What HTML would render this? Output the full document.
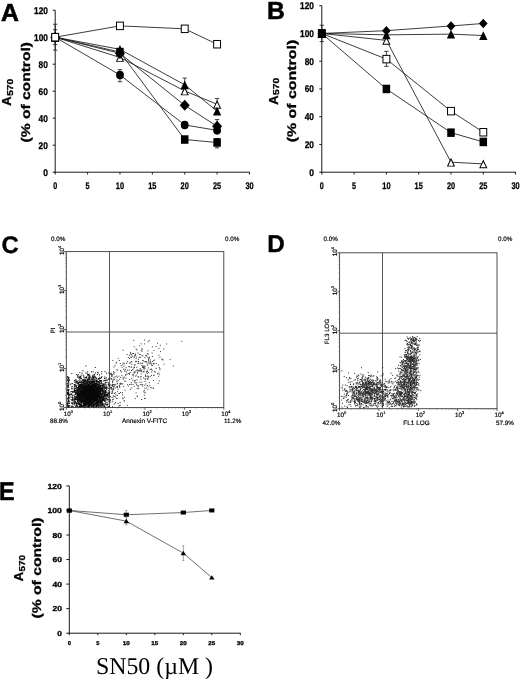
<!DOCTYPE html>
<html><head><meta charset="utf-8"><title>Figure</title>
<style>html,body{margin:0;padding:0;background:#fff}svg{display:block;will-change:transform;transform:translateZ(0)}text{text-rendering:geometricPrecision}</style></head>
<body>
<svg width="520" height="680" viewBox="0 0 520 680">
<rect width="520" height="680" fill="#fff"/>
<defs><filter id="soft" x="0" y="0" width="100%" height="100%" filterUnits="userSpaceOnUse" color-interpolation-filters="sRGB"><feGaussianBlur stdDeviation="0.38"/></filter></defs>
<g filter="url(#soft)">
<text x="1.00" y="21.30" font-family="Liberation Sans, sans-serif" font-weight="bold" font-size="24.8" stroke="#000" stroke-width="0.6" fill="#000">A</text>
<line x1="55.20" y1="10.20" x2="55.20" y2="172.70" stroke="#1a1a1a" stroke-width="1"/>
<line x1="54.70" y1="172.20" x2="249.78" y2="172.20" stroke="#1a1a1a" stroke-width="1"/>
<line x1="52.70" y1="172.20" x2="55.20" y2="172.20" stroke="#1a1a1a" stroke-width="1"/>
<text x="47.90" y="175.60" font-family="Liberation Sans, sans-serif" font-weight="bold" font-size="9.8" text-anchor="end" stroke="#000" stroke-width="0.3" textLength="4.70" lengthAdjust="spacingAndGlyphs" fill="#000">0</text>
<line x1="52.70" y1="145.20" x2="55.20" y2="145.20" stroke="#1a1a1a" stroke-width="1"/>
<text x="47.90" y="148.60" font-family="Liberation Sans, sans-serif" font-weight="bold" font-size="9.8" text-anchor="end" stroke="#000" stroke-width="0.3" textLength="9.30" lengthAdjust="spacingAndGlyphs" fill="#000">20</text>
<line x1="52.70" y1="118.20" x2="55.20" y2="118.20" stroke="#1a1a1a" stroke-width="1"/>
<text x="47.90" y="121.60" font-family="Liberation Sans, sans-serif" font-weight="bold" font-size="9.8" text-anchor="end" stroke="#000" stroke-width="0.3" textLength="9.30" lengthAdjust="spacingAndGlyphs" fill="#000">40</text>
<line x1="52.70" y1="91.20" x2="55.20" y2="91.20" stroke="#1a1a1a" stroke-width="1"/>
<text x="47.90" y="94.60" font-family="Liberation Sans, sans-serif" font-weight="bold" font-size="9.8" text-anchor="end" stroke="#000" stroke-width="0.3" textLength="9.30" lengthAdjust="spacingAndGlyphs" fill="#000">60</text>
<line x1="52.70" y1="64.20" x2="55.20" y2="64.20" stroke="#1a1a1a" stroke-width="1"/>
<text x="47.90" y="67.60" font-family="Liberation Sans, sans-serif" font-weight="bold" font-size="9.8" text-anchor="end" stroke="#000" stroke-width="0.3" textLength="9.30" lengthAdjust="spacingAndGlyphs" fill="#000">80</text>
<line x1="52.70" y1="37.20" x2="55.20" y2="37.20" stroke="#1a1a1a" stroke-width="1"/>
<text x="47.90" y="40.60" font-family="Liberation Sans, sans-serif" font-weight="bold" font-size="9.8" text-anchor="end" stroke="#000" stroke-width="0.3" textLength="13.90" lengthAdjust="spacingAndGlyphs" fill="#000">100</text>
<line x1="52.70" y1="10.20" x2="55.20" y2="10.20" stroke="#1a1a1a" stroke-width="1"/>
<text x="47.90" y="13.60" font-family="Liberation Sans, sans-serif" font-weight="bold" font-size="9.8" text-anchor="end" stroke="#000" stroke-width="0.3" textLength="13.90" lengthAdjust="spacingAndGlyphs" fill="#000">120</text>
<line x1="55.20" y1="172.20" x2="55.20" y2="174.50" stroke="#1a1a1a" stroke-width="1"/>
<text x="55.20" y="189.00" font-family="Liberation Sans, sans-serif" font-weight="bold" font-size="9.6" text-anchor="middle" stroke="#000" stroke-width="0.3" textLength="4.00" lengthAdjust="spacingAndGlyphs" fill="#000">0</text>
<line x1="87.58" y1="172.20" x2="87.58" y2="174.50" stroke="#1a1a1a" stroke-width="1"/>
<text x="87.58" y="189.00" font-family="Liberation Sans, sans-serif" font-weight="bold" font-size="9.6" text-anchor="middle" stroke="#000" stroke-width="0.3" textLength="4.00" lengthAdjust="spacingAndGlyphs" fill="#000">5</text>
<line x1="119.96" y1="172.20" x2="119.96" y2="174.50" stroke="#1a1a1a" stroke-width="1"/>
<text x="119.96" y="189.00" font-family="Liberation Sans, sans-serif" font-weight="bold" font-size="9.6" text-anchor="middle" stroke="#000" stroke-width="0.3" textLength="8.20" lengthAdjust="spacingAndGlyphs" fill="#000">10</text>
<line x1="152.34" y1="172.20" x2="152.34" y2="174.50" stroke="#1a1a1a" stroke-width="1"/>
<text x="152.34" y="189.00" font-family="Liberation Sans, sans-serif" font-weight="bold" font-size="9.6" text-anchor="middle" stroke="#000" stroke-width="0.3" textLength="8.20" lengthAdjust="spacingAndGlyphs" fill="#000">15</text>
<line x1="184.72" y1="172.20" x2="184.72" y2="174.50" stroke="#1a1a1a" stroke-width="1"/>
<text x="184.72" y="189.00" font-family="Liberation Sans, sans-serif" font-weight="bold" font-size="9.6" text-anchor="middle" stroke="#000" stroke-width="0.3" textLength="8.20" lengthAdjust="spacingAndGlyphs" fill="#000">20</text>
<line x1="217.10" y1="172.20" x2="217.10" y2="174.50" stroke="#1a1a1a" stroke-width="1"/>
<text x="217.10" y="189.00" font-family="Liberation Sans, sans-serif" font-weight="bold" font-size="9.6" text-anchor="middle" stroke="#000" stroke-width="0.3" textLength="8.20" lengthAdjust="spacingAndGlyphs" fill="#000">25</text>
<line x1="249.48" y1="172.20" x2="249.48" y2="174.50" stroke="#1a1a1a" stroke-width="1"/>
<text x="249.48" y="189.00" font-family="Liberation Sans, sans-serif" font-weight="bold" font-size="9.6" text-anchor="middle" stroke="#000" stroke-width="0.3" textLength="8.20" lengthAdjust="spacingAndGlyphs" fill="#000">30</text>
<polyline points="55.20,37.20 119.96,57.45 184.72,90.93 217.10,104.29" fill="none" stroke="#1a1a1a" stroke-width="0.85"/>
<polyline points="55.20,37.20 119.96,49.35 184.72,84.85 217.10,111.18" fill="none" stroke="#1a1a1a" stroke-width="0.85"/>
<polyline points="55.20,37.20 119.96,53.40 184.72,105.37 217.10,126.30" fill="none" stroke="#1a1a1a" stroke-width="0.85"/>
<polyline points="55.20,37.20 119.96,75.00 184.72,124.95 217.10,130.35" fill="none" stroke="#1a1a1a" stroke-width="0.85"/>
<polyline points="55.20,37.20 119.96,52.05 184.72,139.53 217.10,142.50" fill="none" stroke="#1a1a1a" stroke-width="0.85"/>
<polyline points="55.20,37.20 119.96,25.86 184.72,28.83 217.10,44.22" fill="none" stroke="#1a1a1a" stroke-width="0.85"/>
<line x1="55.20" y1="29.77" x2="55.20" y2="44.62" stroke="#1a1a1a" stroke-width="0.8"/>
<line x1="53.00" y1="29.77" x2="57.40" y2="29.77" stroke="#1a1a1a" stroke-width="0.8"/>
<line x1="53.00" y1="44.62" x2="57.40" y2="44.62" stroke="#1a1a1a" stroke-width="0.8"/>
<line x1="217.10" y1="98.49" x2="217.10" y2="104.29" stroke="#1a1a1a" stroke-width="0.8"/>
<line x1="214.90" y1="98.49" x2="219.30" y2="98.49" stroke="#1a1a1a" stroke-width="0.8"/>
<line x1="184.72" y1="78.10" x2="184.72" y2="84.85" stroke="#1a1a1a" stroke-width="0.8"/>
<line x1="182.52" y1="78.10" x2="186.92" y2="78.10" stroke="#1a1a1a" stroke-width="0.8"/>
<line x1="217.10" y1="119.55" x2="217.10" y2="126.30" stroke="#1a1a1a" stroke-width="0.8"/>
<line x1="214.90" y1="119.55" x2="219.30" y2="119.55" stroke="#1a1a1a" stroke-width="0.8"/>
<line x1="119.96" y1="69.60" x2="119.96" y2="81.75" stroke="#1a1a1a" stroke-width="0.8"/>
<line x1="117.76" y1="69.60" x2="122.16" y2="69.60" stroke="#1a1a1a" stroke-width="0.8"/>
<line x1="117.76" y1="81.75" x2="122.16" y2="81.75" stroke="#1a1a1a" stroke-width="0.8"/>
<line x1="217.10" y1="138.45" x2="217.10" y2="147.90" stroke="#1a1a1a" stroke-width="0.8"/>
<line x1="214.90" y1="138.45" x2="219.30" y2="138.45" stroke="#1a1a1a" stroke-width="0.8"/>
<line x1="214.90" y1="147.90" x2="219.30" y2="147.90" stroke="#1a1a1a" stroke-width="0.8"/>
<line x1="55.20" y1="24.24" x2="55.20" y2="50.16" stroke="#1a1a1a" stroke-width="0.8"/>
<line x1="53.00" y1="24.24" x2="57.40" y2="24.24" stroke="#1a1a1a" stroke-width="0.8"/>
<line x1="53.00" y1="50.16" x2="57.40" y2="50.16" stroke="#1a1a1a" stroke-width="0.8"/>
<polygon points="55.20,32.85 59.35,41.55 51.05,41.55" fill="#000"/>
<polygon points="55.20,35.25 57.85,40.65 52.55,40.65" fill="#fff"/>
<polygon points="119.96,53.10 124.11,61.80 115.81,61.80" fill="#000"/>
<polygon points="119.96,55.50 122.61,60.90 117.31,60.90" fill="#fff"/>
<polygon points="184.72,86.58 188.87,95.28 180.57,95.28" fill="#000"/>
<polygon points="184.72,88.98 187.37,94.38 182.07,94.38" fill="#fff"/>
<polygon points="217.10,99.94 221.25,108.64 212.95,108.64" fill="#000"/>
<polygon points="217.10,102.34 219.75,107.74 214.45,107.74" fill="#fff"/>
<polygon points="55.20,32.85 59.35,41.55 51.05,41.55" fill="#000"/>
<polygon points="119.96,45.00 124.11,53.70 115.81,53.70" fill="#000"/>
<polygon points="184.72,80.50 188.87,89.20 180.57,89.20" fill="#000"/>
<polygon points="217.10,106.83 221.25,115.53 212.95,115.53" fill="#000"/>
<polygon points="55.20,31.70 60.20,37.20 55.20,42.70 50.20,37.20" fill="#000"/>
<polygon points="119.96,47.90 124.96,53.40 119.96,58.90 114.96,53.40" fill="#000"/>
<polygon points="184.72,99.87 189.72,105.37 184.72,110.87 179.72,105.37" fill="#000"/>
<polygon points="217.10,120.80 222.10,126.30 217.10,131.80 212.10,126.30" fill="#000"/>
<ellipse cx="55.20" cy="37.20" rx="3.90" ry="4.30" fill="#000"/>
<ellipse cx="119.96" cy="75.00" rx="3.90" ry="4.30" fill="#000"/>
<ellipse cx="184.72" cy="124.95" rx="3.90" ry="4.30" fill="#000"/>
<ellipse cx="217.10" cy="130.35" rx="3.90" ry="4.30" fill="#000"/>
<rect x="51.45" y="32.95" width="7.50" height="8.50" fill="#000"/>
<rect x="116.21" y="47.80" width="7.50" height="8.50" fill="#000"/>
<rect x="180.97" y="135.28" width="7.50" height="8.50" fill="#000"/>
<rect x="213.35" y="138.25" width="7.50" height="8.50" fill="#000"/>
<rect x="51.75" y="33.45" width="6.90" height="7.50" fill="#fff" stroke="#000" stroke-width="1"/>
<rect x="116.51" y="22.11" width="6.90" height="7.50" fill="#fff" stroke="#000" stroke-width="1"/>
<rect x="181.27" y="25.08" width="6.90" height="7.50" fill="#fff" stroke="#000" stroke-width="1"/>
<rect x="213.65" y="40.47" width="6.90" height="7.50" fill="#fff" stroke="#000" stroke-width="1"/>
<text transform="translate(11.40,105.70) rotate(-90)" font-family="Liberation Sans, sans-serif" font-weight="bold" font-size="13" stroke="#000" stroke-width="0.3" fill="#000">A</text>
<text transform="translate(12.80,95.80) rotate(-90)" font-family="Liberation Sans, sans-serif" font-weight="bold" font-size="8.6" stroke="#000" stroke-width="0.3" textLength="17.00" lengthAdjust="spacingAndGlyphs" fill="#000">570</text>
<text transform="translate(30.00,142.50) rotate(-90)" font-family="Liberation Sans, sans-serif" font-weight="bold" font-size="12.5" stroke="#000" stroke-width="0.3" textLength="100.50" lengthAdjust="spacingAndGlyphs" fill="#000">(% of control)</text>
<text x="267.00" y="18.90" font-family="Liberation Sans, sans-serif" font-weight="bold" font-size="24.7" stroke="#000" stroke-width="0.5" fill="#000">B</text>
<line x1="321.80" y1="5.70" x2="321.80" y2="172.70" stroke="#1a1a1a" stroke-width="1"/>
<line x1="321.30" y1="172.20" x2="515.90" y2="172.20" stroke="#1a1a1a" stroke-width="1"/>
<line x1="319.30" y1="172.20" x2="321.80" y2="172.20" stroke="#1a1a1a" stroke-width="1"/>
<text x="314.00" y="175.60" font-family="Liberation Sans, sans-serif" font-weight="bold" font-size="9.8" text-anchor="end" stroke="#000" stroke-width="0.3" textLength="4.70" lengthAdjust="spacingAndGlyphs" fill="#000">0</text>
<line x1="319.30" y1="144.45" x2="321.80" y2="144.45" stroke="#1a1a1a" stroke-width="1"/>
<text x="314.00" y="147.85" font-family="Liberation Sans, sans-serif" font-weight="bold" font-size="9.8" text-anchor="end" stroke="#000" stroke-width="0.3" textLength="9.30" lengthAdjust="spacingAndGlyphs" fill="#000">20</text>
<line x1="319.30" y1="116.70" x2="321.80" y2="116.70" stroke="#1a1a1a" stroke-width="1"/>
<text x="314.00" y="120.10" font-family="Liberation Sans, sans-serif" font-weight="bold" font-size="9.8" text-anchor="end" stroke="#000" stroke-width="0.3" textLength="9.30" lengthAdjust="spacingAndGlyphs" fill="#000">40</text>
<line x1="319.30" y1="88.95" x2="321.80" y2="88.95" stroke="#1a1a1a" stroke-width="1"/>
<text x="314.00" y="92.35" font-family="Liberation Sans, sans-serif" font-weight="bold" font-size="9.8" text-anchor="end" stroke="#000" stroke-width="0.3" textLength="9.30" lengthAdjust="spacingAndGlyphs" fill="#000">60</text>
<line x1="319.30" y1="61.20" x2="321.80" y2="61.20" stroke="#1a1a1a" stroke-width="1"/>
<text x="314.00" y="64.60" font-family="Liberation Sans, sans-serif" font-weight="bold" font-size="9.8" text-anchor="end" stroke="#000" stroke-width="0.3" textLength="9.30" lengthAdjust="spacingAndGlyphs" fill="#000">80</text>
<line x1="319.30" y1="33.45" x2="321.80" y2="33.45" stroke="#1a1a1a" stroke-width="1"/>
<text x="314.00" y="36.85" font-family="Liberation Sans, sans-serif" font-weight="bold" font-size="9.8" text-anchor="end" stroke="#000" stroke-width="0.3" textLength="13.90" lengthAdjust="spacingAndGlyphs" fill="#000">100</text>
<line x1="319.30" y1="5.70" x2="321.80" y2="5.70" stroke="#1a1a1a" stroke-width="1"/>
<text x="314.00" y="9.10" font-family="Liberation Sans, sans-serif" font-weight="bold" font-size="9.8" text-anchor="end" stroke="#000" stroke-width="0.3" textLength="13.90" lengthAdjust="spacingAndGlyphs" fill="#000">120</text>
<line x1="321.80" y1="172.20" x2="321.80" y2="174.50" stroke="#1a1a1a" stroke-width="1"/>
<text x="321.80" y="189.00" font-family="Liberation Sans, sans-serif" font-weight="bold" font-size="9.6" text-anchor="middle" stroke="#000" stroke-width="0.3" textLength="4.00" lengthAdjust="spacingAndGlyphs" fill="#000">0</text>
<line x1="354.10" y1="172.20" x2="354.10" y2="174.50" stroke="#1a1a1a" stroke-width="1"/>
<text x="354.10" y="189.00" font-family="Liberation Sans, sans-serif" font-weight="bold" font-size="9.6" text-anchor="middle" stroke="#000" stroke-width="0.3" textLength="4.00" lengthAdjust="spacingAndGlyphs" fill="#000">5</text>
<line x1="386.40" y1="172.20" x2="386.40" y2="174.50" stroke="#1a1a1a" stroke-width="1"/>
<text x="386.40" y="189.00" font-family="Liberation Sans, sans-serif" font-weight="bold" font-size="9.6" text-anchor="middle" stroke="#000" stroke-width="0.3" textLength="8.20" lengthAdjust="spacingAndGlyphs" fill="#000">10</text>
<line x1="418.70" y1="172.20" x2="418.70" y2="174.50" stroke="#1a1a1a" stroke-width="1"/>
<text x="418.70" y="189.00" font-family="Liberation Sans, sans-serif" font-weight="bold" font-size="9.6" text-anchor="middle" stroke="#000" stroke-width="0.3" textLength="8.20" lengthAdjust="spacingAndGlyphs" fill="#000">15</text>
<line x1="451.00" y1="172.20" x2="451.00" y2="174.50" stroke="#1a1a1a" stroke-width="1"/>
<text x="451.00" y="189.00" font-family="Liberation Sans, sans-serif" font-weight="bold" font-size="9.6" text-anchor="middle" stroke="#000" stroke-width="0.3" textLength="8.20" lengthAdjust="spacingAndGlyphs" fill="#000">20</text>
<line x1="483.30" y1="172.20" x2="483.30" y2="174.50" stroke="#1a1a1a" stroke-width="1"/>
<text x="483.30" y="189.00" font-family="Liberation Sans, sans-serif" font-weight="bold" font-size="9.6" text-anchor="middle" stroke="#000" stroke-width="0.3" textLength="8.20" lengthAdjust="spacingAndGlyphs" fill="#000">25</text>
<line x1="515.60" y1="172.20" x2="515.60" y2="174.50" stroke="#1a1a1a" stroke-width="1"/>
<text x="515.60" y="189.00" font-family="Liberation Sans, sans-serif" font-weight="bold" font-size="9.6" text-anchor="middle" stroke="#000" stroke-width="0.3" textLength="8.20" lengthAdjust="spacingAndGlyphs" fill="#000">30</text>
<polyline points="321.80,33.45 386.40,40.39 451.00,162.21 483.30,163.88" fill="none" stroke="#1a1a1a" stroke-width="0.85"/>
<polyline points="321.80,33.45 386.40,59.12 451.00,111.15 483.30,132.24" fill="none" stroke="#1a1a1a" stroke-width="0.85"/>
<polyline points="321.80,33.45 386.40,88.95 451.00,132.66 483.30,141.95" fill="none" stroke="#1a1a1a" stroke-width="0.85"/>
<polyline points="321.80,33.45 386.40,34.84 451.00,34.14 483.30,35.53" fill="none" stroke="#1a1a1a" stroke-width="0.85"/>
<polyline points="321.80,33.45 386.40,30.67 451.00,25.96 483.30,23.46" fill="none" stroke="#1a1a1a" stroke-width="0.85"/>
<line x1="386.40" y1="51.35" x2="386.40" y2="66.33" stroke="#1a1a1a" stroke-width="0.8"/>
<line x1="384.20" y1="51.35" x2="388.60" y2="51.35" stroke="#1a1a1a" stroke-width="0.8"/>
<line x1="384.20" y1="66.33" x2="388.60" y2="66.33" stroke="#1a1a1a" stroke-width="0.8"/>
<line x1="321.80" y1="25.26" x2="321.80" y2="41.64" stroke="#1a1a1a" stroke-width="0.8"/>
<line x1="319.60" y1="25.26" x2="324.00" y2="25.26" stroke="#1a1a1a" stroke-width="0.8"/>
<line x1="319.60" y1="41.64" x2="324.00" y2="41.64" stroke="#1a1a1a" stroke-width="0.8"/>
<polygon points="321.80,29.10 325.95,37.80 317.65,37.80" fill="#000"/>
<polygon points="321.80,31.50 324.45,36.90 319.15,36.90" fill="#fff"/>
<polygon points="386.40,36.04 390.55,44.74 382.25,44.74" fill="#000"/>
<polygon points="386.40,38.44 389.05,43.84 383.75,43.84" fill="#fff"/>
<polygon points="451.00,157.86 455.15,166.56 446.85,166.56" fill="#000"/>
<polygon points="451.00,160.26 453.65,165.66 448.35,165.66" fill="#fff"/>
<polygon points="483.30,159.53 487.45,168.22 479.15,168.22" fill="#000"/>
<polygon points="483.30,161.93 485.95,167.32 480.65,167.32" fill="#fff"/>
<rect x="318.35" y="29.70" width="6.90" height="7.50" fill="#fff" stroke="#000" stroke-width="1"/>
<rect x="382.95" y="55.37" width="6.90" height="7.50" fill="#fff" stroke="#000" stroke-width="1"/>
<rect x="447.55" y="107.40" width="6.90" height="7.50" fill="#fff" stroke="#000" stroke-width="1"/>
<rect x="479.85" y="128.49" width="6.90" height="7.50" fill="#fff" stroke="#000" stroke-width="1"/>
<rect x="318.05" y="29.20" width="7.50" height="8.50" fill="#000"/>
<rect x="382.65" y="84.70" width="7.50" height="8.50" fill="#000"/>
<rect x="447.25" y="128.41" width="7.50" height="8.50" fill="#000"/>
<rect x="479.55" y="137.70" width="7.50" height="8.50" fill="#000"/>
<polygon points="321.80,29.10 325.95,37.80 317.65,37.80" fill="#000"/>
<polygon points="386.40,30.49 390.55,39.19 382.25,39.19" fill="#000"/>
<polygon points="451.00,29.79 455.15,38.49 446.85,38.49" fill="#000"/>
<polygon points="483.30,31.18 487.45,39.88 479.15,39.88" fill="#000"/>
<polygon points="321.80,28.66 326.15,33.45 321.80,38.23 317.45,33.45" fill="#000"/>
<polygon points="386.40,25.89 390.75,30.67 386.40,35.46 382.05,30.67" fill="#000"/>
<polygon points="451.00,21.17 455.35,25.96 451.00,30.74 446.65,25.96" fill="#000"/>
<polygon points="483.30,18.67 487.65,23.46 483.30,28.24 478.95,23.46" fill="#000"/>
<text transform="translate(277.50,104.80) rotate(-90)" font-family="Liberation Sans, sans-serif" font-weight="bold" font-size="13" stroke="#000" stroke-width="0.3" fill="#000">A</text>
<text transform="translate(279.30,94.90) rotate(-90)" font-family="Liberation Sans, sans-serif" font-weight="bold" font-size="8.6" stroke="#000" stroke-width="0.3" textLength="17.00" lengthAdjust="spacingAndGlyphs" fill="#000">570</text>
<text transform="translate(295.50,142.30) rotate(-90)" font-family="Liberation Sans, sans-serif" font-weight="bold" font-size="12.5" stroke="#000" stroke-width="0.3" textLength="102.50" lengthAdjust="spacingAndGlyphs" fill="#000">(% of control)</text>
<rect x="66.30" y="251.60" width="157.50" height="155.90" fill="none" stroke="#3a3a3a" stroke-width="0.9"/>
<line x1="109.50" y1="251.60" x2="109.50" y2="407.50" stroke="#3a3a3a" stroke-width="0.85"/>
<line x1="66.30" y1="332.00" x2="223.80" y2="332.00" stroke="#3a3a3a" stroke-width="0.85"/>
<text x="1.40" y="253.10" font-family="Liberation Sans, sans-serif" font-weight="bold" font-size="23.9" stroke="#000" stroke-width="0.35" fill="#000">C</text>
<line x1="78.15" y1="407.50" x2="78.15" y2="408.70" stroke="#777" stroke-width="0.6"/>
<line x1="65.10" y1="395.77" x2="66.30" y2="395.77" stroke="#777" stroke-width="0.6"/>
<line x1="85.09" y1="407.50" x2="85.09" y2="408.70" stroke="#777" stroke-width="0.6"/>
<line x1="65.10" y1="388.90" x2="66.30" y2="388.90" stroke="#777" stroke-width="0.6"/>
<line x1="90.01" y1="407.50" x2="90.01" y2="408.70" stroke="#777" stroke-width="0.6"/>
<line x1="65.10" y1="384.03" x2="66.30" y2="384.03" stroke="#777" stroke-width="0.6"/>
<line x1="93.82" y1="407.50" x2="93.82" y2="408.70" stroke="#777" stroke-width="0.6"/>
<line x1="65.10" y1="380.26" x2="66.30" y2="380.26" stroke="#777" stroke-width="0.6"/>
<line x1="96.94" y1="407.50" x2="96.94" y2="408.70" stroke="#777" stroke-width="0.6"/>
<line x1="65.10" y1="377.17" x2="66.30" y2="377.17" stroke="#777" stroke-width="0.6"/>
<line x1="99.58" y1="407.50" x2="99.58" y2="408.70" stroke="#777" stroke-width="0.6"/>
<line x1="65.10" y1="374.56" x2="66.30" y2="374.56" stroke="#777" stroke-width="0.6"/>
<line x1="101.86" y1="407.50" x2="101.86" y2="408.70" stroke="#777" stroke-width="0.6"/>
<line x1="65.10" y1="372.30" x2="66.30" y2="372.30" stroke="#777" stroke-width="0.6"/>
<line x1="103.87" y1="407.50" x2="103.87" y2="408.70" stroke="#777" stroke-width="0.6"/>
<line x1="65.10" y1="370.31" x2="66.30" y2="370.31" stroke="#777" stroke-width="0.6"/>
<line x1="117.53" y1="407.50" x2="117.53" y2="408.70" stroke="#777" stroke-width="0.6"/>
<line x1="65.10" y1="356.79" x2="66.30" y2="356.79" stroke="#777" stroke-width="0.6"/>
<line x1="124.46" y1="407.50" x2="124.46" y2="408.70" stroke="#777" stroke-width="0.6"/>
<line x1="65.10" y1="349.93" x2="66.30" y2="349.93" stroke="#777" stroke-width="0.6"/>
<line x1="129.38" y1="407.50" x2="129.38" y2="408.70" stroke="#777" stroke-width="0.6"/>
<line x1="65.10" y1="345.06" x2="66.30" y2="345.06" stroke="#777" stroke-width="0.6"/>
<line x1="133.20" y1="407.50" x2="133.20" y2="408.70" stroke="#777" stroke-width="0.6"/>
<line x1="65.10" y1="341.28" x2="66.30" y2="341.28" stroke="#777" stroke-width="0.6"/>
<line x1="136.31" y1="407.50" x2="136.31" y2="408.70" stroke="#777" stroke-width="0.6"/>
<line x1="65.10" y1="338.20" x2="66.30" y2="338.20" stroke="#777" stroke-width="0.6"/>
<line x1="138.95" y1="407.50" x2="138.95" y2="408.70" stroke="#777" stroke-width="0.6"/>
<line x1="65.10" y1="335.59" x2="66.30" y2="335.59" stroke="#777" stroke-width="0.6"/>
<line x1="141.23" y1="407.50" x2="141.23" y2="408.70" stroke="#777" stroke-width="0.6"/>
<line x1="65.10" y1="333.33" x2="66.30" y2="333.33" stroke="#777" stroke-width="0.6"/>
<line x1="143.25" y1="407.50" x2="143.25" y2="408.70" stroke="#777" stroke-width="0.6"/>
<line x1="65.10" y1="331.33" x2="66.30" y2="331.33" stroke="#777" stroke-width="0.6"/>
<line x1="156.90" y1="407.50" x2="156.90" y2="408.70" stroke="#777" stroke-width="0.6"/>
<line x1="65.10" y1="317.82" x2="66.30" y2="317.82" stroke="#777" stroke-width="0.6"/>
<line x1="163.84" y1="407.50" x2="163.84" y2="408.70" stroke="#777" stroke-width="0.6"/>
<line x1="65.10" y1="310.95" x2="66.30" y2="310.95" stroke="#777" stroke-width="0.6"/>
<line x1="168.76" y1="407.50" x2="168.76" y2="408.70" stroke="#777" stroke-width="0.6"/>
<line x1="65.10" y1="306.08" x2="66.30" y2="306.08" stroke="#777" stroke-width="0.6"/>
<line x1="172.57" y1="407.50" x2="172.57" y2="408.70" stroke="#777" stroke-width="0.6"/>
<line x1="65.10" y1="302.31" x2="66.30" y2="302.31" stroke="#777" stroke-width="0.6"/>
<line x1="175.69" y1="407.50" x2="175.69" y2="408.70" stroke="#777" stroke-width="0.6"/>
<line x1="65.10" y1="299.22" x2="66.30" y2="299.22" stroke="#777" stroke-width="0.6"/>
<line x1="178.33" y1="407.50" x2="178.33" y2="408.70" stroke="#777" stroke-width="0.6"/>
<line x1="65.10" y1="296.61" x2="66.30" y2="296.61" stroke="#777" stroke-width="0.6"/>
<line x1="180.61" y1="407.50" x2="180.61" y2="408.70" stroke="#777" stroke-width="0.6"/>
<line x1="65.10" y1="294.35" x2="66.30" y2="294.35" stroke="#777" stroke-width="0.6"/>
<line x1="182.62" y1="407.50" x2="182.62" y2="408.70" stroke="#777" stroke-width="0.6"/>
<line x1="65.10" y1="292.36" x2="66.30" y2="292.36" stroke="#777" stroke-width="0.6"/>
<line x1="196.28" y1="407.50" x2="196.28" y2="408.70" stroke="#777" stroke-width="0.6"/>
<line x1="65.10" y1="278.84" x2="66.30" y2="278.84" stroke="#777" stroke-width="0.6"/>
<line x1="203.21" y1="407.50" x2="203.21" y2="408.70" stroke="#777" stroke-width="0.6"/>
<line x1="65.10" y1="271.98" x2="66.30" y2="271.98" stroke="#777" stroke-width="0.6"/>
<line x1="208.13" y1="407.50" x2="208.13" y2="408.70" stroke="#777" stroke-width="0.6"/>
<line x1="65.10" y1="267.11" x2="66.30" y2="267.11" stroke="#777" stroke-width="0.6"/>
<line x1="211.95" y1="407.50" x2="211.95" y2="408.70" stroke="#777" stroke-width="0.6"/>
<line x1="65.10" y1="263.33" x2="66.30" y2="263.33" stroke="#777" stroke-width="0.6"/>
<line x1="215.06" y1="407.50" x2="215.06" y2="408.70" stroke="#777" stroke-width="0.6"/>
<line x1="65.10" y1="260.25" x2="66.30" y2="260.25" stroke="#777" stroke-width="0.6"/>
<line x1="217.70" y1="407.50" x2="217.70" y2="408.70" stroke="#777" stroke-width="0.6"/>
<line x1="65.10" y1="257.64" x2="66.30" y2="257.64" stroke="#777" stroke-width="0.6"/>
<line x1="219.98" y1="407.50" x2="219.98" y2="408.70" stroke="#777" stroke-width="0.6"/>
<line x1="65.10" y1="255.38" x2="66.30" y2="255.38" stroke="#777" stroke-width="0.6"/>
<line x1="222.00" y1="407.50" x2="222.00" y2="408.70" stroke="#777" stroke-width="0.6"/>
<line x1="65.10" y1="253.38" x2="66.30" y2="253.38" stroke="#777" stroke-width="0.6"/>
<line x1="66.30" y1="407.50" x2="66.30" y2="409.70" stroke="#333" stroke-width="0.8"/>
<text x="63.70" y="415.80" font-family="Liberation Sans, sans-serif" font-weight="normal" font-size="6.3" stroke="#000" stroke-width="0.18" fill="#000">10<tspan font-size="4" dy="-2.8">0</tspan></text>
<line x1="64.10" y1="407.50" x2="66.30" y2="407.50" stroke="#333" stroke-width="0.8"/>
<text transform="translate(63.90,410.90) rotate(-90)" font-family="Liberation Sans, sans-serif" font-weight="normal" font-size="6.3" stroke="#000" stroke-width="0.18" fill="#000">10<tspan font-size="4" dy="-2.8">0</tspan></text>
<line x1="105.67" y1="407.50" x2="105.67" y2="409.70" stroke="#333" stroke-width="0.8"/>
<text x="103.08" y="415.80" font-family="Liberation Sans, sans-serif" font-weight="normal" font-size="6.3" stroke="#000" stroke-width="0.18" fill="#000">10<tspan font-size="4" dy="-2.8">1</tspan></text>
<line x1="64.10" y1="368.52" x2="66.30" y2="368.52" stroke="#333" stroke-width="0.8"/>
<text transform="translate(63.90,371.92) rotate(-90)" font-family="Liberation Sans, sans-serif" font-weight="normal" font-size="6.3" stroke="#000" stroke-width="0.18" fill="#000">10<tspan font-size="4" dy="-2.8">1</tspan></text>
<line x1="145.05" y1="407.50" x2="145.05" y2="409.70" stroke="#333" stroke-width="0.8"/>
<text x="142.45" y="415.80" font-family="Liberation Sans, sans-serif" font-weight="normal" font-size="6.3" stroke="#000" stroke-width="0.18" fill="#000">10<tspan font-size="4" dy="-2.8">2</tspan></text>
<line x1="64.10" y1="329.55" x2="66.30" y2="329.55" stroke="#333" stroke-width="0.8"/>
<text transform="translate(63.90,332.95) rotate(-90)" font-family="Liberation Sans, sans-serif" font-weight="normal" font-size="6.3" stroke="#000" stroke-width="0.18" fill="#000">10<tspan font-size="4" dy="-2.8">2</tspan></text>
<line x1="184.43" y1="407.50" x2="184.43" y2="409.70" stroke="#333" stroke-width="0.8"/>
<text x="181.83" y="415.80" font-family="Liberation Sans, sans-serif" font-weight="normal" font-size="6.3" stroke="#000" stroke-width="0.18" fill="#000">10<tspan font-size="4" dy="-2.8">3</tspan></text>
<line x1="64.10" y1="290.57" x2="66.30" y2="290.57" stroke="#333" stroke-width="0.8"/>
<text transform="translate(63.90,293.97) rotate(-90)" font-family="Liberation Sans, sans-serif" font-weight="normal" font-size="6.3" stroke="#000" stroke-width="0.18" fill="#000">10<tspan font-size="4" dy="-2.8">3</tspan></text>
<line x1="223.80" y1="407.50" x2="223.80" y2="409.70" stroke="#333" stroke-width="0.8"/>
<text x="221.20" y="415.80" font-family="Liberation Sans, sans-serif" font-weight="normal" font-size="6.3" stroke="#000" stroke-width="0.18" fill="#000">10<tspan font-size="4" dy="-2.8">4</tspan></text>
<line x1="64.10" y1="251.60" x2="66.30" y2="251.60" stroke="#333" stroke-width="0.8"/>
<text transform="translate(63.90,255.00) rotate(-90)" font-family="Liberation Sans, sans-serif" font-weight="normal" font-size="6.3" stroke="#000" stroke-width="0.18" fill="#000">10<tspan font-size="4" dy="-2.8">4</tspan></text>
<text transform="translate(54.60,330.50) rotate(-90)" font-family="Liberation Sans, sans-serif" font-weight="normal" font-size="6.2" text-anchor="middle" stroke="#000" stroke-width="0.18" fill="#000">PI</text>
<text x="144.50" y="423.40" font-family="Liberation Sans, sans-serif" font-weight="normal" font-size="6.4" text-anchor="middle" stroke="#000" stroke-width="0.18" fill="#000">Annexin V-FITC</text>
<text x="51.00" y="240.70" font-family="Liberation Sans, sans-serif" font-weight="normal" font-size="6.3" stroke="#000" stroke-width="0.18" fill="#000">0.0%</text>
<text x="225.00" y="240.70" font-family="Liberation Sans, sans-serif" font-weight="normal" font-size="6.3" stroke="#000" stroke-width="0.18" fill="#000">0.0%</text>
<text x="50.00" y="423.40" font-family="Liberation Sans, sans-serif" font-weight="normal" font-size="6.3" stroke="#000" stroke-width="0.18" fill="#000">88.8%</text>
<text x="224.00" y="423.40" font-family="Liberation Sans, sans-serif" font-weight="normal" font-size="6.3" stroke="#000" stroke-width="0.18" fill="#000">11.2%</text>
<path d="M86.6 398.7h1M86.9 391.9h1M80.4 392.7h1M99.3 398.0h1M98.6 396.6h1M92.7 396.0h1M91.2 406.0h1M100.5 391.0h1M93.8 389.2h1M91.9 397.8h1M94.2 404.4h1M83.2 388.4h1M85.8 393.6h1M94.9 396.6h1M84.8 386.6h1M84.2 404.6h1M81.5 396.5h1M93.0 382.1h1M89.5 405.3h1M70.3 391.8h1M96.1 400.3h1M89.2 389.7h1M86.4 394.7h1M81.2 382.2h1M84.8 384.0h1M80.0 390.1h1M101.0 377.6h1M75.4 396.5h1M102.4 399.3h1M71.3 373.6h1M87.0 402.5h1M88.0 393.0h1M83.5 395.7h1M91.4 396.4h1M89.6 390.2h1M89.1 402.8h1M91.6 392.0h1M77.8 397.8h1M101.8 384.2h1M93.9 389.4h1M81.4 398.5h1M106.5 380.6h1M92.4 398.7h1M89.8 400.5h1M76.7 395.5h1M88.9 395.2h1M81.2 398.4h1M68.0 386.2h1M76.2 393.4h1M87.6 392.0h1M102.1 386.0h1M100.7 384.0h1M81.7 399.7h1M99.5 401.6h1M92.2 395.7h1M90.4 399.3h1M87.4 396.8h1M94.3 394.5h1M96.1 399.2h1M107.7 397.2h1M85.0 391.4h1M88.9 402.2h1M85.9 397.7h1M106.1 373.2h1M78.5 396.5h1M92.7 396.5h1M85.0 399.9h1M91.6 390.2h1M111.6 397.4h1M83.8 393.7h1M86.9 394.0h1M86.6 388.4h1M85.2 398.2h1M90.6 384.4h1M90.5 387.2h1M107.1 393.0h1M94.9 380.1h1M88.6 388.6h1M80.3 393.6h1M91.2 394.9h1M87.7 400.8h1M80.8 375.1h1M68.3 400.9h1M97.5 392.3h1M90.2 400.4h1M91.1 399.8h1M74.8 382.0h1M94.7 386.5h1M79.5 382.3h1M100.8 400.7h1M102.7 386.7h1M89.0 385.0h1M98.2 393.0h1M70.7 406.2h1M91.3 398.3h1M90.8 390.1h1M101.1 373.9h1M84.2 388.1h1M84.3 393.2h1M113.6 396.5h1M82.3 386.3h1M98.1 390.9h1M101.0 383.3h1M90.7 400.6h1M87.2 400.4h1M82.8 391.2h1M84.7 396.6h1M96.3 390.3h1M77.1 397.4h1M97.0 389.6h1M98.5 389.7h1M77.9 392.5h1M98.9 395.5h1M89.3 395.2h1M90.7 389.6h1M74.3 396.7h1M81.3 391.9h1M77.2 393.3h1M89.9 390.7h1M82.5 392.2h1M77.1 394.0h1M90.3 376.2h1M77.0 398.5h1M77.9 394.2h1M85.4 386.0h1M78.6 392.5h1M102.5 389.9h1M104.9 380.6h1M88.3 405.1h1M105.7 389.0h1M92.1 397.7h1M85.6 395.6h1M89.2 397.7h1M81.1 381.8h1M93.3 391.6h1M86.1 382.6h1M95.4 393.3h1M98.0 392.0h1M94.2 402.0h1M80.6 393.8h1M91.7 401.4h1M88.7 392.9h1M79.6 391.5h1M97.3 395.3h1M81.1 387.5h1M113.8 404.0h1M94.9 373.0h1M94.8 398.5h1M104.7 398.1h1M88.4 398.8h1M70.9 403.1h1M88.7 399.2h1M99.6 389.3h1M87.8 391.1h1M102.3 399.0h1M85.8 396.0h1M101.2 390.1h1M90.2 391.2h1M91.1 392.1h1M95.7 387.6h1M82.7 403.4h1M95.6 391.6h1M96.8 401.9h1M89.3 398.5h1M90.6 396.8h1M91.4 401.4h1M86.3 404.0h1M92.8 401.4h1M96.0 395.2h1M104.0 395.8h1M83.3 392.8h1M93.2 386.5h1M74.8 394.0h1M97.5 393.7h1M96.2 383.2h1M82.8 388.1h1M87.2 396.8h1M91.4 396.8h1M88.6 388.1h1M91.0 397.5h1M99.2 380.4h1M85.4 388.6h1M89.4 401.4h1M83.7 395.7h1M82.1 396.7h1M113.2 389.2h1M82.3 392.7h1M96.8 393.0h1M88.7 394.8h1M81.2 400.9h1M82.8 394.4h1M88.1 394.5h1M88.6 398.1h1M86.8 395.9h1M96.8 395.5h1M90.3 405.5h1M73.8 392.0h1M84.9 377.8h1M82.6 399.2h1M94.3 394.0h1M86.8 382.7h1M106.0 398.8h1M99.2 387.2h1M87.3 379.4h1M96.3 402.3h1M71.4 394.1h1M94.7 384.7h1M100.0 386.7h1M86.7 388.9h1M93.9 395.4h1M86.2 397.5h1M95.1 385.4h1M79.9 386.1h1M84.5 385.8h1M105.6 394.8h1M88.9 384.7h1M75.7 391.8h1M102.9 400.0h1M88.9 397.8h1M99.7 393.0h1M81.1 400.9h1M82.6 381.5h1M79.1 386.5h1M93.6 396.7h1M85.0 404.6h1M92.3 394.7h1M87.4 406.8h1M84.0 382.9h1M86.2 404.2h1M78.8 396.5h1M103.5 406.4h1M90.6 393.9h1M72.3 398.4h1M82.0 396.6h1M92.0 405.1h1M96.1 402.4h1M93.7 393.2h1M93.7 385.6h1M100.0 386.1h1M86.9 394.7h1M99.8 394.7h1M81.5 396.6h1M94.4 400.4h1M104.5 394.7h1M91.5 390.9h1M102.2 388.6h1M95.3 390.5h1M82.5 400.5h1M101.4 394.4h1M82.7 401.2h1M88.5 397.1h1M103.2 403.9h1M89.0 401.0h1M83.0 394.1h1M94.0 383.7h1M107.9 384.3h1M74.9 390.5h1M103.4 398.6h1M74.2 398.7h1M84.3 389.1h1M109.3 400.2h1M96.3 401.2h1M84.7 400.3h1M87.2 371.8h1M88.1 406.6h1M85.3 404.6h1M84.6 397.6h1M92.3 399.3h1M98.1 389.1h1M99.2 394.3h1M92.9 398.7h1M96.2 398.6h1M94.8 397.8h1M88.4 405.3h1M100.8 385.5h1M80.8 399.0h1M80.1 393.3h1M87.2 397.0h1M96.7 401.5h1M76.3 382.5h1M90.6 400.9h1M89.1 402.9h1M90.4 393.3h1M103.3 397.1h1M97.3 388.8h1M88.8 394.4h1M72.5 406.5h1M104.3 377.0h1M89.0 398.5h1M95.4 402.8h1M79.8 376.5h1M86.6 382.7h1M90.0 385.4h1M86.5 393.8h1M90.4 388.6h1M100.7 388.7h1M87.4 398.6h1M88.9 406.3h1M87.6 390.7h1M99.2 398.8h1M81.0 390.4h1M91.1 405.6h1M96.9 395.0h1M96.9 388.2h1M89.7 400.7h1M103.1 391.3h1M88.3 396.1h1M75.1 394.6h1M82.7 397.6h1M78.5 378.1h1M89.4 396.7h1M83.9 401.9h1M86.5 389.5h1M93.4 381.5h1M82.7 394.3h1M96.9 393.1h1M91.9 389.1h1M83.0 394.6h1M90.6 403.0h1M77.5 377.1h1M94.6 401.1h1M90.9 396.6h1M97.6 397.6h1M104.5 384.2h1M85.5 365.9h1M96.6 391.4h1M88.9 392.4h1M84.4 387.5h1M83.1 399.8h1M89.3 395.1h1M87.4 402.1h1M93.6 393.3h1M95.2 393.2h1M78.3 406.6h1M93.3 386.6h1M99.0 397.4h1M92.1 401.9h1M90.8 393.3h1M74.6 402.6h1M89.3 392.1h1M92.3 395.1h1M95.3 391.4h1M88.7 376.7h1M85.1 400.1h1M101.4 391.5h1M86.0 400.6h1M104.6 394.8h1M100.4 388.6h1M90.9 393.9h1M90.1 403.9h1M111.2 389.0h1M83.7 398.6h1M79.2 398.6h1M94.3 392.2h1M93.9 381.6h1M96.1 381.7h1M82.5 389.9h1M85.3 401.6h1M89.8 391.2h1M89.1 397.5h1M100.5 396.7h1M109.5 378.0h1M88.6 398.0h1M98.0 400.1h1M86.5 385.8h1M90.0 403.1h1M78.9 386.0h1M88.8 378.4h1M86.6 390.9h1M93.2 388.7h1M80.8 391.2h1M88.5 389.0h1M89.1 400.7h1M81.7 391.0h1M72.0 396.9h1M91.3 393.3h1M87.7 398.5h1M95.8 387.7h1M93.1 393.2h1M78.4 387.9h1M90.8 402.3h1M93.0 398.9h1M88.6 405.7h1M85.4 389.9h1M97.3 395.0h1M86.4 389.7h1M86.6 399.7h1M92.3 384.5h1M93.0 396.0h1M79.7 400.9h1M86.4 391.7h1M96.4 405.5h1M82.6 398.1h1M84.4 404.4h1M83.0 401.2h1M109.6 373.4h1M85.0 398.7h1M88.1 389.0h1M109.0 395.2h1M96.7 388.3h1M89.8 395.7h1M76.4 390.7h1M92.4 392.6h1M82.6 389.0h1M83.8 394.4h1M86.7 404.4h1M93.0 392.7h1M72.2 395.4h1M90.6 398.6h1M112.7 386.6h1M85.9 394.8h1M97.2 390.8h1M99.7 388.0h1M91.5 390.1h1M90.5 388.8h1M74.1 403.6h1M91.8 389.9h1M90.9 402.7h1M79.9 393.6h1M94.0 398.9h1M85.9 377.0h1M100.6 397.2h1M89.1 392.2h1M91.4 391.0h1M79.5 388.4h1M83.4 389.4h1M78.2 399.8h1M76.8 400.0h1M79.6 397.4h1M101.8 396.2h1M82.2 394.9h1M90.4 380.1h1M83.3 395.9h1M84.6 395.2h1M95.8 400.9h1M97.4 399.4h1M86.3 394.3h1M86.5 391.9h1M87.3 380.2h1M85.9 394.3h1M79.9 394.3h1M93.8 393.1h1M108.3 372.9h1M87.1 379.3h1M92.1 393.2h1M79.7 405.7h1M95.8 402.2h1M94.6 391.8h1M88.1 404.3h1M87.9 396.6h1M91.3 399.0h1M101.9 389.6h1M93.5 391.4h1M90.0 390.5h1M76.0 392.2h1M77.5 390.8h1M92.2 391.9h1M102.1 394.0h1M75.9 403.6h1M81.2 390.8h1M89.9 385.6h1M95.8 406.8h1M105.4 399.1h1M88.7 406.3h1M101.3 393.4h1M84.8 388.3h1M91.4 394.5h1M96.6 403.8h1M78.8 398.6h1M92.9 391.8h1M90.9 406.5h1M89.7 394.6h1M86.3 397.6h1M84.9 399.1h1M78.3 388.9h1M92.7 405.6h1M84.1 395.2h1M95.4 392.1h1M91.5 397.5h1M76.8 381.7h1M90.9 386.3h1M88.9 395.8h1M81.7 386.1h1M81.1 404.2h1M68.5 401.3h1M100.0 397.3h1M83.3 397.9h1M104.1 399.7h1M100.7 395.3h1M93.8 392.8h1M93.0 405.3h1M75.7 394.0h1M91.2 389.8h1M86.1 401.0h1M107.6 399.7h1M92.0 381.6h1M106.9 395.1h1M88.7 385.2h1M88.5 385.4h1M89.7 398.4h1M89.3 396.8h1M81.1 406.4h1M82.9 379.4h1M87.3 388.2h1M79.6 391.6h1M91.7 384.7h1M87.7 406.3h1M95.3 393.2h1M90.2 393.5h1M88.6 400.6h1M88.1 374.5h1M88.8 387.1h1M95.1 389.4h1M79.3 385.2h1M75.9 374.6h1M71.5 397.5h1M95.2 387.6h1M87.1 383.8h1M86.7 399.9h1M86.3 392.2h1M93.4 392.0h1M93.4 395.2h1M96.7 391.2h1M90.4 396.1h1M102.8 397.8h1M79.4 384.9h1M88.7 391.4h1M81.6 390.3h1M96.1 380.5h1M91.7 392.6h1M102.9 380.9h1M93.2 393.1h1M90.2 398.4h1M106.6 398.0h1M94.0 383.6h1M95.0 384.1h1M88.0 398.2h1M101.8 402.6h1M91.3 401.5h1M87.3 395.3h1M88.7 401.3h1M87.1 386.7h1M70.8 394.1h1M98.4 396.2h1M74.2 400.1h1M80.7 405.1h1M82.7 393.1h1M91.6 391.7h1M91.4 389.9h1M95.2 394.5h1M91.0 371.7h1M99.8 394.8h1M80.4 394.8h1M92.6 388.9h1M96.1 392.2h1M84.5 394.5h1M86.5 391.9h1M92.4 382.0h1M92.0 383.1h1M83.2 401.1h1M90.6 393.3h1M91.0 400.7h1M97.9 388.8h1M75.0 406.3h1M90.1 403.7h1M73.7 391.8h1M83.8 388.4h1M86.5 398.8h1M96.6 384.3h1M88.7 389.4h1M74.1 399.9h1M84.8 392.4h1M91.8 401.1h1M83.8 379.2h1M92.1 398.5h1M89.1 401.9h1M83.5 393.8h1M86.2 399.2h1M103.8 392.4h1M96.4 399.4h1M105.5 393.0h1M88.0 385.7h1M93.4 405.7h1M94.0 398.0h1M87.1 395.9h1M75.7 403.2h1M85.2 385.3h1M82.0 387.7h1M97.0 403.3h1M76.4 402.2h1M97.3 389.7h1M75.2 388.3h1M83.1 397.3h1M85.7 377.7h1M91.2 381.8h1M97.4 384.5h1M82.6 387.4h1M84.0 405.3h1M96.9 399.5h1M92.0 381.7h1M84.2 389.9h1M79.9 398.7h1M82.1 388.6h1M79.3 377.4h1M94.5 405.5h1M90.6 386.4h1M83.7 393.2h1M93.4 375.2h1M84.7 394.0h1M78.6 389.8h1M86.7 384.8h1M77.8 382.5h1M79.5 393.3h1M95.0 392.7h1M85.3 386.9h1M89.4 390.3h1M97.7 393.7h1M96.0 396.8h1M87.8 395.3h1M80.5 398.7h1M86.2 387.2h1M88.4 400.4h1M87.8 374.8h1M82.6 393.5h1M91.9 386.7h1M90.2 398.7h1M91.8 379.6h1M82.0 387.5h1M82.8 392.2h1M97.5 392.8h1M77.9 382.8h1M93.2 386.0h1M85.8 404.6h1M101.4 405.6h1M88.0 402.5h1M88.8 403.2h1M89.3 395.1h1M87.7 387.9h1M89.2 401.5h1M79.2 395.6h1M80.1 385.2h1M90.9 392.2h1M98.5 378.6h1M90.1 390.0h1M95.4 384.2h1M90.4 394.6h1M102.0 390.9h1M89.0 398.3h1M93.2 399.2h1M90.4 386.9h1M90.5 389.6h1M98.9 387.3h1M91.7 382.4h1M101.9 385.5h1M92.3 389.8h1M85.0 384.9h1M88.5 385.6h1M97.8 387.4h1M88.4 400.5h1M95.9 401.9h1M98.7 397.8h1M95.7 402.1h1M77.4 394.6h1M89.7 393.8h1M94.6 386.7h1M76.3 389.8h1M93.9 387.7h1M80.4 385.5h1M101.6 396.5h1M80.1 377.0h1M78.3 393.9h1M91.0 393.2h1M86.4 383.1h1M82.0 401.5h1M80.1 397.9h1M93.4 387.0h1M81.6 394.3h1M91.2 387.3h1M85.8 400.9h1M77.7 388.4h1M89.6 392.2h1M85.7 377.5h1M86.2 393.8h1M88.7 395.4h1M78.4 386.8h1M94.0 376.8h1M79.2 387.1h1M79.0 385.3h1M77.4 387.4h1M92.2 406.5h1M90.1 396.6h1M92.2 376.3h1M84.0 387.9h1M96.2 381.4h1M82.4 392.1h1M85.9 402.7h1M84.9 402.5h1M75.4 379.5h1M100.3 398.1h1M93.5 395.5h1M93.5 384.4h1M97.8 390.1h1M98.2 395.2h1M70.6 383.8h1M79.5 395.8h1M99.7 401.6h1M90.3 399.1h1M89.9 394.6h1M87.1 390.6h1M92.9 393.8h1M92.3 391.3h1M103.7 396.0h1M90.1 397.0h1M91.2 381.5h1M98.3 383.9h1M100.3 400.4h1M86.4 385.6h1M95.5 391.9h1M103.4 391.6h1M90.6 394.6h1M79.0 382.1h1M96.0 397.9h1M88.3 389.5h1M95.9 387.2h1M97.3 397.4h1M80.1 390.5h1M86.7 390.3h1M91.6 387.0h1M81.0 385.3h1M81.0 398.5h1M94.1 375.0h1M91.6 384.0h1M88.1 397.3h1M103.3 392.4h1M92.9 387.9h1M68.8 380.4h1M82.6 390.3h1M84.0 384.2h1M102.4 385.3h1M88.9 395.0h1M88.2 403.2h1M74.4 386.6h1M91.1 392.9h1M97.5 381.4h1M97.1 386.5h1M94.0 382.7h1M96.4 390.5h1M99.2 399.9h1M90.8 389.2h1M89.0 375.3h1M90.3 405.8h1M84.4 386.2h1M90.9 400.6h1M89.1 379.8h1M85.1 395.4h1M94.6 381.1h1M90.3 405.4h1M104.4 384.1h1M78.5 393.2h1M83.9 391.6h1M91.1 399.4h1M86.3 387.0h1M80.3 391.2h1M83.7 394.0h1M119.6 402.4h1M85.9 397.3h1M78.0 383.7h1M96.0 403.8h1M82.7 402.8h1M91.4 394.8h1M107.6 393.5h1M77.0 395.4h1M68.9 403.5h1M99.0 375.1h1M88.9 396.8h1M90.8 399.5h1M91.6 395.8h1M71.4 388.6h1M108.3 388.6h1M100.5 398.9h1M85.2 397.0h1M95.9 392.9h1M76.8 389.8h1M102.3 391.2h1M81.1 400.1h1M95.6 394.2h1M95.9 396.0h1M103.6 385.6h1M104.6 398.7h1M85.6 382.9h1M92.1 394.2h1M98.6 405.5h1M102.0 389.9h1M85.2 405.1h1M89.2 390.6h1M85.8 400.2h1M96.6 401.2h1M92.4 399.8h1M97.7 404.3h1M103.7 395.5h1M89.9 396.6h1M94.9 391.9h1M106.1 387.8h1M92.9 391.6h1M85.0 395.7h1M105.1 387.6h1M81.9 387.9h1M76.0 396.1h1M93.1 399.1h1M102.8 399.1h1M84.1 393.0h1M94.0 389.8h1M84.4 397.0h1M86.1 398.8h1M80.9 394.9h1M92.8 392.2h1M92.2 394.1h1M99.9 386.9h1M91.6 403.7h1M87.4 400.7h1M91.6 402.0h1M121.9 392.8h1M92.8 392.8h1M103.0 399.2h1M105.8 396.0h1M86.2 398.3h1M106.6 394.7h1M83.1 393.6h1M84.4 392.5h1M87.5 389.2h1M92.5 396.2h1M80.6 388.4h1M88.1 400.1h1M77.9 386.0h1M93.6 384.3h1M90.0 397.4h1M88.0 386.0h1M88.4 391.7h1M92.1 387.5h1M99.2 380.6h1M87.4 394.6h1M97.9 389.5h1M94.1 389.8h1M85.3 398.2h1M80.4 402.6h1M100.3 394.8h1M78.4 397.8h1M99.7 403.5h1M96.6 379.3h1M82.7 406.3h1M77.6 403.9h1M106.5 400.8h1M99.4 391.7h1M77.6 393.6h1M87.2 394.1h1M95.5 393.3h1M90.8 398.0h1M93.1 395.2h1M87.1 389.3h1M101.5 395.7h1M79.0 389.8h1M87.7 390.8h1M99.1 384.9h1M93.6 395.7h1M78.0 394.9h1M88.1 398.7h1M84.8 397.0h1M75.2 388.4h1M97.5 391.4h1M73.4 402.1h1M71.4 406.6h1M85.4 399.7h1M83.9 402.1h1M105.7 392.7h1M103.6 386.6h1M90.8 392.2h1M89.0 403.2h1M83.0 388.6h1M85.5 393.9h1M78.9 398.5h1M94.1 395.1h1M104.8 391.8h1M101.2 390.0h1M96.0 378.4h1M90.8 393.0h1M84.4 389.4h1M85.8 388.5h1M68.6 389.6h1M89.0 404.6h1M84.4 405.8h1M98.1 402.2h1M99.7 391.8h1M87.8 403.7h1M83.8 393.5h1M92.5 397.6h1M86.4 402.7h1M87.3 400.5h1M99.0 400.0h1M95.8 384.9h1M76.8 389.4h1M93.4 407.0h1M77.6 397.0h1M81.1 388.4h1M86.4 400.2h1M91.0 404.3h1M79.8 401.9h1M97.6 395.1h1M93.4 389.8h1M78.9 391.1h1M90.9 397.1h1M95.9 388.0h1M97.5 397.6h1M74.9 399.5h1M94.1 398.3h1M103.7 391.1h1M93.8 400.7h1M80.6 404.5h1M75.5 383.7h1M93.9 385.5h1M87.9 380.8h1M89.6 385.1h1M92.2 381.8h1M93.2 392.3h1M89.6 393.9h1M90.2 383.5h1M74.8 401.7h1M97.9 386.4h1M81.6 400.8h1M74.6 398.0h1M86.5 402.5h1M80.4 391.7h1M95.4 386.6h1M83.4 396.3h1M87.3 398.9h1M78.1 389.5h1M106.8 404.3h1M101.4 376.7h1M91.8 402.9h1M90.2 393.9h1M100.5 397.6h1M68.1 394.8h1M74.9 393.1h1M82.3 399.5h1M81.8 390.2h1M102.2 390.5h1M84.8 393.9h1M82.4 400.5h1M77.7 390.4h1M106.5 379.8h1M79.0 395.2h1M94.1 385.7h1M104.2 405.8h1M82.6 380.2h1M108.4 393.4h1M84.2 396.8h1M86.2 404.1h1M83.0 394.3h1M94.4 405.2h1M82.1 389.8h1M102.2 394.0h1M98.2 396.7h1M90.9 387.6h1M88.7 393.8h1M77.2 388.1h1M92.6 403.7h1M82.1 392.4h1M82.1 386.4h1M101.2 394.3h1M85.0 396.7h1M97.7 406.2h1M92.3 396.9h1M94.4 403.4h1M94.7 384.2h1M90.2 391.7h1M104.9 395.6h1M82.5 406.3h1M85.6 398.5h1M88.6 398.3h1M99.1 388.3h1M83.1 401.9h1M86.7 396.3h1M98.5 387.5h1M98.7 392.3h1M83.9 390.2h1M109.7 399.7h1M93.9 388.8h1M102.8 385.4h1M84.8 405.1h1M99.5 392.1h1M95.6 392.6h1M77.6 402.9h1M90.4 401.5h1M96.6 387.8h1M90.8 388.5h1M93.1 401.4h1M86.0 404.8h1M97.6 401.3h1M81.9 400.1h1M93.4 396.2h1M93.0 387.6h1M89.2 399.9h1M87.6 400.5h1M102.4 397.2h1M86.1 398.6h1M87.9 391.0h1M96.0 401.0h1M97.7 381.6h1M93.7 401.0h1M87.4 386.5h1M95.1 393.0h1M99.5 391.5h1M90.5 403.5h1M98.9 404.0h1M81.4 390.3h1M89.3 405.9h1M97.0 401.4h1M81.9 392.8h1M90.2 386.4h1M82.4 385.5h1M85.6 402.2h1M94.0 397.2h1M93.9 388.6h1M86.7 391.1h1M80.9 391.5h1M81.2 394.5h1M96.4 397.4h1M89.7 398.8h1M87.4 387.9h1M72.3 404.9h1M102.7 383.4h1M94.0 399.4h1M102.8 396.8h1M84.5 387.9h1M77.4 400.9h1M86.8 388.5h1M93.9 388.2h1M84.9 390.7h1M104.4 406.6h1M87.5 381.5h1M91.6 395.1h1M92.2 399.2h1M86.0 402.2h1M96.8 396.2h1M85.2 390.5h1M95.4 385.4h1M87.5 388.3h1M76.0 399.5h1M88.8 394.8h1M97.1 382.1h1M88.4 396.9h1M96.7 385.5h1M95.7 396.3h1M101.6 404.0h1M89.0 391.0h1M85.8 386.7h1M88.7 378.9h1M88.2 398.0h1M98.2 391.6h1M101.9 389.1h1M87.7 378.9h1M81.9 387.9h1M102.6 398.8h1M79.0 398.8h1M93.4 392.6h1M89.2 392.0h1M84.1 380.1h1M88.2 404.9h1M102.0 392.2h1M82.2 392.8h1M97.2 397.3h1M83.7 397.4h1M87.1 398.7h1M85.3 382.6h1M89.5 400.7h1M79.0 393.6h1M97.0 391.5h1M96.5 402.8h1M82.7 384.8h1M73.6 397.9h1M94.8 399.0h1M85.0 398.8h1M96.0 397.0h1M93.7 406.7h1M84.7 395.8h1M84.3 402.8h1M85.3 398.3h1M90.2 395.0h1M104.5 393.8h1M101.8 401.1h1M100.9 393.2h1M97.4 400.6h1M83.5 396.7h1M87.8 394.2h1M100.7 388.7h1M73.9 380.5h1M88.9 400.7h1M90.4 396.0h1M91.7 378.8h1M87.3 399.6h1M77.4 382.3h1M94.1 392.3h1M92.8 379.2h1M88.6 387.1h1M85.2 401.7h1M80.5 392.0h1M92.4 389.1h1M100.6 397.3h1M77.1 383.4h1M83.4 377.2h1M99.2 391.2h1M83.6 394.5h1M85.2 404.9h1M101.4 400.6h1M94.2 402.2h1M93.0 393.8h1M98.7 396.7h1M94.4 406.9h1M106.8 394.8h1M99.0 383.0h1M82.2 397.6h1M83.1 386.0h1M81.6 398.1h1M76.2 399.1h1M98.3 378.5h1M93.0 400.5h1M77.8 398.2h1M85.5 399.0h1M96.1 398.2h1M105.7 377.7h1M101.6 391.8h1M90.2 391.8h1M83.3 384.3h1M85.5 404.8h1M99.2 391.7h1M84.3 388.9h1M94.9 395.4h1M84.6 386.4h1M100.8 400.7h1M80.5 402.4h1M79.1 399.6h1M80.4 391.2h1M93.4 397.9h1M98.0 387.8h1M103.1 405.2h1M88.9 398.2h1M82.1 393.3h1M77.2 395.2h1M90.8 405.2h1M97.5 401.0h1M85.8 392.7h1M86.0 396.3h1M71.8 400.6h1M85.6 380.9h1M88.2 390.7h1M93.5 387.3h1M74.2 389.0h1M99.5 405.4h1M95.4 396.7h1M87.9 395.5h1M83.7 391.3h1M84.5 406.9h1M71.6 402.3h1M97.3 386.8h1M105.3 386.2h1M96.6 406.4h1M80.4 406.3h1M81.7 380.4h1M95.4 400.1h1M87.2 374.4h1M88.5 392.1h1M85.6 392.2h1M101.4 388.9h1M88.8 399.9h1M72.2 399.7h1M90.4 395.6h1M101.8 404.0h1M93.7 404.2h1M85.5 406.8h1M85.2 397.7h1M97.2 387.2h1M82.7 380.5h1M90.5 394.1h1M86.1 398.5h1M70.1 394.3h1M94.8 395.7h1M94.8 383.1h1M80.7 400.4h1M74.2 405.0h1M86.2 392.4h1M85.9 399.6h1M98.8 387.7h1M94.5 395.9h1M82.3 401.6h1M80.8 390.7h1M88.4 395.2h1M81.6 390.9h1M99.2 395.7h1M91.8 394.3h1M97.4 404.3h1M87.9 401.1h1M81.7 394.5h1M78.7 390.2h1M116.9 387.6h1M100.7 396.8h1M91.5 377.8h1M91.0 382.9h1M83.1 388.6h1M104.3 380.4h1M85.7 388.1h1M90.3 380.9h1M75.8 393.8h1M82.1 403.0h1M86.3 396.1h1M84.7 400.8h1M99.6 393.8h1M84.3 399.1h1M89.8 402.2h1M89.7 395.3h1M96.0 387.9h1M77.6 398.1h1M87.2 399.3h1M96.2 397.3h1M83.6 407.0h1M99.8 389.3h1M94.1 397.0h1M90.5 385.8h1M91.4 392.2h1M88.9 396.3h1M92.8 400.1h1M87.2 388.9h1M84.0 397.8h1M74.2 384.5h1M85.3 390.1h1M86.6 373.3h1M86.0 392.5h1M95.9 378.7h1M86.3 398.3h1M93.4 404.0h1M98.4 386.1h1M94.7 391.8h1M81.8 406.7h1M83.4 387.7h1M85.4 387.7h1M98.0 397.5h1M101.5 397.8h1M83.5 402.9h1M83.1 390.8h1M87.5 394.8h1M99.7 389.7h1M92.1 394.3h1M77.7 385.8h1M87.0 397.7h1M91.9 398.3h1M89.4 390.9h1M92.8 386.5h1M77.0 391.8h1M76.2 390.4h1M82.3 390.1h1M88.6 388.1h1M85.2 380.8h1M90.3 387.5h1M92.6 371.9h1M81.8 396.4h1M99.6 395.0h1M80.0 382.6h1M89.2 390.9h1M93.9 395.3h1M99.2 398.1h1M83.5 392.7h1M97.2 391.6h1M92.4 398.7h1M87.4 375.8h1M90.2 396.2h1M90.2 388.4h1M99.9 393.4h1M83.4 388.7h1M92.2 385.7h1M100.8 403.0h1M101.3 399.3h1M80.2 391.2h1M108.6 384.8h1M84.4 390.3h1M88.9 401.0h1M82.8 396.9h1M84.1 389.0h1M95.5 394.3h1M84.1 392.4h1M101.2 381.8h1M92.3 388.4h1M83.7 402.8h1M93.3 391.4h1M83.9 384.3h1M77.3 397.7h1M93.7 390.7h1M95.5 389.3h1M92.5 378.2h1M96.8 394.3h1M93.5 395.1h1M90.3 394.3h1M93.5 392.0h1M88.6 390.8h1M95.9 405.5h1M96.1 398.6h1M101.9 388.0h1M108.1 378.9h1M95.7 395.7h1M92.7 382.2h1M99.7 396.8h1M90.1 403.2h1M90.5 395.5h1M97.1 394.1h1M92.4 391.6h1M84.0 394.9h1M83.7 396.8h1M86.9 390.2h1M88.2 384.7h1M95.6 399.5h1M100.2 385.5h1M88.2 399.6h1M88.7 397.6h1M99.7 397.2h1M79.1 400.3h1M88.1 395.4h1M83.9 383.3h1M77.7 391.6h1M79.3 372.6h1M99.4 385.1h1M82.4 398.8h1M81.8 400.1h1M101.7 394.9h1M95.4 391.7h1M82.1 389.3h1M89.4 400.0h1M102.3 405.2h1M93.3 376.8h1M102.6 398.4h1M83.0 405.2h1M81.3 392.3h1M89.4 394.4h1M88.6 378.2h1M76.6 393.8h1M95.8 394.3h1M78.5 384.6h1M78.4 403.5h1M80.1 400.8h1M78.4 386.4h1M83.3 405.0h1M82.6 392.9h1M83.5 390.3h1M97.8 389.4h1M87.0 384.6h1M82.5 395.4h1M77.9 392.7h1M76.1 397.4h1M98.2 379.0h1M90.9 392.7h1M76.1 405.1h1M91.0 390.6h1M93.0 399.7h1M96.0 399.2h1M92.7 385.0h1M85.2 395.5h1M78.9 397.5h1M93.7 381.1h1M97.3 404.6h1M81.4 402.0h1M89.7 402.5h1M84.1 401.4h1M95.2 395.1h1M86.1 393.3h1M95.4 406.4h1M87.7 401.8h1M100.1 400.9h1M92.9 390.2h1M74.4 401.3h1M82.4 389.1h1M98.7 396.9h1M79.1 404.2h1M86.3 402.7h1M78.9 382.3h1M83.5 401.1h1M103.4 392.2h1M79.4 403.3h1M87.3 397.3h1M89.3 386.4h1M78.2 392.9h1M101.7 386.4h1M101.3 396.3h1M78.9 396.7h1M94.1 387.2h1M77.9 395.0h1M95.3 383.5h1M88.4 386.1h1M102.6 397.7h1M74.0 389.8h1M93.8 398.5h1M104.2 401.6h1M92.2 396.6h1M89.2 383.8h1M102.2 398.8h1M86.4 385.3h1M102.4 398.8h1M78.3 399.9h1M106.1 394.3h1M92.6 391.1h1M83.3 403.2h1M116.8 395.4h1M87.9 400.9h1M86.2 400.4h1M96.5 386.3h1M79.3 393.9h1M96.5 396.7h1M100.2 383.4h1M93.5 389.5h1M89.9 397.1h1M80.2 392.7h1M78.5 396.6h1M81.3 390.5h1M91.0 389.2h1M99.4 389.4h1M96.7 396.8h1M79.7 392.7h1M81.5 391.6h1M93.0 384.0h1M91.3 392.5h1M76.9 399.3h1M106.7 399.5h1M100.3 399.4h1M73.5 388.9h1M82.6 383.5h1M87.2 400.0h1M91.8 390.5h1M94.5 391.7h1M92.4 396.7h1M93.9 374.6h1M77.3 400.7h1M86.9 390.1h1M102.4 399.0h1M106.1 398.6h1M87.2 400.3h1M81.9 390.9h1M84.0 392.7h1M96.0 390.6h1M91.9 390.5h1M96.9 372.4h1M87.1 395.9h1M79.3 402.6h1M90.9 404.8h1M97.6 399.6h1M87.7 385.8h1M87.0 390.8h1M91.2 390.8h1M116.5 381.7h1M99.6 390.7h1M86.8 401.9h1M89.0 384.8h1M92.7 392.9h1M70.5 396.1h1M85.1 393.6h1M93.7 399.6h1M103.1 384.5h1M101.3 396.8h1M97.4 392.9h1M101.8 390.3h1M97.0 396.8h1M82.3 396.4h1M88.7 389.3h1M90.8 387.7h1M99.8 399.0h1M98.7 400.4h1M92.0 383.6h1M86.6 395.0h1M84.8 394.2h1M86.0 391.0h1M81.3 390.9h1M79.3 403.2h1M91.9 398.8h1M96.8 391.8h1M99.4 380.4h1M83.8 395.1h1M104.9 404.0h1M97.1 401.0h1M84.5 393.6h1M83.5 395.5h1M78.2 392.3h1M84.9 398.6h1M83.8 397.7h1M93.8 398.9h1M96.6 387.4h1M90.3 393.6h1M99.1 391.1h1M92.1 384.1h1M86.5 388.9h1M89.0 389.7h1M88.8 396.6h1M80.2 400.7h1M99.5 400.0h1M90.3 405.6h1M92.1 381.7h1M95.5 396.9h1M78.5 385.9h1M92.4 387.5h1M92.8 385.9h1M90.2 393.9h1M97.9 391.4h1M85.7 396.5h1M86.7 390.2h1M86.1 398.3h1M91.1 400.0h1M105.5 394.3h1M78.2 395.7h1M92.7 376.7h1M89.1 382.7h1M93.1 405.5h1M98.2 382.5h1M101.4 401.7h1M85.8 398.5h1M102.6 391.9h1M88.9 390.0h1M99.3 377.3h1M101.7 386.8h1M97.3 381.5h1M80.6 389.7h1M96.4 381.6h1M94.4 389.4h1M100.1 392.0h1M93.4 393.1h1M105.0 391.6h1M89.7 400.0h1M82.4 396.1h1M68.7 395.3h1M86.7 386.5h1M92.5 380.1h1M79.9 376.4h1M93.4 387.0h1M100.5 400.8h1M93.4 388.0h1M74.4 385.6h1M89.2 393.7h1M87.3 394.6h1M102.1 404.2h1M77.9 400.0h1M80.9 396.5h1M91.0 402.1h1M96.2 384.9h1M88.0 397.9h1M76.2 398.8h1M90.7 390.6h1M87.9 392.3h1M91.6 389.8h1M84.7 399.0h1M98.8 387.2h1M96.3 389.4h1M95.0 394.1h1M91.7 390.2h1M88.8 394.5h1M86.4 397.6h1M71.5 389.1h1M87.1 391.6h1M81.8 388.2h1M97.5 392.4h1M82.0 384.5h1M81.0 401.6h1M80.0 378.3h1M80.2 394.6h1M92.2 394.1h1M96.2 383.7h1M79.5 391.3h1M89.1 377.0h1M86.9 380.8h1M97.0 396.1h1M93.0 391.6h1M78.6 388.8h1M97.9 396.9h1M88.8 382.6h1M86.0 404.6h1M93.7 382.8h1M86.3 388.3h1M95.4 403.7h1M96.6 381.4h1M86.1 398.2h1M88.6 389.4h1M87.8 397.0h1M86.3 402.3h1M112.3 390.1h1M92.1 401.1h1M94.8 392.6h1M84.7 402.5h1M94.6 398.6h1M81.8 399.6h1M96.1 393.0h1M72.1 399.4h1M90.4 387.4h1M98.0 405.9h1M77.3 396.5h1M81.6 382.3h1M87.6 402.3h1M98.9 389.5h1M85.9 405.9h1M105.8 398.5h1M81.1 391.4h1M95.8 392.1h1M89.1 397.7h1M74.1 390.3h1M84.8 386.8h1M90.6 390.7h1M84.3 405.7h1M101.9 392.1h1M83.3 381.1h1M71.6 406.6h1M83.9 401.4h1M92.0 387.3h1M77.9 392.5h1M79.3 378.9h1M94.7 400.1h1M97.8 398.0h1M70.8 394.3h1M80.7 390.5h1M82.3 391.5h1M98.2 382.4h1M91.8 390.5h1M81.6 382.3h1M69.1 394.4h1M88.2 379.1h1M77.7 380.8h1M98.9 404.0h1M85.3 383.6h1M88.5 397.6h1M75.2 385.1h1M88.1 400.2h1M89.7 398.1h1M77.7 374.4h1M91.8 387.1h1M87.9 391.4h1M93.4 388.3h1M102.1 394.8h1M93.8 399.6h1M98.4 397.8h1M91.1 390.9h1M91.1 406.0h1M84.5 400.8h1M83.1 392.1h1M90.7 389.0h1M98.0 381.7h1M86.7 394.0h1M89.4 392.5h1M79.2 394.2h1M101.1 399.0h1M87.0 383.6h1M80.0 400.3h1M83.3 391.4h1M109.7 374.3h1M96.9 374.5h1M98.6 398.6h1M95.8 401.3h1M83.0 382.6h1M80.8 396.6h1M92.5 402.3h1M87.8 399.8h1M88.0 384.5h1M83.3 396.6h1M87.2 389.2h1M87.8 405.1h1M81.5 373.2h1M88.7 374.3h1M102.0 388.1h1M88.4 391.6h1M89.4 395.8h1M98.7 384.5h1M84.0 389.8h1M85.6 398.4h1M94.6 395.9h1M92.4 385.9h1M92.5 396.9h1M98.2 406.3h1M91.9 385.4h1M91.1 390.6h1M98.3 401.3h1M82.6 394.2h1M89.0 396.2h1M101.3 387.4h1M113.6 386.7h1M75.1 399.7h1M76.3 404.6h1M91.7 390.8h1M95.4 395.0h1M81.2 390.4h1M106.5 395.4h1M91.3 385.5h1M107.8 399.2h1M85.5 393.8h1M83.2 404.9h1M97.0 388.2h1M85.0 390.2h1M85.8 397.1h1M84.9 392.2h1M92.2 403.2h1M77.6 388.5h1M86.3 385.9h1M102.6 400.0h1M98.9 397.6h1M77.7 401.8h1M87.4 388.5h1M80.6 384.2h1M83.9 395.3h1M99.6 388.4h1M95.3 396.9h1M95.7 394.0h1M76.2 403.7h1M94.9 384.0h1M88.9 392.2h1M89.8 392.3h1M95.6 396.4h1M94.9 392.0h1M78.9 377.6h1M75.6 380.3h1M88.6 399.3h1M104.5 396.1h1M87.5 389.3h1M90.9 389.9h1M84.6 394.2h1M93.5 377.5h1M89.5 394.2h1M96.0 386.0h1M93.8 385.7h1M79.9 386.9h1M90.1 391.3h1M100.0 398.0h1M86.6 402.6h1M104.4 395.2h1M106.3 396.9h1M92.9 386.0h1M98.7 402.9h1M91.6 403.0h1M80.7 392.3h1M101.5 402.0h1M99.6 381.4h1M96.2 399.2h1M96.6 403.6h1M104.8 392.6h1M92.7 394.6h1M99.8 402.8h1M79.8 388.7h1M79.9 396.8h1M78.7 386.8h1M102.1 387.7h1M94.9 376.9h1M96.7 383.2h1M102.8 396.9h1M94.8 387.4h1M93.2 390.9h1M98.4 391.3h1M87.1 388.4h1M86.3 401.8h1M87.1 397.8h1M103.4 388.7h1M104.5 371.7h1M89.1 387.9h1M89.0 403.1h1M95.7 395.3h1M104.8 382.2h1M92.1 377.3h1M92.2 384.7h1M102.7 404.0h1M83.9 405.2h1M81.2 402.1h1M94.4 393.4h1M75.8 392.2h1M101.2 388.0h1M92.9 393.8h1M90.8 401.1h1M90.3 393.7h1M94.8 394.2h1M75.9 399.3h1M83.4 381.7h1M89.1 388.2h1M88.9 396.5h1M86.7 389.2h1M81.3 385.8h1M82.0 385.2h1M86.3 387.9h1M92.2 395.7h1M97.8 395.2h1M91.9 397.7h1M90.9 397.9h1M85.9 402.5h1M85.3 386.1h1M88.4 390.8h1M96.8 391.4h1M90.1 392.7h1M92.2 389.3h1M99.3 382.7h1M85.4 388.6h1M95.0 394.8h1M93.5 391.8h1M82.3 385.2h1M85.9 390.1h1M91.6 397.4h1M98.1 393.6h1M82.0 385.7h1M89.6 397.5h1M107.1 396.0h1M79.2 404.5h1M99.6 405.7h1M88.9 402.4h1M84.5 393.9h1M87.0 402.4h1M89.6 388.6h1M91.3 400.0h1M82.4 399.8h1M82.4 387.2h1M91.0 392.5h1M79.9 381.0h1M89.2 396.5h1M84.7 396.1h1M74.8 397.8h1M92.9 396.8h1M83.3 395.2h1M90.2 403.4h1M91.6 396.6h1M82.3 401.7h1M99.9 390.4h1M94.9 397.1h1M88.6 383.8h1M105.3 379.0h1M91.8 391.4h1M99.6 391.0h1M89.4 399.6h1M93.2 390.2h1M95.3 397.7h1M98.2 390.3h1M88.6 391.3h1M81.2 396.6h1M92.8 406.3h1M86.0 397.7h1M99.6 393.6h1M89.6 395.6h1M82.6 386.3h1M99.4 395.9h1M88.3 384.2h1M90.1 404.2h1M78.3 387.1h1M99.3 406.3h1M103.4 389.9h1M94.6 388.3h1M93.8 391.5h1M90.8 405.6h1M92.1 392.5h1M89.5 396.7h1M84.3 396.2h1M88.4 393.3h1M95.4 392.6h1M78.0 395.9h1M99.3 391.4h1M101.9 393.9h1M82.6 396.1h1M97.0 392.7h1M81.9 398.7h1M88.0 392.9h1M85.1 398.0h1M89.1 394.4h1M83.4 390.5h1M77.5 397.5h1M87.8 390.1h1M89.3 398.7h1M94.1 393.3h1M96.4 402.2h1M89.6 399.5h1M80.2 389.8h1M72.6 403.9h1M103.9 378.5h1M86.5 396.0h1M92.8 392.5h1M96.6 395.3h1M95.7 388.2h1M71.2 391.5h1M82.6 386.3h1M94.2 398.6h1M82.3 385.3h1M95.3 377.6h1M94.9 393.2h1M106.6 402.6h1M83.7 392.3h1M86.5 388.5h1M89.7 402.4h1M75.2 392.6h1M102.7 400.6h1M81.5 387.9h1M81.2 381.4h1M99.5 395.1h1M82.6 382.8h1M85.5 390.3h1M104.8 390.7h1M90.1 403.3h1M95.1 393.0h1M69.0 406.0h1M80.3 404.0h1M89.5 390.2h1M90.1 400.2h1M88.7 396.7h1M95.2 400.9h1M85.7 396.1h1M69.7 384.7h1M80.1 404.7h1M83.7 396.5h1M87.3 394.7h1M86.5 390.1h1M95.8 384.3h1M79.4 384.8h1M95.0 393.3h1M89.8 387.5h1M74.4 384.9h1M97.8 386.7h1M89.5 395.9h1M74.4 391.6h1M88.5 397.6h1M94.7 394.7h1M88.7 393.8h1M89.9 401.0h1M82.4 370.7h1M93.5 395.0h1M111.6 385.7h1M94.0 400.5h1M80.9 393.5h1M79.8 399.2h1M88.8 397.3h1M93.8 397.0h1M99.9 400.8h1M86.6 388.4h1M92.9 381.6h1M83.1 402.6h1M86.2 393.5h1M97.1 405.0h1M77.9 403.2h1M90.3 391.0h1M83.8 391.7h1M84.6 380.0h1M90.7 388.7h1M100.4 401.3h1M84.3 392.7h1M93.3 404.8h1M99.3 401.9h1M89.4 400.9h1M78.8 399.2h1M88.6 392.4h1M87.9 388.7h1M85.6 406.0h1M84.4 383.8h1M94.1 391.3h1M83.9 405.8h1M88.6 399.3h1M95.9 382.8h1M105.0 390.7h1M86.0 401.2h1M88.4 391.7h1M85.9 392.2h1M99.6 397.5h1M96.4 388.1h1M90.5 398.5h1M77.7 394.1h1M79.4 404.5h1M97.3 398.0h1M81.9 395.2h1M85.8 389.4h1M84.6 403.1h1M85.3 380.7h1M82.0 401.0h1M108.5 386.0h1M85.8 391.8h1M76.3 397.7h1M88.5 396.8h1M109.2 392.4h1M96.2 401.2h1M83.3 389.7h1M103.1 400.3h1M90.3 385.7h1M97.0 398.8h1M108.9 406.4h1M96.3 396.7h1M89.6 390.1h1M91.8 396.5h1M94.9 403.3h1M91.8 390.1h1M81.5 397.9h1M94.0 398.8h1M93.6 393.8h1M104.7 383.2h1M86.5 403.5h1M85.8 381.3h1M93.2 398.5h1M93.3 393.5h1M92.3 387.5h1M89.1 400.9h1M94.0 388.7h1M96.2 406.6h1M85.7 399.0h1M73.9 402.1h1M87.8 394.0h1M90.1 383.2h1M107.5 382.4h1M92.1 388.6h1M83.0 400.5h1M83.5 401.0h1M94.1 398.3h1M97.1 389.9h1M76.2 381.4h1M89.2 388.3h1M103.7 387.2h1M104.0 393.7h1M89.5 379.3h1M88.7 406.6h1M76.0 405.3h1M96.7 402.2h1M100.0 380.6h1M88.5 382.0h1M87.3 392.4h1M97.0 386.9h1M80.9 396.6h1M92.3 380.3h1M93.4 390.3h1M85.2 399.8h1M95.7 398.9h1M105.4 396.9h1M89.5 397.6h1M102.9 400.1h1M92.3 403.3h1M75.3 403.1h1M96.7 392.5h1M75.7 381.5h1M69.4 397.8h1M85.1 392.8h1M74.1 386.3h1M78.4 393.4h1M72.4 403.1h1M91.3 402.1h1M101.1 396.9h1M75.5 399.9h1M85.3 396.1h1M72.0 392.2h1M84.9 399.1h1M88.5 379.6h1M98.9 394.1h1M78.3 403.4h1M94.6 392.1h1M86.3 401.5h1M88.3 389.2h1M78.5 391.7h1M86.5 390.5h1M129.3 384.5h1M98.9 388.9h1M90.1 377.8h1M89.5 396.2h1M69.1 394.2h1M99.7 391.7h1M99.9 390.1h1M97.1 403.7h1M92.2 386.3h1M83.2 390.7h1M87.4 403.1h1M78.6 393.7h1M89.8 395.0h1M81.1 405.6h1M88.9 388.4h1M88.6 404.5h1M94.7 404.6h1M94.1 391.3h1M76.2 387.7h1M88.9 381.4h1M87.2 388.1h1M100.2 378.4h1M110.1 401.0h1M85.3 395.7h1M104.0 400.8h1M86.7 390.4h1M76.1 397.4h1M97.4 394.4h1M89.7 388.3h1M90.7 399.2h1M78.1 400.7h1M87.2 399.2h1M89.8 397.9h1M91.8 401.3h1M83.1 394.3h1M79.1 395.6h1M99.6 392.9h1M98.9 391.3h1M93.0 405.0h1M92.5 398.5h1M102.0 400.2h1M98.2 392.8h1M83.0 401.4h1M80.5 404.7h1M84.8 397.5h1M97.0 386.4h1M107.1 395.2h1M87.8 386.8h1M74.7 380.9h1M80.9 399.6h1M85.5 404.6h1M81.1 383.0h1M93.9 393.0h1M76.9 406.6h1M92.2 383.8h1M85.3 387.7h1M100.0 390.9h1M84.2 397.5h1M103.9 406.3h1M89.7 392.7h1M84.3 403.0h1M80.2 394.7h1M95.8 389.8h1M68.0 390.7h1M80.7 395.6h1M79.3 401.9h1M90.6 388.2h1M82.7 400.5h1M81.8 392.9h1M96.6 405.2h1M95.0 395.2h1M104.7 400.0h1M93.0 399.3h1M95.8 396.8h1M87.5 381.3h1M108.1 383.8h1M97.8 390.5h1M94.8 388.1h1M104.7 403.8h1M89.3 383.3h1M91.6 394.2h1M93.5 396.0h1M103.5 396.3h1M85.9 391.5h1M92.1 399.0h1M78.3 386.6h1M97.6 393.0h1M98.8 393.3h1M83.5 398.5h1M103.5 394.1h1M91.7 399.2h1M94.0 400.8h1M88.7 391.6h1M75.2 392.1h1M98.8 396.4h1M92.1 384.0h1M70.7 399.6h1M84.1 401.6h1M106.3 388.8h1M99.3 389.1h1M92.6 398.5h1M78.4 403.0h1M105.7 394.9h1M91.5 384.8h1M105.6 395.0h1M77.1 400.8h1M75.4 388.8h1M69.2 405.9h1M100.6 389.5h1M85.3 401.9h1M93.3 380.4h1M101.3 371.6h1M85.9 387.8h1M89.3 388.0h1M84.8 391.4h1M95.7 387.0h1M107.6 404.0h1M89.2 389.8h1M89.8 383.7h1M99.3 388.4h1M89.7 390.7h1M88.2 398.5h1M95.9 388.0h1M87.9 388.2h1M87.3 382.6h1M97.9 400.1h1M87.9 388.8h1M84.8 389.0h1M119.6 384.3h1M78.1 399.3h1M94.6 381.4h1M99.0 391.6h1M100.4 403.9h1M97.6 404.4h1M115.2 402.7h1M74.2 391.0h1M98.0 403.2h1M84.0 398.9h1M90.0 392.5h1M85.1 395.0h1M100.7 380.4h1M99.2 396.5h1M74.5 397.1h1M87.9 387.0h1M94.4 392.3h1M100.2 406.0h1M93.3 398.1h1M80.6 394.5h1M94.6 391.4h1M99.7 388.2h1M104.7 391.9h1M81.2 387.0h1M95.2 387.4h1M105.8 405.1h1M93.8 382.7h1M88.8 388.5h1M72.2 398.0h1M93.9 392.2h1M84.2 384.8h1M84.3 397.3h1M95.8 401.6h1M81.7 394.8h1M81.0 402.3h1M89.9 383.5h1M96.8 403.0h1M98.0 392.8h1M81.3 392.4h1M95.2 395.5h1M94.4 399.3h1M80.8 386.7h1M102.4 390.5h1M81.2 386.7h1M98.0 385.1h1M80.9 403.2h1M90.2 395.0h1M83.0 392.7h1M84.3 394.3h1M96.2 383.9h1M80.5 377.1h1M103.0 393.9h1M88.9 394.0h1M98.3 397.2h1M96.9 393.1h1M87.9 394.0h1M71.7 403.5h1M89.7 393.3h1M90.7 399.5h1M91.1 391.2h1M95.7 391.8h1M97.2 387.7h1M77.1 401.7h1M105.0 400.9h1M93.5 394.0h1M88.8 387.9h1M94.3 400.8h1M76.9 377.0h1M118.5 393.5h1M79.3 386.0h1M96.9 405.8h1M80.7 392.0h1M94.8 390.8h1M92.4 398.3h1M96.3 403.4h1M90.7 389.8h1M76.8 394.3h1M80.1 391.3h1M87.4 394.1h1M98.1 397.6h1M89.2 398.2h1M79.9 395.7h1M80.9 406.6h1M91.4 406.7h1M94.2 386.6h1M67.9 394.1h1M90.5 397.4h1M96.3 398.2h1M100.4 400.9h1M81.9 397.8h1M93.5 400.4h1M86.3 386.0h1M90.4 396.7h1M102.0 405.7h1M85.8 390.6h1M86.7 392.5h1M80.6 394.2h1M101.3 402.7h1M86.7 384.8h1M95.8 405.3h1M76.5 399.5h1M105.8 404.2h1M95.6 394.6h1M84.0 397.8h1M101.1 401.1h1M97.4 394.2h1M87.6 406.8h1M90.6 402.8h1M85.3 386.3h1M91.0 397.1h1M97.9 400.3h1M82.9 394.9h1M83.7 386.0h1M91.8 388.1h1M104.6 388.4h1M83.9 395.3h1M84.2 394.9h1M83.3 382.7h1M85.4 379.9h1M95.2 399.3h1M100.6 398.1h1M87.5 386.9h1M86.0 387.0h1M87.2 388.0h1M98.9 393.3h1M93.1 394.6h1M86.2 378.1h1M85.5 390.8h1M99.3 385.0h1M95.8 399.9h1M88.6 393.9h1M97.4 396.5h1M111.0 374.8h1M93.2 378.3h1M68.1 383.0h1M100.4 391.0h1M92.7 404.0h1M80.6 395.3h1M81.2 401.6h1M83.4 391.4h1M87.1 404.2h1M79.3 394.3h1M85.9 389.9h1M81.7 393.2h1M90.8 381.7h1M91.2 384.7h1M80.0 394.0h1M86.6 402.6h1M84.6 379.7h1M74.0 396.0h1M91.4 403.4h1M84.0 400.0h1M79.1 405.3h1M88.3 388.9h1M81.1 384.2h1M79.6 384.9h1M88.5 397.4h1M87.5 396.1h1M100.0 392.1h1M77.3 375.5h1M91.3 388.9h1M86.7 397.9h1M93.3 381.5h1M80.1 395.1h1M87.7 404.0h1M84.3 377.4h1M99.9 380.9h1M80.0 397.7h1M91.2 398.9h1M94.0 388.5h1M100.7 380.5h1M83.5 396.9h1M90.3 386.5h1M103.7 406.7h1M80.3 397.6h1M83.1 390.9h1M98.2 395.5h1M88.0 395.4h1M78.1 404.6h1M82.0 405.4h1M84.7 390.7h1M102.8 396.1h1M83.1 390.1h1M94.7 391.2h1M78.6 388.9h1M87.9 396.5h1M82.9 405.1h1M80.1 388.6h1M93.6 398.5h1M85.4 402.5h1M89.5 405.5h1M87.1 396.1h1M93.9 380.0h1M84.1 398.6h1M77.6 384.3h1M95.4 385.7h1M76.3 404.2h1M94.7 398.4h1M89.2 385.6h1M93.1 394.3h1M82.8 395.9h1M93.1 394.5h1M96.5 398.8h1M78.9 398.6h1M78.2 393.9h1M76.2 406.4h1M83.7 400.3h1M80.0 387.4h1M88.2 397.9h1M97.6 392.3h1M99.2 402.5h1M80.9 393.0h1M83.9 401.8h1M97.5 392.4h1M84.5 397.3h1M81.8 384.0h1M80.0 397.3h1M88.8 392.5h1M83.2 383.2h1M78.5 394.7h1M90.9 399.3h1M80.2 384.4h1M88.3 406.4h1M97.4 403.1h1M94.2 403.2h1M84.4 404.2h1M96.1 401.6h1M85.3 391.5h1M84.0 406.2h1M76.7 391.2h1M91.3 383.9h1M90.7 403.3h1M94.8 385.1h1M89.2 386.6h1M86.5 391.3h1M87.2 393.1h1M111.8 385.5h1M88.0 388.0h1M92.3 390.2h1M94.3 385.6h1M108.5 396.2h1M72.7 400.3h1M95.8 390.0h1M97.3 395.7h1M92.3 395.8h1M85.6 391.5h1M93.2 400.3h1M104.6 385.1h1M99.0 393.9h1M91.1 388.0h1M104.2 387.8h1M88.3 388.6h1M106.8 404.8h1M76.9 390.8h1M92.3 391.0h1M85.7 385.7h1M91.3 385.6h1M92.4 389.0h1M85.8 386.7h1M90.1 400.2h1M97.5 392.2h1M78.1 393.9h1M104.3 396.8h1M88.4 377.6h1M85.0 399.0h1M80.3 405.5h1M83.8 387.4h1M83.7 393.8h1M98.2 389.9h1M87.5 386.9h1M90.6 391.1h1M86.9 406.1h1M80.0 395.4h1M83.3 391.7h1M88.5 394.7h1M91.1 388.4h1M94.7 385.3h1M78.5 387.6h1M100.4 404.7h1M92.2 382.3h1M93.0 386.3h1M78.4 376.3h1M90.6 398.0h1M79.6 399.7h1M92.9 399.2h1M95.2 388.4h1M92.5 398.7h1M83.7 392.0h1M77.6 396.1h1M78.8 398.1h1M89.9 393.2h1M94.6 392.1h1M104.4 397.9h1M78.5 390.1h1M90.7 405.2h1M83.6 388.1h1M85.6 394.9h1M80.1 384.5h1M95.7 403.1h1M88.5 390.7h1M99.0 380.3h1M95.7 396.5h1M95.1 397.7h1M98.2 399.5h1M89.0 401.5h1M80.3 396.4h1M92.6 381.6h1M94.0 398.4h1M97.3 394.9h1M100.2 402.6h1M94.8 367.5h1M89.6 396.7h1M89.4 386.0h1M97.4 391.0h1M87.6 397.5h1M99.6 391.3h1M79.7 397.7h1M91.0 379.0h1M83.2 395.3h1M82.7 385.5h1M77.2 397.1h1M89.4 405.1h1M91.5 392.0h1M90.5 394.3h1M79.8 386.1h1M94.8 386.7h1M94.3 399.6h1M85.5 381.5h1M92.8 405.9h1M81.5 384.4h1M98.9 395.7h1M83.3 404.5h1M86.5 398.2h1M85.3 388.5h1M91.0 387.6h1M88.6 391.4h1M90.9 393.8h1M87.6 386.6h1M93.0 402.0h1M79.4 394.4h1M97.1 401.5h1M81.6 400.4h1M83.2 405.3h1M93.6 387.3h1M89.3 387.8h1M91.1 396.0h1M74.3 399.6h1M88.1 399.2h1M79.3 393.4h1M107.4 387.8h1M89.9 405.1h1M86.9 395.6h1M76.5 387.8h1M108.5 401.8h1M95.1 399.0h1M88.6 392.9h1M85.6 397.5h1M87.4 394.7h1M92.8 399.3h1M92.5 396.3h1M92.8 403.9h1M100.3 406.2h1M82.9 397.7h1M103.7 398.5h1M107.3 406.0h1M78.5 400.6h1M91.8 391.6h1M102.2 399.5h1M76.3 387.6h1M87.1 404.1h1M92.9 402.7h1M86.6 405.3h1M86.7 400.8h1M86.5 391.8h1M92.4 385.3h1M89.6 398.6h1M78.0 394.0h1M87.3 386.6h1M108.5 392.4h1M111.2 393.3h1M84.2 390.9h1M102.4 394.3h1M93.4 384.6h1M105.3 402.4h1M92.3 400.2h1M84.4 390.9h1M74.7 397.6h1M100.3 401.4h1M97.4 400.3h1M80.6 384.3h1M94.8 395.9h1M98.0 392.5h1M81.0 398.2h1M83.9 381.6h1M83.5 387.7h1M78.9 390.3h1M104.7 391.3h1M99.4 394.1h1M92.7 389.3h1M88.3 381.4h1M105.3 388.6h1M94.3 390.0h1M91.5 385.3h1M85.6 401.9h1M94.4 379.3h1M96.8 384.3h1M91.6 398.7h1M83.2 392.1h1M86.8 397.8h1M97.3 405.4h1M86.6 400.7h1M87.9 395.3h1M80.6 397.7h1M107.4 395.8h1M88.8 394.7h1M95.5 393.0h1M89.0 396.3h1M100.9 402.1h1M79.4 389.7h1M89.2 401.3h1M97.8 393.0h1M108.4 393.4h1M101.8 405.9h1M103.5 396.2h1M94.2 382.6h1M81.9 392.9h1M84.1 397.7h1M85.9 384.0h1M91.4 383.0h1M71.9 383.6h1M81.5 391.5h1M97.1 391.0h1M95.7 399.0h1M83.2 376.0h1M80.6 384.8h1M103.9 389.0h1M79.3 397.6h1M89.5 387.3h1M99.0 401.8h1M91.5 388.7h1M81.0 378.5h1M92.5 397.7h1M80.6 394.8h1M118.9 385.7h1M73.4 399.4h1M90.7 397.4h1M87.3 395.0h1M79.5 395.5h1M98.2 392.1h1M98.5 382.8h1M83.1 391.3h1M85.3 403.6h1M78.4 401.8h1M80.8 394.3h1M88.3 395.6h1M91.6 396.1h1M73.3 401.9h1M106.3 391.2h1M78.5 388.9h1M98.1 395.1h1M88.1 406.0h1M99.7 398.6h1M81.3 401.3h1M85.4 396.7h1M87.1 379.7h1M85.2 392.1h1M73.7 384.7h1M89.2 392.0h1M98.9 386.0h1M98.1 378.8h1M89.2 405.4h1M83.4 399.3h1M89.9 383.0h1M83.3 403.5h1M99.8 389.8h1M99.3 389.0h1M91.3 394.4h1M77.6 397.1h1M85.4 372.9h1M81.4 387.9h1M81.4 386.8h1M82.7 375.2h1M97.1 395.1h1M91.3 392.5h1M89.6 392.5h1M79.0 382.5h1M89.7 402.6h1M76.5 392.5h1M83.4 404.3h1M104.5 390.4h1M95.7 392.6h1M79.9 393.7h1M79.5 406.8h1M94.4 404.0h1M92.3 375.3h1M96.3 395.3h1M94.1 387.5h1M86.4 398.7h1M94.3 399.8h1M85.3 384.1h1M101.1 404.8h1M83.8 394.3h1M96.4 380.6h1M91.5 388.9h1M107.7 394.6h1M90.9 391.2h1M90.7 380.3h1M77.3 382.8h1M97.3 393.8h1M99.5 378.3h1M83.5 406.1h1M81.8 379.7h1M82.2 391.8h1M88.9 404.9h1M101.2 406.9h1M94.3 390.5h1M84.5 382.8h1M100.6 404.5h1M89.8 387.4h1M95.2 398.4h1M90.4 385.3h1M91.2 390.0h1M95.8 399.3h1M93.0 391.1h1M102.9 400.7h1M100.6 401.2h1M95.1 397.6h1M79.2 380.0h1M80.4 399.4h1M97.3 396.0h1M85.4 380.3h1M74.9 392.0h1M95.4 400.4h1M87.0 401.0h1M88.6 388.8h1M85.5 400.5h1M97.7 385.6h1M80.0 395.5h1M108.4 385.2h1M77.6 397.8h1M93.6 389.6h1M88.8 398.4h1M75.9 405.2h1M96.0 389.4h1M98.4 402.8h1M87.7 375.7h1M84.7 388.5h1M81.4 393.9h1M79.1 397.6h1M106.2 385.0h1M98.5 390.3h1M94.0 393.5h1M100.7 388.9h1M95.7 388.3h1M91.1 394.4h1M98.9 382.0h1M76.7 405.6h1M79.6 396.2h1M88.5 390.9h1M95.5 393.7h1M82.2 400.6h1M71.7 386.4h1M83.1 388.6h1M91.7 396.5h1M76.8 393.2h1M83.3 401.5h1M79.2 388.9h1M82.7 397.3h1M84.7 403.4h1M89.8 397.2h1M93.6 400.9h1M93.0 377.4h1M78.2 398.2h1M86.3 394.0h1M101.6 399.5h1M85.6 387.0h1M104.0 387.0h1M87.9 397.4h1M76.2 390.5h1M89.4 397.0h1M86.6 394.7h1M87.9 382.9h1M87.2 403.4h1M89.6 399.8h1M74.9 398.3h1M79.3 406.8h1M77.8 387.6h1M79.7 401.2h1M83.6 385.5h1M86.3 391.6h1M85.6 399.7h1M89.8 393.4h1M71.4 400.2h1M87.5 387.6h1M79.8 405.9h1M73.7 387.7h1M90.6 393.1h1M80.2 392.2h1M90.0 387.3h1M74.2 390.2h1M86.5 394.7h1M89.9 388.7h1M88.7 394.5h1M88.2 406.8h1M90.2 382.7h1M74.8 399.2h1M85.9 389.6h1M76.8 392.0h1M88.2 389.0h1M85.8 401.6h1M96.1 398.9h1M87.4 383.7h1M96.0 406.4h1M100.5 403.8h1M91.5 397.5h1M88.9 404.5h1M96.0 391.9h1M89.0 381.7h1M82.4 392.1h1M111.1 388.0h1M97.3 395.1h1M86.3 399.5h1M93.1 388.4h1M108.9 396.0h1M88.1 400.2h1M95.6 399.8h1M93.3 398.1h1M89.0 405.4h1M81.5 396.8h1M73.2 392.2h1M92.1 384.2h1M80.8 395.6h1M85.7 392.1h1M106.3 386.7h1M103.1 397.2h1M89.9 404.8h1M93.4 387.8h1M75.2 394.6h1M93.6 405.4h1M88.3 392.2h1M88.3 398.6h1M95.8 402.7h1M99.7 401.1h1M92.1 391.2h1M108.1 390.8h1M92.6 404.4h1M93.3 393.0h1M98.3 382.9h1M88.9 383.3h1M108.0 406.8h1M102.0 403.2h1M87.6 387.3h1M85.2 386.7h1M89.0 392.0h1M97.4 391.2h1M92.4 385.6h1M92.0 388.0h1M87.0 394.0h1M85.2 394.7h1M97.9 384.8h1M92.7 393.6h1M84.7 381.7h1M87.7 393.6h1M97.9 390.4h1M74.9 385.9h1M88.6 396.5h1M95.5 391.4h1M93.9 395.6h1M104.3 394.1h1M90.3 399.0h1M100.0 387.1h1M84.7 392.3h1M86.2 395.9h1M93.4 394.4h1M106.1 389.9h1M88.7 392.1h1M85.4 385.4h1M83.8 394.8h1M95.9 388.4h1M88.3 400.6h1M76.0 397.5h1M71.3 387.1h1M97.3 395.3h1M87.2 398.4h1M86.8 395.6h1M98.4 389.9h1M99.4 385.6h1M87.0 380.6h1M92.2 404.7h1M75.7 386.4h1M93.2 401.1h1M96.6 381.1h1M93.6 393.9h1M90.1 398.3h1M86.5 381.0h1M79.3 382.9h1M77.1 393.4h1M100.8 388.8h1M82.1 385.3h1M73.4 395.0h1M95.8 400.8h1M80.3 398.7h1M80.8 391.6h1M81.4 400.0h1M103.8 395.9h1M81.0 400.0h1M81.5 390.2h1M89.1 396.0h1M104.4 380.5h1M86.7 403.6h1M87.6 397.1h1M102.8 384.6h1M89.4 400.9h1M83.7 380.5h1M80.0 396.1h1M101.0 382.1h1M98.4 401.8h1M103.7 393.3h1M84.0 395.7h1M103.0 399.5h1M104.4 400.8h1M83.7 386.4h1M105.8 382.4h1M85.8 392.0h1M80.7 389.9h1M88.4 390.3h1M90.1 402.0h1M81.6 391.2h1M87.4 387.2h1M110.5 387.5h1M83.1 404.5h1M96.3 400.0h1M79.5 386.2h1M87.7 396.3h1M97.5 402.0h1M92.8 400.7h1M74.3 382.4h1M81.9 393.9h1M82.6 391.1h1M90.1 389.8h1M88.2 403.4h1M93.7 391.8h1M90.8 398.6h1M90.9 401.8h1M76.6 403.1h1M80.3 399.9h1M76.2 403.2h1M97.0 389.5h1M95.2 391.5h1M100.2 393.1h1M85.2 387.1h1M88.3 398.9h1M95.6 389.3h1M85.7 385.8h1M82.8 393.6h1M92.7 401.2h1M84.1 385.1h1M103.6 394.7h1M85.8 395.8h1M88.6 400.2h1M94.2 385.1h1M85.7 400.1h1M87.1 401.0h1M79.6 406.6h1M92.5 382.0h1M99.2 386.5h1M91.1 396.1h1M92.7 400.0h1M72.0 391.8h1M82.7 397.1h1M104.5 392.9h1M87.5 396.6h1M96.1 393.8h1M91.7 391.1h1M84.0 388.1h1M95.0 390.0h1M94.0 397.8h1M97.8 372.9h1M80.2 384.7h1M87.5 401.0h1M112.0 406.9h1M101.3 397.6h1M85.5 398.8h1M95.7 404.6h1M82.9 386.2h1M93.4 397.8h1M89.6 404.5h1M77.3 396.1h1M86.2 377.1h1M86.3 395.0h1M89.9 393.1h1M86.9 398.7h1M76.0 385.8h1M94.4 399.5h1M97.4 384.3h1M100.0 402.5h1M91.6 386.3h1M96.6 404.6h1M86.9 398.5h1M93.8 401.7h1M95.4 400.4h1M77.8 391.2h1M75.3 403.0h1M96.1 398.4h1M106.0 387.8h1M102.9 387.8h1M73.0 391.2h1M94.3 398.8h1M104.5 404.2h1M84.8 402.1h1M84.8 393.6h1M84.5 380.3h1M94.5 378.1h1M86.9 398.7h1M90.0 381.8h1M83.1 400.0h1M84.2 403.5h1M88.5 377.3h1M80.4 404.7h1M73.8 403.9h1M80.7 391.8h1M91.5 387.8h1M94.3 397.3h1M91.6 394.0h1M68.2 392.4h1M67.8 392.7h1M67.6 393.3h1M67.0 404.5h1M67.1 380.3h1M68.0 395.9h1M68.2 397.5h1M68.4 377.6h1M66.9 383.3h1M68.1 380.7h1M67.8 399.9h1M67.2 392.4h1M68.3 399.2h1M67.5 390.8h1M67.3 405.8h1M68.2 397.1h1M67.4 398.7h1M67.7 400.7h1M67.5 403.3h1M68.0 390.0h1M67.8 401.0h1M67.7 405.8h1M66.9 403.8h1M68.0 391.2h1M68.3 380.6h1M67.4 398.1h1M68.2 387.6h1M68.5 396.1h1M67.0 379.8h1M67.0 393.7h1M67.4 384.1h1M67.6 378.4h1M68.4 402.0h1M67.8 389.8h1M67.4 394.7h1M67.5 406.2h1M68.4 398.5h1M68.2 378.3h1M67.1 386.7h1M67.1 389.1h1M68.5 401.9h1M68.4 382.9h1M67.3 376.7h1M67.3 377.8h1M67.7 385.3h1M68.0 393.4h1M67.9 385.3h1M68.1 397.4h1M68.0 390.6h1M67.6 384.9h1M67.0 390.4h1M67.9 381.8h1M68.3 403.2h1M68.3 401.3h1M67.7 381.4h1M67.3 398.9h1M68.5 379.4h1M66.9 387.0h1M67.5 394.5h1M67.1 402.2h1M67.4 404.2h1M67.4 385.5h1M67.2 405.9h1M67.8 401.6h1M67.0 392.8h1M68.1 406.5h1M68.4 379.2h1M67.5 407.0h1M67.8 405.7h1M67.3 376.8h1" stroke="#0a0a0a" stroke-width="1" fill="none" opacity="1"/>
<path d="M145.8 361.7h1M126.1 371.9h1M158.5 348.4h1M144.5 392.8h1M150.8 364.2h1M145.6 361.8h1M131.3 387.9h1M145.8 387.9h1M133.5 367.4h1M141.3 365.4h1M130.8 361.7h1M142.3 372.0h1M159.4 357.1h1M119.2 387.5h1M163.2 349.1h1M127.9 373.5h1M129.9 353.6h1M141.4 355.8h1M113.4 374.2h1M153.0 388.2h1M153.5 363.7h1M131.0 370.5h1M147.4 357.3h1M146.7 378.5h1M125.0 369.3h1M143.3 367.0h1M134.5 364.6h1M144.5 392.2h1M147.7 341.7h1M138.9 370.8h1M133.0 353.5h1M137.1 372.6h1M131.2 378.4h1M140.7 373.9h1M134.2 365.8h1M144.4 381.4h1M148.3 362.9h1M136.7 385.7h1M147.8 376.7h1M131.4 361.8h1M137.8 361.4h1M154.9 372.1h1M114.9 392.8h1M157.8 373.0h1M129.1 363.1h1M153.4 375.2h1M134.2 356.0h1M121.1 383.6h1M125.6 367.7h1M147.3 379.3h1M111.1 376.3h1M153.1 360.6h1M136.5 379.9h1M119.8 363.5h1M144.4 388.2h1M149.9 363.0h1M148.3 358.2h1M117.6 358.4h1M144.7 378.7h1M142.2 367.0h1M137.6 385.6h1M131.8 353.4h1M151.6 353.0h1M142.6 367.4h1M151.4 365.7h1M153.3 364.0h1M130.6 367.2h1M142.4 355.8h1M148.0 360.8h1M123.6 366.1h1M143.2 391.8h1M147.2 364.9h1M134.8 398.6h1M134.7 371.9h1M138.2 388.6h1M138.3 363.4h1M136.3 357.0h1M125.0 375.3h1M157.1 343.3h1M130.1 352.4h1M140.9 371.3h1M141.5 349.2h1M128.4 366.5h1M144.1 398.6h1M135.5 370.9h1M135.1 382.9h1M172.8 366.0h1M151.9 346.8h1M150.6 363.1h1M156.9 373.8h1M139.2 345.8h1M137.6 363.2h1M143.4 367.4h1M144.1 343.9h1M129.0 374.2h1M140.2 363.0h1M137.9 370.9h1M149.9 361.5h1M133.7 346.9h1M133.2 340.4h1M142.5 366.0h1M135.2 361.4h1M136.3 382.7h1M142.1 367.2h1M133.1 375.9h1M152.0 361.6h1M129.0 358.6h1M135.6 358.5h1M124.5 390.2h1M122.6 350.3h1M136.8 396.7h1M131.5 355.1h1M127.8 386.1h1M143.6 369.7h1M137.6 377.1h1M158.1 365.1h1M130.6 354.6h1M149.4 385.4h1M140.7 350.7h1M145.3 384.0h1M132.4 380.2h1M158.7 381.0h1M112.3 360.4h1M145.2 375.7h1M133.7 372.2h1M137.9 387.0h1M112.9 388.3h1M120.2 370.8h1M116.3 369.8h1M137.8 370.5h1M158.3 355.1h1M143.5 371.8h1M146.8 385.5h1M140.2 370.8h1M136.7 370.8h1M141.3 382.1h1M138.5 370.7h1M140.4 379.3h1M136.1 384.3h1M134.0 382.1h1M161.6 359.5h1M132.3 356.7h1M146.8 365.1h1M146.2 356.0h1M151.3 387.8h1M141.5 363.4h1M122.6 378.9h1M148.2 372.5h1M120.7 365.6h1M122.4 364.7h1M135.8 375.0h1M161.5 359.0h1M148.7 340.4h1M159.4 368.8h1M146.5 376.7h1M152.9 388.4h1M140.7 343.8h1M123.7 401.1h1M142.2 386.2h1M131.4 364.6h1M135.2 376.1h1M137.8 361.4h1M146.8 373.6h1M122.7 363.2h1M113.6 379.9h1M135.4 361.7h1M130.3 372.6h1M140.6 376.6h1M149.6 369.4h1M147.4 350.8h1M146.7 370.2h1M123.0 369.2h1M143.6 367.8h1M120.9 372.1h1M159.4 369.4h1M144.3 385.4h1M126.6 374.2h1M148.0 359.4h1M127.1 384.7h1M134.9 354.1h1M128.9 355.3h1M166.1 343.9h1M135.7 361.3h1M124.5 371.5h1M147.4 389.3h1M147.6 386.6h1M125.6 378.2h1M126.6 354.5h1M181.2 341.3h1M137.9 359.4h1M127.1 361.7h1M148.6 358.1h1M137.0 373.1h1M124.4 381.2h1M137.7 376.5h1M133.6 373.1h1M148.0 377.9h1M133.7 386.3h1M125.6 374.6h1M140.1 370.8h1M139.5 382.2h1M135.6 392.8h1M116.9 383.4h1M144.5 366.5h1M144.8 379.3h1M130.8 382.6h1M149.7 359.9h1M123.7 363.4h1M139.9 357.5h1M169.7 359.6h1M121.4 375.6h1M158.8 367.5h1M130.0 389.3h1M141.1 399.5h1M133.8 380.9h1M142.9 360.8h1M140.8 384.8h1M143.7 365.8h1M150.2 387.7h1M150.9 369.2h1M135.7 349.2h1M137.7 363.3h1M144.3 357.7h1M139.2 354.4h1M145.7 355.2h1M139.9 377.0h1M134.2 372.3h1M157.6 383.6h1M113.0 371.8h1M149.7 376.5h1M132.8 374.4h1M144.7 398.3h1M130.9 357.3h1M114.5 365.6h1M151.9 356.4h1M163.6 364.1h1M145.1 375.0h1M151.0 375.4h1M124.2 370.1h1M131.9 375.0h1M130.2 357.1h1M136.8 396.0h1M159.8 345.2h1M142.4 366.9h1M130.8 384.3h1M143.8 390.3h1M142.2 363.2h1M145.2 355.7h1M151.2 372.0h1M116.3 379.9h1M144.8 376.7h1M139.8 368.8h1M132.7 369.0h1M133.8 357.4h1M144.3 361.7h1M142.2 360.4h1M143.4 368.7h1M150.4 369.3h1M148.4 361.6h1M136.3 367.3h1M122.6 377.2h1M153.9 371.6h1M129.1 379.4h1M141.5 348.7h1M143.4 371.5h1M147.9 367.9h1M160.0 351.6h1M158.1 376.2h1M134.5 355.9h1M154.1 360.1h1M146.0 372.1h1M153.3 375.4h1M115.6 363.2h1M139.7 369.1h1M146.7 363.0h1M143.9 395.2h1M158.9 374.2h1M147.2 353.5h1M136.7 369.8h1M121.6 367.3h1M135.1 354.5h1M146.3 371.8h1M133.9 367.6h1M147.0 371.5h1M137.5 353.0h1M126.8 405.4h1M128.8 370.2h1M113.2 373.2h1M132.5 384.5h1M131.2 367.1h1M127.1 370.2h1M120.4 384.1h1M152.8 363.5h1M136.6 388.6h1M139.7 354.5h1M128.8 366.8h1M142.2 384.6h1M129.1 373.1h1M134.7 355.2h1M134.8 380.5h1M144.1 340.1h1M145.2 361.7h1M155.7 368.4h1M162.6 360.0h1M130.0 362.9h1M123.2 386.4h1M147.3 376.1h1M136.3 349.9h1M132.2 369.9h1M142.9 377.9h1M155.9 363.6h1M124.7 381.1h1M139.8 384.7h1M149.0 357.2h1M149.3 363.6h1M148.7 382.7h1M124.1 377.2h1M153.3 350.4h1M141.1 370.1h1M127.9 357.5h1M126.0 363.2h1M151.8 365.5h1M141.7 351.1h1M144.5 368.2h1M147.6 354.3h1M153.0 380.5h1M155.7 346.6h1M118.9 360.5h1M151.7 370.3h1M138.7 357.4h1" stroke="#3a3a3a" stroke-width="1" fill="none" opacity="1"/>
<path d="M119.2 405.3h1M112.8 386.7h1M118.9 393.5h1M119.6 383.6h1M114.7 384.4h1M110.2 384.8h1M111.6 393.4h1M111.5 388.8h1M109.0 374.8h1M120.1 377.4h1M122.0 398.1h1M110.9 388.2h1M112.1 381.5h1M119.2 386.6h1M117.8 380.6h1M109.6 402.4h1M111.6 376.2h1M112.2 399.3h1M112.2 380.3h1M116.1 398.6h1M112.0 384.6h1M112.3 392.4h1M113.3 384.6h1M111.0 373.3h1M109.9 387.0h1M112.1 382.6h1M111.6 375.6h1M108.3 397.3h1M117.6 389.4h1M119.1 379.2h1M118.4 406.1h1M109.0 375.8h1M112.8 379.3h1M116.2 376.1h1M113.4 367.0h1M112.9 399.3h1M111.7 391.4h1M118.4 376.2h1M114.4 385.1h1M108.2 401.0h1M112.8 395.8h1M110.8 379.2h1M123.0 378.9h1M117.0 386.4h1M110.7 387.5h1M111.8 391.3h1M113.4 377.6h1M122.1 394.9h1M114.2 384.7h1M119.9 383.2h1M109.0 395.4h1M108.2 379.5h1M120.2 370.8h1M112.7 389.3h1M114.3 372.4h1M111.9 384.4h1M122.5 398.8h1M109.3 397.4h1M116.2 386.8h1M111.8 385.1h1M117.6 403.5h1M122.2 384.0h1M116.1 362.2h1M111.7 374.4h1M117.1 370.2h1M115.0 397.0h1M113.8 379.1h1M114.7 387.9h1M117.1 391.7h1M123.8 400.6h1M109.9 396.5h1M116.8 377.3h1M109.3 379.3h1M112.0 401.2h1M110.3 388.8h1M116.6 398.4h1M114.6 376.8h1M123.9 397.3h1M119.7 405.4h1M120.0 392.5h1M115.4 394.8h1M108.2 392.5h1M108.0 395.7h1M114.0 393.5h1M108.6 384.9h1M112.7 384.9h1M110.9 378.6h1M116.8 383.9h1M109.0 391.9h1M109.0 386.1h1" stroke="#3a3a3a" stroke-width="1" fill="none" opacity="1"/>
<rect x="339.60" y="252.80" width="157.40" height="155.90" fill="none" stroke="#3a3a3a" stroke-width="0.9"/>
<line x1="382.50" y1="252.80" x2="382.50" y2="408.70" stroke="#3a3a3a" stroke-width="0.85"/>
<line x1="339.60" y1="333.20" x2="497.00" y2="333.20" stroke="#3a3a3a" stroke-width="0.85"/>
<text x="267.20" y="251.70" font-family="Liberation Sans, sans-serif" font-weight="bold" font-size="24.3" stroke="#000" stroke-width="0.35" fill="#000">D</text>
<line x1="351.45" y1="408.70" x2="351.45" y2="409.90" stroke="#777" stroke-width="0.6"/>
<line x1="338.40" y1="396.97" x2="339.60" y2="396.97" stroke="#777" stroke-width="0.6"/>
<line x1="358.37" y1="408.70" x2="358.37" y2="409.90" stroke="#777" stroke-width="0.6"/>
<line x1="338.40" y1="390.10" x2="339.60" y2="390.10" stroke="#777" stroke-width="0.6"/>
<line x1="363.29" y1="408.70" x2="363.29" y2="409.90" stroke="#777" stroke-width="0.6"/>
<line x1="338.40" y1="385.23" x2="339.60" y2="385.23" stroke="#777" stroke-width="0.6"/>
<line x1="367.10" y1="408.70" x2="367.10" y2="409.90" stroke="#777" stroke-width="0.6"/>
<line x1="338.40" y1="381.46" x2="339.60" y2="381.46" stroke="#777" stroke-width="0.6"/>
<line x1="370.22" y1="408.70" x2="370.22" y2="409.90" stroke="#777" stroke-width="0.6"/>
<line x1="338.40" y1="378.37" x2="339.60" y2="378.37" stroke="#777" stroke-width="0.6"/>
<line x1="372.85" y1="408.70" x2="372.85" y2="409.90" stroke="#777" stroke-width="0.6"/>
<line x1="338.40" y1="375.76" x2="339.60" y2="375.76" stroke="#777" stroke-width="0.6"/>
<line x1="375.14" y1="408.70" x2="375.14" y2="409.90" stroke="#777" stroke-width="0.6"/>
<line x1="338.40" y1="373.50" x2="339.60" y2="373.50" stroke="#777" stroke-width="0.6"/>
<line x1="377.15" y1="408.70" x2="377.15" y2="409.90" stroke="#777" stroke-width="0.6"/>
<line x1="338.40" y1="371.51" x2="339.60" y2="371.51" stroke="#777" stroke-width="0.6"/>
<line x1="390.80" y1="408.70" x2="390.80" y2="409.90" stroke="#777" stroke-width="0.6"/>
<line x1="338.40" y1="357.99" x2="339.60" y2="357.99" stroke="#777" stroke-width="0.6"/>
<line x1="397.72" y1="408.70" x2="397.72" y2="409.90" stroke="#777" stroke-width="0.6"/>
<line x1="338.40" y1="351.13" x2="339.60" y2="351.13" stroke="#777" stroke-width="0.6"/>
<line x1="402.64" y1="408.70" x2="402.64" y2="409.90" stroke="#777" stroke-width="0.6"/>
<line x1="338.40" y1="346.26" x2="339.60" y2="346.26" stroke="#777" stroke-width="0.6"/>
<line x1="406.45" y1="408.70" x2="406.45" y2="409.90" stroke="#777" stroke-width="0.6"/>
<line x1="338.40" y1="342.48" x2="339.60" y2="342.48" stroke="#777" stroke-width="0.6"/>
<line x1="409.57" y1="408.70" x2="409.57" y2="409.90" stroke="#777" stroke-width="0.6"/>
<line x1="338.40" y1="339.40" x2="339.60" y2="339.40" stroke="#777" stroke-width="0.6"/>
<line x1="412.20" y1="408.70" x2="412.20" y2="409.90" stroke="#777" stroke-width="0.6"/>
<line x1="338.40" y1="336.79" x2="339.60" y2="336.79" stroke="#777" stroke-width="0.6"/>
<line x1="414.49" y1="408.70" x2="414.49" y2="409.90" stroke="#777" stroke-width="0.6"/>
<line x1="338.40" y1="334.53" x2="339.60" y2="334.53" stroke="#777" stroke-width="0.6"/>
<line x1="416.50" y1="408.70" x2="416.50" y2="409.90" stroke="#777" stroke-width="0.6"/>
<line x1="338.40" y1="332.53" x2="339.60" y2="332.53" stroke="#777" stroke-width="0.6"/>
<line x1="430.15" y1="408.70" x2="430.15" y2="409.90" stroke="#777" stroke-width="0.6"/>
<line x1="338.40" y1="319.02" x2="339.60" y2="319.02" stroke="#777" stroke-width="0.6"/>
<line x1="437.07" y1="408.70" x2="437.07" y2="409.90" stroke="#777" stroke-width="0.6"/>
<line x1="338.40" y1="312.15" x2="339.60" y2="312.15" stroke="#777" stroke-width="0.6"/>
<line x1="441.99" y1="408.70" x2="441.99" y2="409.90" stroke="#777" stroke-width="0.6"/>
<line x1="338.40" y1="307.28" x2="339.60" y2="307.28" stroke="#777" stroke-width="0.6"/>
<line x1="445.80" y1="408.70" x2="445.80" y2="409.90" stroke="#777" stroke-width="0.6"/>
<line x1="338.40" y1="303.51" x2="339.60" y2="303.51" stroke="#777" stroke-width="0.6"/>
<line x1="448.92" y1="408.70" x2="448.92" y2="409.90" stroke="#777" stroke-width="0.6"/>
<line x1="338.40" y1="300.42" x2="339.60" y2="300.42" stroke="#777" stroke-width="0.6"/>
<line x1="451.55" y1="408.70" x2="451.55" y2="409.90" stroke="#777" stroke-width="0.6"/>
<line x1="338.40" y1="297.81" x2="339.60" y2="297.81" stroke="#777" stroke-width="0.6"/>
<line x1="453.84" y1="408.70" x2="453.84" y2="409.90" stroke="#777" stroke-width="0.6"/>
<line x1="338.40" y1="295.55" x2="339.60" y2="295.55" stroke="#777" stroke-width="0.6"/>
<line x1="455.85" y1="408.70" x2="455.85" y2="409.90" stroke="#777" stroke-width="0.6"/>
<line x1="338.40" y1="293.56" x2="339.60" y2="293.56" stroke="#777" stroke-width="0.6"/>
<line x1="469.50" y1="408.70" x2="469.50" y2="409.90" stroke="#777" stroke-width="0.6"/>
<line x1="338.40" y1="280.04" x2="339.60" y2="280.04" stroke="#777" stroke-width="0.6"/>
<line x1="476.42" y1="408.70" x2="476.42" y2="409.90" stroke="#777" stroke-width="0.6"/>
<line x1="338.40" y1="273.18" x2="339.60" y2="273.18" stroke="#777" stroke-width="0.6"/>
<line x1="481.34" y1="408.70" x2="481.34" y2="409.90" stroke="#777" stroke-width="0.6"/>
<line x1="338.40" y1="268.31" x2="339.60" y2="268.31" stroke="#777" stroke-width="0.6"/>
<line x1="485.15" y1="408.70" x2="485.15" y2="409.90" stroke="#777" stroke-width="0.6"/>
<line x1="338.40" y1="264.53" x2="339.60" y2="264.53" stroke="#777" stroke-width="0.6"/>
<line x1="488.27" y1="408.70" x2="488.27" y2="409.90" stroke="#777" stroke-width="0.6"/>
<line x1="338.40" y1="261.45" x2="339.60" y2="261.45" stroke="#777" stroke-width="0.6"/>
<line x1="490.90" y1="408.70" x2="490.90" y2="409.90" stroke="#777" stroke-width="0.6"/>
<line x1="338.40" y1="258.84" x2="339.60" y2="258.84" stroke="#777" stroke-width="0.6"/>
<line x1="493.19" y1="408.70" x2="493.19" y2="409.90" stroke="#777" stroke-width="0.6"/>
<line x1="338.40" y1="256.58" x2="339.60" y2="256.58" stroke="#777" stroke-width="0.6"/>
<line x1="495.20" y1="408.70" x2="495.20" y2="409.90" stroke="#777" stroke-width="0.6"/>
<line x1="338.40" y1="254.58" x2="339.60" y2="254.58" stroke="#777" stroke-width="0.6"/>
<line x1="339.60" y1="408.70" x2="339.60" y2="410.90" stroke="#333" stroke-width="0.8"/>
<text x="337.00" y="417.00" font-family="Liberation Sans, sans-serif" font-weight="normal" font-size="6.3" stroke="#000" stroke-width="0.18" fill="#000">10<tspan font-size="4" dy="-2.8">0</tspan></text>
<line x1="337.40" y1="408.70" x2="339.60" y2="408.70" stroke="#333" stroke-width="0.8"/>
<text transform="translate(337.20,412.10) rotate(-90)" font-family="Liberation Sans, sans-serif" font-weight="normal" font-size="6.3" stroke="#000" stroke-width="0.18" fill="#000">10<tspan font-size="4" dy="-2.8">0</tspan></text>
<line x1="378.95" y1="408.70" x2="378.95" y2="410.90" stroke="#333" stroke-width="0.8"/>
<text x="376.35" y="417.00" font-family="Liberation Sans, sans-serif" font-weight="normal" font-size="6.3" stroke="#000" stroke-width="0.18" fill="#000">10<tspan font-size="4" dy="-2.8">1</tspan></text>
<line x1="337.40" y1="369.73" x2="339.60" y2="369.73" stroke="#333" stroke-width="0.8"/>
<text transform="translate(337.20,373.12) rotate(-90)" font-family="Liberation Sans, sans-serif" font-weight="normal" font-size="6.3" stroke="#000" stroke-width="0.18" fill="#000">10<tspan font-size="4" dy="-2.8">1</tspan></text>
<line x1="418.30" y1="408.70" x2="418.30" y2="410.90" stroke="#333" stroke-width="0.8"/>
<text x="415.70" y="417.00" font-family="Liberation Sans, sans-serif" font-weight="normal" font-size="6.3" stroke="#000" stroke-width="0.18" fill="#000">10<tspan font-size="4" dy="-2.8">2</tspan></text>
<line x1="337.40" y1="330.75" x2="339.60" y2="330.75" stroke="#333" stroke-width="0.8"/>
<text transform="translate(337.20,334.15) rotate(-90)" font-family="Liberation Sans, sans-serif" font-weight="normal" font-size="6.3" stroke="#000" stroke-width="0.18" fill="#000">10<tspan font-size="4" dy="-2.8">2</tspan></text>
<line x1="457.65" y1="408.70" x2="457.65" y2="410.90" stroke="#333" stroke-width="0.8"/>
<text x="455.05" y="417.00" font-family="Liberation Sans, sans-serif" font-weight="normal" font-size="6.3" stroke="#000" stroke-width="0.18" fill="#000">10<tspan font-size="4" dy="-2.8">3</tspan></text>
<line x1="337.40" y1="291.77" x2="339.60" y2="291.77" stroke="#333" stroke-width="0.8"/>
<text transform="translate(337.20,295.17) rotate(-90)" font-family="Liberation Sans, sans-serif" font-weight="normal" font-size="6.3" stroke="#000" stroke-width="0.18" fill="#000">10<tspan font-size="4" dy="-2.8">3</tspan></text>
<line x1="497.00" y1="408.70" x2="497.00" y2="410.90" stroke="#333" stroke-width="0.8"/>
<text x="494.40" y="417.00" font-family="Liberation Sans, sans-serif" font-weight="normal" font-size="6.3" stroke="#000" stroke-width="0.18" fill="#000">10<tspan font-size="4" dy="-2.8">4</tspan></text>
<line x1="337.40" y1="252.80" x2="339.60" y2="252.80" stroke="#333" stroke-width="0.8"/>
<text transform="translate(337.20,256.20) rotate(-90)" font-family="Liberation Sans, sans-serif" font-weight="normal" font-size="6.3" stroke="#000" stroke-width="0.18" fill="#000">10<tspan font-size="4" dy="-2.8">4</tspan></text>
<text transform="translate(328.60,331.50) rotate(-90)" font-family="Liberation Sans, sans-serif" font-weight="normal" font-size="6.2" text-anchor="middle" stroke="#000" stroke-width="0.18" fill="#000">FL3 LOG</text>
<text x="416.50" y="424.50" font-family="Liberation Sans, sans-serif" font-weight="normal" font-size="6.4" text-anchor="middle" stroke="#000" stroke-width="0.18" fill="#000">FL1 LOG</text>
<text x="323.50" y="241.40" font-family="Liberation Sans, sans-serif" font-weight="normal" font-size="6.3" stroke="#000" stroke-width="0.18" fill="#000">0.0%</text>
<text x="498.00" y="241.40" font-family="Liberation Sans, sans-serif" font-weight="normal" font-size="6.3" stroke="#000" stroke-width="0.18" fill="#000">0.0%</text>
<text x="322.50" y="424.80" font-family="Liberation Sans, sans-serif" font-weight="normal" font-size="6.3" stroke="#000" stroke-width="0.18" fill="#000">42.0%</text>
<text x="496.00" y="424.80" font-family="Liberation Sans, sans-serif" font-weight="normal" font-size="6.3" stroke="#000" stroke-width="0.18" fill="#000">57.9%</text>
<path d="M362.0 385.1h1M365.7 385.9h1M352.5 395.3h1M364.8 380.8h1M363.5 394.0h1M374.1 395.5h1M371.8 397.3h1M362.3 386.1h1M376.5 389.2h1M368.7 397.7h1M380.6 402.3h1M359.8 389.5h1M375.7 381.1h1M352.5 397.4h1M360.7 385.1h1M378.9 396.8h1M380.4 389.9h1M364.9 389.8h1M372.4 376.3h1M359.7 398.2h1M358.6 392.0h1M370.2 396.7h1M362.5 383.5h1M390.5 378.5h1M370.0 390.9h1M381.1 384.4h1M358.3 386.5h1M362.0 394.6h1M358.6 390.5h1M387.4 404.0h1M344.8 384.9h1M363.9 402.8h1M364.4 407.7h1M373.3 404.0h1M357.6 390.0h1M381.7 397.1h1M344.7 390.3h1M370.9 397.5h1M360.5 406.4h1M370.6 404.1h1M373.8 393.2h1M364.6 383.2h1M379.7 398.5h1M380.6 389.5h1M355.8 389.5h1M364.6 392.4h1M381.2 385.3h1M362.4 398.0h1M375.4 385.8h1M355.4 386.2h1M369.5 394.5h1M367.8 387.6h1M366.3 391.9h1M376.2 393.2h1M358.3 383.2h1M387.6 391.8h1M366.4 392.3h1M383.0 390.0h1M370.9 390.6h1M376.0 384.5h1M371.2 400.7h1M383.8 397.4h1M372.4 405.0h1M377.7 403.6h1M353.3 383.8h1M378.9 390.4h1M363.2 385.0h1M387.6 383.0h1M370.0 381.4h1M399.7 388.6h1M355.8 405.5h1M357.7 378.3h1M373.1 384.0h1M350.2 401.4h1M359.4 384.1h1M370.8 391.0h1M383.0 393.3h1M389.0 401.5h1M391.4 401.4h1M369.6 396.8h1M369.0 380.2h1M353.7 398.4h1M352.3 392.0h1M355.5 394.5h1M366.2 388.8h1M357.9 374.9h1M369.6 382.3h1M364.9 395.5h1M382.0 398.1h1M387.5 381.3h1M377.3 405.0h1M373.7 383.7h1M373.8 388.4h1M360.5 401.0h1M366.4 383.6h1M360.1 408.1h1M357.9 397.9h1M371.0 401.8h1M365.2 385.0h1M360.6 384.4h1M364.6 402.5h1M377.1 391.1h1M376.6 394.7h1M383.0 405.6h1M364.7 392.2h1M366.4 402.2h1M373.6 398.7h1M380.1 387.5h1M370.3 403.5h1M380.5 399.0h1M365.1 389.7h1M357.8 390.4h1M367.9 381.2h1M383.5 386.5h1M371.9 397.3h1M361.7 378.2h1M381.0 395.8h1M365.5 401.5h1M380.1 385.0h1M367.7 378.6h1M365.4 403.7h1M358.1 399.1h1M349.6 390.2h1M380.7 406.1h1M374.5 398.5h1M390.5 373.2h1M347.0 407.5h1M369.6 394.6h1M369.1 387.6h1M368.5 391.5h1M377.2 397.9h1M381.2 397.2h1M356.4 403.6h1M372.9 388.3h1M392.5 383.9h1M353.9 388.5h1M374.0 398.8h1M370.1 397.8h1M359.8 387.7h1M370.4 381.9h1M371.1 389.4h1M377.4 384.5h1M362.0 388.0h1M364.1 384.6h1M365.4 381.8h1M375.5 397.8h1M368.5 391.0h1M357.5 384.9h1M365.9 385.4h1M353.9 393.8h1M368.5 389.3h1M358.4 392.1h1M360.0 389.1h1M371.1 398.2h1M378.3 387.7h1M384.0 383.4h1M366.5 402.8h1M398.7 393.5h1M364.2 389.6h1M353.4 391.4h1M363.4 386.5h1M383.8 386.4h1M390.1 399.2h1M376.8 387.9h1M362.3 376.7h1M372.2 390.4h1M373.6 387.2h1M374.8 380.7h1M341.1 396.3h1M382.2 367.6h1M384.9 389.8h1M366.7 380.3h1M356.1 398.2h1M359.4 392.2h1M379.9 382.1h1M362.7 383.4h1M351.2 387.1h1M382.6 392.9h1M377.2 391.4h1M363.4 393.2h1M367.7 407.8h1M391.3 395.5h1M376.3 376.7h1M358.7 399.0h1M384.0 389.4h1M365.9 388.9h1M378.7 392.7h1M387.6 401.9h1M364.8 387.7h1M365.7 385.5h1M363.4 392.0h1M379.9 380.0h1M351.1 386.4h1M364.9 396.1h1M358.8 404.5h1M362.0 390.8h1M369.4 401.8h1M372.4 392.7h1M361.9 393.9h1M373.7 389.7h1M368.4 377.9h1M362.0 401.9h1M386.5 391.9h1M341.6 407.1h1M363.5 400.5h1M360.9 403.4h1M383.2 384.1h1M365.9 382.9h1M372.1 389.3h1M349.9 384.2h1M371.7 380.4h1M382.2 396.1h1M366.4 403.6h1M357.1 398.0h1M351.7 389.9h1M376.7 388.3h1M367.2 397.7h1M387.7 402.9h1M374.4 390.4h1M350.5 406.2h1M392.1 375.4h1M379.5 392.2h1M377.5 395.0h1M366.2 392.5h1M368.2 401.8h1M365.4 388.2h1M376.8 397.6h1M374.1 394.8h1M387.1 401.4h1M371.3 390.8h1M376.9 377.6h1M362.1 386.9h1M370.8 389.4h1M399.5 398.4h1M368.6 390.0h1M384.0 399.1h1M380.2 402.1h1M364.1 387.2h1M359.6 393.3h1M381.2 384.1h1M361.9 381.8h1M393.6 398.9h1M371.4 382.8h1M355.7 387.4h1M369.0 382.4h1M365.8 402.2h1M368.8 393.3h1M342.4 390.3h1M366.8 387.0h1M351.3 391.9h1M355.8 388.1h1M348.7 391.8h1M380.0 385.8h1M372.7 380.4h1M375.9 396.8h1M363.8 399.6h1M357.7 392.9h1M389.7 392.3h1M354.6 401.7h1M375.3 390.3h1M345.9 377.5h1M349.6 404.4h1M372.3 385.7h1M383.0 404.2h1M358.1 396.4h1M348.1 395.5h1M391.3 381.2h1M369.3 387.4h1M367.5 393.2h1M372.1 399.6h1M375.0 400.9h1M381.3 401.3h1M360.2 395.8h1M364.0 385.8h1M393.0 394.8h1M369.2 375.7h1M365.7 398.7h1M366.1 388.1h1M387.0 390.0h1M364.5 391.7h1M365.7 400.9h1M375.7 391.9h1M364.1 390.7h1M389.7 390.1h1M376.8 379.9h1M372.6 398.0h1M384.5 395.0h1M375.8 395.1h1M371.1 386.0h1M376.0 391.6h1M376.6 398.7h1M370.5 389.0h1M372.4 382.5h1M372.0 385.4h1M374.2 393.5h1M365.9 382.9h1M369.2 387.1h1M366.9 398.1h1M380.5 382.2h1M380.3 403.4h1M382.6 394.7h1M367.5 406.4h1M364.6 380.3h1M369.8 394.8h1M355.7 382.8h1M393.3 393.4h1M378.3 387.8h1M349.8 391.1h1M385.3 387.2h1M346.4 391.1h1M365.1 392.6h1M355.7 390.0h1M361.9 399.6h1M370.5 399.5h1M368.0 375.4h1M344.3 396.8h1M379.5 399.5h1M367.7 378.2h1M362.5 395.7h1M385.8 389.8h1M361.7 386.3h1M381.3 399.5h1M345.9 402.2h1M357.2 380.7h1M348.8 386.7h1M353.2 387.1h1M370.6 395.8h1M362.7 379.8h1M363.5 387.1h1M346.4 393.7h1M350.4 378.6h1M387.5 400.0h1M386.6 393.5h1M363.5 391.8h1M351.6 398.4h1M372.0 390.1h1M345.4 391.6h1M388.9 404.1h1M379.5 389.7h1M370.4 396.9h1M371.1 400.9h1M360.4 373.9h1M351.4 397.8h1M382.0 392.5h1M375.4 393.1h1M370.8 388.7h1M363.6 402.0h1M365.3 392.2h1M383.5 400.4h1M363.8 394.5h1M356.1 393.6h1M372.6 392.5h1M370.7 395.4h1M369.6 388.6h1M356.6 390.6h1M388.7 390.7h1M360.6 388.7h1M353.8 396.4h1M356.4 399.8h1M380.0 397.1h1M381.6 391.8h1M346.8 392.0h1M376.6 380.1h1M353.4 401.3h1M374.1 403.3h1M377.0 393.0h1M374.0 399.3h1M368.3 390.8h1M372.6 390.0h1M398.7 386.4h1M349.8 382.1h1M381.7 389.3h1M370.6 390.8h1M372.1 380.9h1M369.7 387.9h1M382.2 397.5h1M352.9 384.7h1M375.8 402.1h1M378.2 391.3h1M382.5 373.6h1M362.0 384.7h1M355.8 397.0h1M372.1 394.8h1M367.0 397.5h1M378.5 387.9h1M380.4 385.1h1M390.7 382.1h1M365.1 383.8h1M369.2 403.1h1M359.3 406.8h1M386.3 395.6h1M361.3 399.8h1M380.7 392.2h1M399.8 387.1h1M352.0 390.8h1M375.9 406.2h1M346.6 393.8h1M384.5 387.1h1M362.9 382.8h1M378.3 399.2h1M376.1 394.5h1M381.1 391.5h1M377.7 399.1h1M385.0 396.6h1M369.7 398.2h1M349.2 378.3h1M389.0 393.6h1M355.4 387.8h1M366.8 393.1h1M359.1 400.5h1M355.0 405.9h1M377.1 379.0h1M353.2 393.0h1M372.1 389.1h1M368.8 393.8h1M354.2 393.0h1M397.4 387.3h1M355.9 397.8h1M385.7 400.9h1M360.7 391.9h1M371.2 390.8h1M373.7 401.2h1M375.6 392.4h1M366.1 406.9h1M378.0 393.2h1M359.2 407.3h1M384.1 399.9h1M395.1 378.0h1M369.9 390.0h1M359.4 393.1h1M375.5 396.7h1M366.9 381.8h1M375.8 397.4h1M395.7 400.0h1M368.9 383.2h1M371.2 398.6h1M375.1 403.3h1M355.5 386.9h1M370.9 382.5h1M360.9 403.7h1M372.4 391.7h1M361.4 392.9h1M368.3 383.8h1M378.7 382.1h1M385.1 389.8h1M372.4 385.5h1M391.8 403.7h1M395.6 399.7h1M386.0 387.6h1M385.4 389.0h1M368.0 381.5h1M369.4 395.8h1M367.9 383.5h1M380.3 399.9h1M367.5 398.9h1M381.4 384.5h1M368.2 377.4h1M355.4 396.0h1M357.4 395.7h1M373.3 375.7h1M362.4 404.8h1M368.9 393.5h1M359.6 379.5h1M366.3 385.4h1M370.1 376.7h1M386.7 406.4h1M359.0 395.1h1M357.0 399.5h1M357.8 391.3h1M385.6 396.8h1M364.4 380.1h1M348.1 402.3h1M375.3 393.0h1M384.9 393.7h1M359.3 391.6h1M367.4 392.4h1M372.2 390.5h1M359.9 384.4h1M344.3 388.7h1M349.0 377.4h1M356.5 375.9h1M386.5 402.7h1M377.2 371.9h1M368.9 384.3h1M346.0 390.4h1M383.6 396.1h1M349.7 387.1h1M358.8 401.9h1M367.4 384.5h1M356.8 376.4h1M357.7 399.8h1M343.8 394.1h1M367.2 399.2h1M353.8 400.0h1M347.5 392.2h1M365.9 393.5h1M355.8 399.5h1M399.2 404.8h1M356.2 387.8h1M378.1 393.6h1M358.7 402.6h1M375.4 400.9h1M366.3 403.0h1M362.5 383.3h1M368.5 381.1h1M384.9 398.5h1M346.7 393.9h1M379.7 389.6h1M374.0 387.7h1M367.7 391.8h1M374.9 384.6h1M353.9 395.2h1M362.0 396.8h1M362.0 381.7h1M378.2 394.7h1M378.1 389.7h1M363.9 402.9h1M346.5 406.8h1M375.3 392.0h1M369.7 397.5h1M358.5 394.8h1M356.1 377.3h1M371.2 393.3h1M377.0 397.1h1M377.7 399.0h1M354.8 402.5h1M352.1 398.1h1M380.5 400.8h1M388.6 381.1h1M373.5 396.3h1M384.9 385.2h1M368.9 389.4h1M366.4 391.3h1M366.6 378.0h1M368.1 393.1h1M359.5 387.1h1M357.2 405.7h1M380.7 391.0h1M355.9 396.4h1M360.7 404.7h1M383.0 391.5h1M376.6 385.9h1M347.8 399.4h1M389.9 390.0h1M361.7 377.8h1M396.6 382.6h1M355.9 390.9h1M384.4 392.9h1M368.3 392.7h1M379.6 392.2h1M370.6 391.9h1M354.0 403.6h1M359.5 381.6h1M362.8 392.8h1M379.3 380.4h1M352.0 394.0h1M373.5 383.5h1M353.7 393.9h1M366.7 379.2h1M357.1 404.7h1M354.7 401.1h1M348.5 404.7h1M389.5 387.3h1M359.6 397.7h1M352.3 397.0h1M384.5 394.7h1M372.8 391.2h1M381.6 385.8h1M389.3 392.3h1M364.3 379.0h1M362.8 394.5h1M384.8 379.2h1M366.9 386.8h1M352.9 392.5h1M358.6 399.7h1M343.7 376.4h1M375.3 389.7h1M370.2 384.5h1M354.8 386.4h1M367.8 385.6h1M363.0 385.4h1M371.6 383.1h1M341.3 370.9h1M368.3 393.3h1M381.1 386.4h1M353.6 380.2h1M378.4 387.4h1M381.4 391.8h1M364.9 377.2h1M359.7 399.0h1M360.5 398.1h1M347.0 400.9h1M372.7 382.3h1M361.6 387.1h1M370.9 375.9h1M357.2 399.0h1M370.4 398.6h1M379.6 383.1h1M350.9 396.3h1M368.9 393.2h1M357.9 400.9h1M375.0 401.9h1M363.9 398.2h1M367.7 384.8h1M367.5 378.9h1M366.2 394.0h1M377.6 383.8h1M351.2 386.5h1M341.5 387.1h1M358.6 386.9h1M391.6 382.9h1M367.0 391.9h1M358.9 386.6h1M346.6 385.6h1M385.5 404.2h1M364.8 398.3h1M374.5 393.4h1M366.7 402.5h1M375.9 390.6h1M365.5 400.2h1M360.8 386.6h1M364.9 388.4h1M385.0 395.4h1M367.4 388.2h1M387.0 396.1h1M395.7 400.0h1M365.7 388.0h1M364.8 394.0h1M378.8 396.5h1M389.0 380.0h1M368.9 380.8h1M355.1 387.6h1M360.0 384.5h1M348.7 401.9h1M364.3 400.4h1M354.1 373.4h1M360.7 399.7h1M361.2 395.8h1M354.5 404.0h1M374.1 401.1h1M364.9 403.0h1M369.4 388.5h1M360.2 393.0h1M356.7 382.7h1M370.2 398.3h1M364.7 399.4h1M389.2 382.1h1M371.8 384.6h1M360.1 394.0h1M379.4 397.0h1M376.9 407.4h1M363.7 401.5h1M387.4 396.5h1M345.2 391.2h1M364.7 379.2h1M367.7 398.7h1M365.1 391.0h1M387.6 387.4h1M356.2 392.8h1M383.1 397.4h1M369.4 388.4h1M384.6 399.8h1M345.9 395.2h1M376.5 387.3h1M351.7 390.0h1M345.7 397.1h1M361.8 377.9h1M368.2 402.2h1M351.9 389.6h1M392.2 394.0h1M361.3 394.0h1M378.7 384.2h1M367.2 379.1h1M347.8 379.8h1M379.5 395.0h1M378.0 402.5h1M369.1 394.4h1M373.8 396.3h1M354.6 390.2h1M366.5 392.8h1M358.7 391.4h1M372.2 394.0h1M376.2 399.2h1M375.7 400.4h1M379.4 403.9h1M376.7 387.4h1M398.8 401.8h1M384.8 398.5h1M369.1 383.1h1M374.2 389.6h1M363.3 374.9h1M388.7 382.9h1M354.2 396.3h1M375.9 386.0h1M368.4 394.6h1M370.5 396.8h1M378.6 389.5h1M363.5 384.3h1M378.3 397.3h1M368.0 395.0h1M372.6 390.6h1M372.6 381.8h1M363.3 407.7h1M379.9 389.1h1M360.9 380.2h1M366.9 391.0h1M360.1 379.6h1M370.5 395.9h1M383.4 396.7h1M388.3 402.3h1M367.1 383.9h1M374.1 400.4h1M348.3 382.3h1M377.5 387.9h1M387.5 394.3h1M361.3 381.6h1M376.3 378.3h1M351.5 381.7h1M390.7 406.5h1M365.6 389.3h1M377.6 402.7h1M365.8 401.8h1M365.7 382.0h1M393.9 386.9h1M368.4 382.2h1M377.3 394.1h1M364.7 389.2h1M361.0 386.6h1M350.1 402.4h1M380.1 381.0h1M353.3 395.8h1M398.0 390.8h1M364.4 390.4h1M371.7 391.0h1M382.6 400.6h1M375.7 405.5h1M365.5 388.0h1M348.1 373.1h1M373.2 383.7h1M382.3 375.2h1M366.7 389.3h1M354.4 401.7h1M363.3 396.2h1M361.6 393.7h1M362.6 393.1h1M367.2 386.9h1M374.2 391.0h1M355.8 383.9h1M374.3 403.4h1M351.4 389.1h1M374.4 401.1h1M377.8 382.7h1M369.0 399.9h1M371.6 390.6h1M353.0 393.9h1M367.6 392.8h1M388.1 402.3h1M358.1 394.4h1M364.4 393.3h1M389.8 400.0h1M369.0 387.1h1M366.4 395.5h1M362.0 401.6h1M368.8 382.8h1M395.2 368.6h1M365.0 391.5h1M381.4 401.7h1M387.5 405.3h1M372.6 393.4h1M381.8 392.3h1M352.0 388.8h1M377.1 397.5h1M354.1 402.3h1M372.5 380.1h1M374.6 400.8h1M375.4 389.9h1M358.0 401.7h1M371.4 392.4h1M363.3 384.0h1M344.0 389.7h1M383.0 398.8h1M359.6 405.1h1M365.5 384.2h1M381.3 403.9h1M363.4 382.4h1M367.7 372.5h1M369.2 405.0h1M372.1 386.5h1M377.8 388.4h1M385.0 389.5h1M395.1 389.6h1M371.0 384.8h1M351.8 395.3h1M373.1 384.5h1M375.8 389.1h1M361.3 391.9h1M373.6 398.5h1M384.6 395.6h1M359.0 386.9h1M373.3 382.7h1M366.3 389.3h1M367.2 394.0h1M382.1 406.0h1M380.0 400.8h1M354.5 401.0h1M385.4 381.4h1M369.3 385.9h1M361.0 401.3h1M371.9 389.4h1M383.5 384.8h1M357.4 387.9h1M358.7 398.2h1M365.5 383.8h1M362.5 376.2h1M370.7 393.3h1M376.4 390.6h1M373.7 384.8h1M368.8 393.8h1M352.6 397.3h1M370.4 392.9h1M368.5 386.2h1M357.4 397.4h1M365.8 386.0h1M359.1 400.2h1M369.6 401.2h1M368.3 382.8h1M379.8 395.1h1M360.0 390.0h1M355.8 399.3h1M363.1 396.4h1M371.9 390.4h1M373.3 390.5h1M353.1 389.1h1M353.1 398.7h1M377.0 387.7h1M376.6 394.5h1M381.2 384.8h1M368.8 384.4h1M359.6 403.7h1M342.3 385.0h1M374.8 398.9h1M358.3 375.8h1M346.1 395.5h1M382.8 399.9h1M359.0 403.6h1M366.0 397.5h1M366.0 405.6h1M361.8 374.9h1M364.4 394.1h1M372.1 386.6h1M365.5 383.2h1M365.5 393.2h1M371.6 406.0h1M342.5 396.7h1M374.1 383.0h1M369.4 392.4h1M355.5 398.4h1M393.3 398.0h1M378.6 401.2h1M366.8 400.5h1M358.0 394.0h1M377.7 403.2h1M364.8 390.1h1M374.6 391.8h1M370.3 399.1h1M358.6 399.7h1M373.4 390.3h1M352.3 387.3h1M367.9 400.2h1M343.0 398.3h1M371.0 383.3h1M379.6 395.7h1M374.1 384.5h1M354.1 399.9h1M386.7 395.5h1M366.0 388.8h1M346.3 400.5h1M367.3 402.5h1M359.2 401.1h1M359.3 397.3h1M386.3 386.8h1M380.2 392.4h1M356.4 394.1h1M376.8 386.7h1M365.0 387.9h1M358.6 390.8h1M379.1 388.5h1M384.6 389.4h1M359.6 401.2h1M386.6 387.2h1M376.1 383.0h1M363.2 389.5h1M377.6 382.3h1M361.9 386.9h1M369.8 382.5h1M371.2 380.3h1M379.2 381.8h1M344.2 406.1h1M384.6 385.7h1M354.4 396.3h1M394.6 397.4h1M377.0 382.9h1M345.6 395.6h1M381.5 393.6h1M368.4 403.7h1M357.7 401.4h1M379.2 387.4h1M370.1 393.4h1M376.0 384.6h1M365.5 393.2h1M368.9 392.7h1M371.7 390.9h1M362.1 400.9h1M360.2 389.9h1M357.2 383.2h1M374.2 392.2h1M366.8 396.2h1M366.3 398.0h1M391.7 395.3h1M365.1 405.9h1M377.6 379.0h1M385.6 394.2h1M379.4 383.2h1M357.6 387.3h1M375.6 383.4h1M359.4 400.2h1M360.3 393.4h1M357.0 378.8h1M367.4 391.5h1M350.2 400.4h1M379.0 399.6h1M362.0 383.2h1M367.3 393.8h1M366.3 387.8h1M355.8 386.6h1M367.4 388.6h1M389.8 390.3h1M374.3 388.7h1M366.1 384.6h1M362.3 380.4h1M342.0 403.3h1M355.0 396.0h1M366.9 387.9h1M377.8 388.0h1M374.0 389.5h1M380.9 400.2h1M369.3 401.3h1M374.9 405.0h1M366.9 380.1h1M371.2 394.4h1M363.9 390.8h1M365.0 382.4h1M390.4 386.3h1M354.8 379.8h1M357.7 392.2h1M387.3 397.3h1M359.2 382.5h1M354.2 391.8h1M379.5 388.6h1M388.9 408.0h1M370.5 375.1h1M382.4 391.7h1M377.0 400.4h1M355.7 393.0h1M370.7 386.4h1M377.3 391.4h1M363.3 407.6h1M370.6 405.6h1M366.5 400.8h1M358.9 393.7h1M382.2 375.0h1M375.3 390.3h1M382.3 393.9h1M367.5 382.2h1M364.4 386.7h1M364.6 394.2h1M351.5 401.0h1M365.1 397.3h1M341.7 388.3h1M364.7 389.4h1M360.0 395.0h1M373.6 384.6h1M343.5 398.3h1M364.4 401.1h1M379.5 391.6h1M350.3 389.6h1M359.2 402.4h1M346.9 399.8h1M348.9 387.9h1M350.5 386.9h1M362.8 395.5h1M360.9 398.0h1M390.7 393.8h1M353.8 391.0h1M367.1 389.6h1M383.0 401.8h1M393.9 396.7h1M376.9 386.0h1M360.8 399.8h1M370.3 383.4h1M361.0 367.7h1M368.4 382.7h1M367.8 382.9h1M356.6 388.3h1M353.4 388.2h1M381.9 398.9h1M377.2 389.9h1M370.0 386.3h1M366.1 386.0h1M350.0 384.5h1M392.9 395.7h1M358.9 391.6h1M362.7 402.3h1M368.0 387.4h1M377.0 395.0h1M359.7 386.3h1M370.2 379.3h1M356.8 400.6h1M379.4 401.4h1M362.8 387.7h1M364.9 388.6h1M384.6 390.7h1M385.6 386.8h1M373.2 405.5h1M359.0 387.2h1M360.8 379.5h1M364.6 387.3h1M396.3 388.6h1M341.3 400.0h1M380.4 392.2h1M372.0 398.2h1M361.3 392.8h1M370.2 405.8h1M386.3 393.8h1M351.4 399.6h1M367.7 401.8h1M369.0 393.9h1M376.7 386.6h1M357.4 400.0h1M377.0 399.0h1M385.7 381.7h1M380.5 375.9h1M369.0 395.2h1M381.4 401.2h1M356.5 390.3h1M366.3 386.9h1M358.0 387.2h1M382.9 403.4h1M377.9 406.0h1M369.5 383.7h1" stroke="#2a2a2a" stroke-width="1" fill="none" opacity="1"/>
<path d="M403.4 375.4h1M406.8 394.0h1M409.7 404.4h1M418.6 345.0h1M410.8 388.6h1M413.6 376.7h1M407.1 390.5h1M407.3 367.7h1M412.8 353.0h1M417.1 382.5h1M414.2 367.2h1M408.9 391.4h1M412.3 360.0h1M407.2 358.1h1M396.4 400.2h1M409.2 344.2h1M412.1 394.5h1M411.6 340.1h1M411.8 387.9h1M405.5 404.3h1M412.0 392.2h1M416.9 394.0h1M411.9 368.4h1M414.5 359.2h1M400.8 385.9h1M411.4 370.3h1M399.3 378.2h1M407.5 359.4h1M408.9 342.2h1M405.1 390.5h1M411.3 401.0h1M403.7 387.6h1M406.3 366.9h1M411.2 385.5h1M404.8 389.2h1M405.7 403.5h1M405.6 357.6h1M418.5 385.7h1M413.4 399.8h1M411.7 404.2h1M408.9 402.7h1M406.4 378.9h1M415.4 388.0h1M412.4 360.0h1M416.4 387.5h1M397.1 389.6h1M412.5 380.5h1M406.6 357.3h1M408.5 360.1h1M413.6 371.2h1M407.3 357.5h1M408.5 386.9h1M407.8 385.5h1M412.4 363.4h1M398.9 391.7h1M406.4 391.4h1M409.3 357.1h1M397.0 394.4h1M398.8 392.8h1M410.6 373.8h1M411.6 357.7h1M399.9 381.1h1M417.7 375.4h1M399.2 394.1h1M400.7 389.7h1M411.0 345.9h1M407.2 338.5h1M417.7 390.2h1M414.3 386.1h1M398.3 381.7h1M417.7 384.5h1M398.4 392.8h1M401.8 367.5h1M413.5 357.0h1M409.8 374.2h1M418.4 360.0h1M410.2 388.0h1M411.4 389.9h1M419.5 375.3h1M406.2 387.7h1M407.7 356.0h1M401.7 400.1h1M409.2 338.2h1M409.8 395.9h1M401.1 361.7h1M409.1 394.6h1M410.4 399.0h1M410.4 365.9h1M415.7 342.6h1M402.7 399.0h1M405.5 381.8h1M399.6 396.9h1M409.9 359.4h1M407.5 400.5h1M405.7 360.5h1M403.8 397.4h1M418.8 377.2h1M413.3 357.1h1M408.8 384.2h1M400.1 394.6h1M404.8 392.2h1M406.5 358.7h1M413.3 385.4h1M409.9 384.3h1M407.8 369.8h1M407.6 353.4h1M401.5 399.5h1M408.0 391.8h1M398.7 374.7h1M393.1 389.1h1M407.3 376.6h1M403.5 364.1h1M412.5 348.5h1M417.4 348.1h1M409.6 370.9h1M413.1 392.5h1M400.4 385.1h1M408.0 380.9h1M405.2 372.2h1M410.1 378.0h1M408.3 386.4h1M406.2 363.2h1M406.7 386.6h1M407.4 403.2h1M413.2 387.2h1M397.9 379.5h1M404.5 370.3h1M409.7 379.5h1M406.9 375.6h1M414.1 382.6h1M403.7 395.3h1M414.4 401.4h1M410.3 396.1h1M412.0 343.9h1M410.2 375.0h1M409.2 357.6h1M404.5 393.7h1M418.3 389.9h1M415.3 385.5h1M405.7 383.2h1M413.1 402.2h1M411.1 388.2h1M395.4 390.3h1M419.6 340.5h1M414.9 344.6h1M411.9 382.8h1M404.2 357.4h1M411.4 364.5h1M406.3 356.4h1M396.9 387.8h1M403.5 382.5h1M405.4 362.2h1M394.7 405.4h1M413.1 340.0h1M403.7 389.7h1M404.8 354.5h1M410.7 371.8h1M404.1 395.8h1M401.9 403.6h1M406.6 395.4h1M415.9 364.9h1M406.8 394.7h1M406.5 389.8h1M411.1 346.0h1M415.5 339.6h1M403.4 375.6h1M416.0 380.1h1M393.6 397.8h1M401.0 372.8h1M401.5 404.3h1M405.6 403.3h1M398.3 392.2h1M408.1 388.9h1M400.4 393.2h1M403.5 383.2h1M414.1 341.6h1M408.9 367.7h1M409.8 397.0h1M417.2 388.9h1M404.3 386.2h1M411.4 359.8h1M406.2 367.4h1M401.9 376.4h1M412.7 381.4h1M402.1 403.3h1M403.9 376.5h1M410.5 358.6h1M397.2 394.8h1M400.1 381.5h1M410.3 388.0h1M406.6 365.0h1M419.9 359.4h1M417.8 352.0h1M413.1 371.0h1M392.0 398.5h1M407.9 357.2h1M405.8 350.5h1M417.6 367.9h1M406.2 400.2h1M408.3 383.0h1M391.7 406.3h1M408.9 373.1h1M407.8 364.3h1M407.7 381.7h1M405.2 376.9h1M415.3 369.1h1M409.4 361.2h1M404.8 365.6h1M408.1 387.5h1M399.3 378.1h1M412.1 368.4h1M399.6 404.8h1M400.4 395.9h1M412.4 394.1h1M416.3 351.2h1M412.9 364.7h1M398.5 402.0h1M405.5 356.7h1M411.1 390.8h1M414.4 355.5h1M413.3 397.3h1M406.7 397.7h1M414.6 361.0h1M408.9 378.6h1M416.3 399.7h1M405.7 393.9h1M414.0 340.8h1M399.5 356.9h1M401.3 392.6h1M399.4 394.5h1M415.8 364.0h1M405.6 400.1h1M409.2 373.1h1M402.3 403.1h1M404.8 363.2h1M407.9 401.6h1M410.6 368.8h1M413.1 360.3h1M401.2 378.5h1M401.9 396.4h1M401.6 363.7h1M410.0 365.2h1M415.9 398.3h1M405.8 400.2h1M409.8 369.2h1M417.2 363.1h1M414.7 402.0h1M414.1 349.7h1M397.6 376.3h1M406.7 401.9h1M400.0 395.6h1M413.1 366.1h1M413.7 386.9h1M408.0 367.1h1M410.1 357.0h1M397.2 384.2h1M409.2 360.3h1M410.9 360.5h1M414.8 374.9h1M419.1 351.1h1M411.5 343.1h1M407.6 395.1h1M411.1 397.6h1M408.0 379.7h1M407.9 379.3h1M415.9 360.8h1M410.3 368.5h1M407.4 383.3h1M393.8 400.6h1M414.5 393.5h1M394.4 401.7h1M405.7 354.6h1M401.8 362.0h1M403.2 361.1h1M415.6 384.4h1M400.7 386.9h1M406.7 360.1h1M399.7 400.5h1M401.2 383.1h1M400.1 386.5h1M400.8 392.1h1M416.4 388.8h1M402.8 362.5h1M398.9 384.4h1M410.5 362.4h1M408.5 401.1h1M401.2 393.0h1M404.6 384.6h1M412.6 356.3h1M400.7 377.3h1M407.0 352.3h1M396.6 386.0h1M399.3 397.2h1M404.3 401.0h1M406.6 363.1h1M403.4 391.8h1M417.8 356.6h1M416.3 404.5h1M410.9 342.0h1M410.4 384.5h1M412.9 360.4h1M405.0 396.5h1M412.9 382.7h1M408.8 383.9h1M399.8 392.5h1M407.4 396.6h1M398.6 388.6h1M414.0 366.4h1M401.7 376.5h1M412.2 398.7h1M399.5 384.8h1M407.1 378.2h1M417.5 379.6h1M409.9 350.5h1M414.3 364.5h1M413.4 374.1h1M397.3 393.4h1M403.4 386.9h1M400.0 393.8h1M396.8 380.9h1M405.9 377.9h1M407.5 392.5h1M407.6 401.8h1M413.7 344.5h1M405.7 369.0h1M416.0 379.8h1M408.4 377.9h1M401.5 388.9h1M415.7 377.4h1M408.8 359.3h1M416.7 375.1h1M416.6 387.6h1M416.5 358.7h1M405.9 354.6h1M400.7 406.0h1M402.6 375.9h1M405.9 376.2h1M405.5 376.0h1M410.0 345.7h1M405.8 363.3h1M406.8 392.4h1M404.1 355.8h1M412.5 378.3h1M415.3 385.8h1M416.6 375.4h1M402.2 405.8h1M401.2 386.0h1M409.9 390.8h1M412.4 337.1h1M401.8 385.1h1M409.2 380.4h1M420.4 390.6h1M410.8 403.2h1M398.8 382.7h1M404.1 404.0h1M413.6 365.7h1M413.8 357.3h1M402.1 382.2h1M407.0 397.4h1M402.3 384.6h1M405.7 373.0h1M397.1 387.1h1M411.5 405.6h1M416.6 357.4h1M402.1 396.4h1M410.4 363.5h1M414.5 397.4h1M409.0 392.4h1M408.2 401.8h1M413.6 400.3h1M399.4 385.1h1M412.5 347.8h1M412.4 395.0h1M403.2 404.0h1M411.4 366.3h1M407.5 374.5h1M410.5 386.0h1M399.6 372.9h1M414.0 372.0h1M397.6 399.5h1M407.1 382.4h1M410.4 353.8h1M405.8 356.1h1M406.1 374.9h1M407.3 344.3h1M405.7 386.8h1M408.1 400.1h1M411.4 404.0h1M403.1 383.6h1M414.4 369.5h1M413.6 369.4h1M403.4 369.8h1M416.2 350.5h1M413.2 379.3h1M404.6 379.7h1M407.6 398.4h1M402.5 398.6h1M411.5 402.2h1M411.0 356.8h1M409.2 380.6h1M411.2 398.1h1M411.7 399.3h1M409.9 401.9h1M404.0 383.1h1M414.2 386.2h1M410.2 357.6h1M413.8 405.7h1M404.4 396.1h1M405.8 400.5h1M401.8 404.6h1M404.0 374.3h1M411.0 338.6h1M408.0 401.3h1M401.0 393.0h1M414.6 362.6h1M411.7 364.2h1M411.5 385.8h1M414.4 369.9h1M403.0 375.9h1M413.6 362.1h1M416.4 384.8h1M415.5 384.9h1M409.9 366.9h1M414.3 349.6h1M408.5 393.8h1M416.7 348.2h1M413.1 383.5h1M406.3 396.4h1M412.0 336.5h1M403.7 393.9h1M401.3 401.1h1M409.9 364.2h1M412.1 389.0h1M415.8 344.9h1M406.9 376.0h1M416.0 376.6h1M414.7 350.1h1M407.6 391.9h1M400.4 380.7h1M407.8 363.3h1M416.0 377.4h1M416.4 389.3h1M406.5 383.0h1M397.9 385.0h1M403.3 387.8h1M416.3 343.8h1M399.3 376.6h1M397.1 393.8h1M399.3 394.7h1M400.8 386.8h1M410.3 363.4h1M411.4 371.6h1M406.7 402.2h1M408.1 376.2h1M399.1 402.2h1M408.8 404.6h1M414.7 339.8h1M408.5 373.1h1M403.7 388.7h1M409.9 348.0h1M404.8 369.3h1M407.3 366.9h1M393.1 396.0h1M410.0 356.8h1M411.8 377.8h1M410.5 401.3h1M412.9 341.7h1M404.6 363.6h1M409.7 400.0h1M407.0 369.9h1M409.5 406.6h1M405.3 368.2h1M418.9 351.5h1M406.7 341.4h1M404.6 373.7h1M397.1 391.1h1M406.7 356.6h1M410.5 368.6h1M404.9 356.7h1M404.6 402.3h1M409.0 397.7h1M408.0 339.0h1M414.2 371.8h1M412.3 377.9h1M409.6 344.8h1M413.2 390.9h1M396.3 403.9h1M409.2 354.1h1M409.4 361.5h1M416.1 395.5h1M411.0 368.5h1M415.6 383.0h1M400.7 399.8h1M408.7 371.8h1M416.4 352.8h1M406.2 384.4h1M408.9 391.7h1M400.8 369.5h1M408.6 346.7h1M404.0 386.1h1M398.6 384.5h1M400.9 396.7h1M414.0 381.8h1M414.9 343.8h1M405.0 360.6h1M414.3 387.5h1M394.5 400.6h1M397.9 399.3h1M412.3 396.3h1M406.4 371.2h1M412.0 379.3h1M399.4 399.2h1M404.9 379.4h1M411.1 403.0h1M410.9 401.5h1M404.0 399.7h1M410.2 383.2h1M399.6 362.5h1M410.3 388.6h1M407.2 397.5h1M393.7 397.1h1M397.8 383.4h1M410.0 387.5h1M410.8 362.5h1M410.7 359.5h1M412.7 368.1h1M415.0 340.2h1M403.5 405.5h1M416.3 367.3h1M409.7 356.9h1M407.8 385.0h1M414.4 343.3h1M388.7 402.3h1M403.7 354.7h1M410.3 369.7h1M413.9 399.2h1M392.6 394.5h1M412.6 338.2h1M412.8 381.5h1M399.1 405.7h1M403.5 387.6h1M407.1 391.3h1M404.7 352.4h1M407.6 353.4h1M407.4 382.8h1M409.0 389.4h1M408.4 393.2h1M399.7 373.7h1M411.3 374.9h1M409.2 398.8h1M404.7 402.4h1M400.8 408.0h1M410.1 386.9h1M413.2 338.9h1M405.7 378.9h1M401.9 393.2h1M410.3 391.9h1M416.3 383.1h1M414.5 372.5h1M403.6 406.3h1M392.4 403.7h1M402.8 384.3h1M405.6 398.1h1M405.9 385.0h1M410.2 385.6h1M413.9 383.0h1M405.8 384.9h1M415.8 397.0h1M413.2 362.9h1M412.6 340.3h1M411.1 385.7h1M398.4 382.3h1M400.3 383.4h1M414.4 383.2h1M403.0 359.5h1M406.5 344.7h1M408.6 349.0h1M415.9 373.6h1M404.7 404.1h1M407.6 387.5h1M399.9 382.6h1M401.4 370.5h1M407.5 350.2h1M397.8 401.3h1M409.7 378.8h1M410.0 382.6h1M406.2 376.5h1M415.7 363.0h1M410.1 366.3h1M410.2 371.5h1M416.2 339.3h1M412.8 383.2h1M408.0 403.5h1M412.1 346.3h1M407.4 371.6h1M414.7 344.4h1M413.7 340.5h1M411.1 374.2h1M406.3 396.4h1M410.5 345.6h1M405.6 370.1h1M405.7 356.0h1M394.2 378.4h1M408.7 365.0h1M412.6 339.4h1M401.3 404.9h1M402.3 379.4h1M402.3 387.8h1M414.1 358.5h1M403.7 388.9h1M410.7 396.3h1M403.1 404.1h1M417.3 349.8h1M407.9 368.1h1M406.2 367.0h1M395.1 389.2h1M414.0 397.3h1M419.5 351.6h1M398.7 403.3h1M402.8 408.0h1M414.6 353.8h1M393.2 390.7h1M415.0 343.3h1M402.1 376.9h1M410.9 376.2h1M394.2 404.3h1M413.4 386.5h1M411.0 357.6h1M413.9 380.2h1M416.5 352.1h1M408.6 395.4h1M411.0 399.4h1M408.9 358.3h1M396.1 393.1h1M402.3 370.7h1M405.8 371.5h1M415.7 368.6h1M418.5 345.2h1M393.7 386.9h1M411.8 367.0h1M403.0 399.8h1M414.6 349.0h1M411.0 406.7h1M416.0 375.8h1M411.1 381.8h1M405.3 386.4h1M405.0 390.7h1M403.3 366.4h1M403.1 370.6h1M414.6 358.4h1M402.8 375.5h1M400.8 393.6h1M406.1 396.0h1M403.1 366.1h1M414.0 348.0h1M415.5 405.5h1M411.8 374.1h1M411.9 387.2h1M413.6 402.9h1M398.5 391.6h1M415.8 372.8h1M411.4 345.5h1M408.4 357.7h1M390.9 396.9h1M396.4 387.8h1M413.6 360.8h1M415.3 369.0h1M412.7 382.6h1M410.4 361.4h1M411.1 395.9h1M412.2 391.1h1M416.8 365.3h1M413.5 388.9h1M410.0 364.1h1M413.4 343.6h1M413.3 360.4h1M417.2 357.6h1M414.0 406.3h1M411.4 403.0h1M416.8 372.2h1M408.8 380.1h1M398.2 382.8h1M410.9 380.4h1M413.0 367.0h1M418.5 363.8h1M402.3 390.0h1M415.2 398.5h1M409.8 398.7h1M397.5 389.0h1M406.5 370.3h1M409.6 362.8h1M396.3 392.4h1M395.7 405.9h1M410.2 357.7h1M414.7 387.2h1M414.0 380.6h1M415.1 364.6h1M409.2 386.0h1M400.8 381.9h1M415.1 357.8h1M412.2 397.7h1M404.7 365.9h1M407.8 382.7h1M413.8 393.4h1M396.1 396.0h1M411.4 358.2h1M410.6 387.3h1M414.2 349.0h1M405.3 406.3h1M404.1 375.0h1M412.2 352.6h1M404.2 380.9h1M418.1 340.6h1M404.5 340.5h1M407.6 352.0h1M416.2 360.0h1M414.0 387.6h1M416.3 340.0h1M405.8 406.0h1M396.0 382.9h1M404.0 381.4h1M402.6 387.4h1M414.6 365.0h1M409.2 367.7h1M410.5 340.7h1M411.7 358.1h1M402.0 387.1h1M417.4 344.8h1M415.8 391.1h1M394.1 393.6h1M408.6 361.6h1M407.6 393.0h1M406.6 359.0h1M405.6 373.7h1M406.6 405.8h1M404.0 395.0h1M396.9 401.8h1M407.8 344.4h1M410.6 343.5h1M410.2 339.8h1M415.9 364.2h1M410.1 344.6h1M403.7 396.3h1M415.3 361.5h1M395.4 399.1h1M410.2 400.3h1M408.4 402.4h1M411.5 399.5h1M413.2 340.2h1M413.9 366.0h1M406.1 382.5h1M414.5 366.9h1M409.1 389.7h1M393.3 382.2h1M394.7 401.3h1M415.6 394.4h1M409.3 402.2h1M411.8 380.9h1M407.2 370.3h1M415.8 383.9h1M406.7 372.9h1M408.9 389.1h1M411.0 358.6h1M415.0 364.0h1M395.5 398.0h1M408.0 402.1h1M407.6 360.8h1M414.3 389.9h1M410.2 360.4h1M410.5 401.9h1M411.3 347.0h1M405.2 340.2h1M407.6 399.8h1M394.7 385.3h1M409.7 403.0h1M397.4 382.1h1M413.1 359.2h1M399.6 391.7h1M406.3 387.9h1M408.1 349.0h1M410.7 382.5h1M415.5 359.7h1M404.0 396.4h1M417.6 361.0h1M409.2 400.9h1M413.7 361.4h1M401.7 372.7h1M409.8 337.3h1M404.7 361.3h1M407.1 400.4h1M404.4 368.4h1M411.3 367.9h1M392.6 401.6h1M403.3 388.2h1M404.1 367.1h1M400.7 366.7h1M419.2 338.7h1M396.9 391.2h1M407.2 347.8h1M410.4 382.1h1M413.3 363.0h1M390.0 403.9h1M403.6 403.2h1M406.9 372.6h1M394.1 386.9h1M404.3 398.3h1M398.8 368.4h1M407.0 352.0h1M415.8 341.1h1M416.9 347.3h1M403.7 379.7h1M406.8 388.1h1M407.1 364.8h1M409.0 393.6h1M408.2 363.3h1M412.4 383.6h1M409.3 380.9h1M417.1 349.9h1M403.9 393.5h1M396.5 397.5h1M411.6 339.0h1M411.9 384.5h1M403.5 384.3h1M407.1 368.9h1M412.5 360.6h1M411.0 385.7h1M405.6 374.2h1M407.3 366.0h1M395.9 387.4h1M407.5 377.3h1M406.4 343.9h1M401.7 392.9h1M410.2 389.9h1M399.9 365.5h1M407.5 386.1h1M414.0 379.3h1M419.3 341.6h1M403.8 382.1h1M409.2 366.4h1M404.3 355.8h1M414.5 367.3h1M409.6 389.7h1M408.0 394.9h1M411.2 392.6h1M408.1 365.5h1M411.1 376.8h1M404.4 377.6h1M413.5 359.0h1M407.5 345.8h1M404.1 384.4h1M398.6 395.6h1M409.5 396.8h1M396.4 393.1h1M396.2 404.2h1M416.7 369.0h1M409.9 395.6h1M404.9 385.9h1M415.6 369.2h1M411.9 401.8h1M404.0 401.2h1M416.0 404.1h1M395.2 397.4h1M407.4 406.8h1M402.5 361.4h1M414.2 392.4h1M388.7 402.8h1M416.3 381.7h1M400.6 383.0h1M415.1 378.6h1M401.7 370.4h1M410.2 403.3h1M415.7 383.0h1M415.8 377.0h1M410.1 371.1h1M416.1 395.0h1M414.0 369.0h1M407.7 398.9h1M403.0 394.3h1M412.6 358.6h1M395.2 400.8h1M414.0 362.1h1M409.6 368.7h1M405.3 392.7h1M411.8 402.0h1M410.4 396.4h1M394.5 390.0h1M391.0 404.7h1M401.3 369.3h1M405.1 393.0h1M409.9 345.0h1M408.4 399.3h1M415.8 363.0h1M395.4 403.3h1M410.2 385.3h1M412.9 338.1h1M408.4 358.1h1M417.4 360.3h1M395.5 401.6h1M408.3 347.3h1M415.5 370.3h1M406.4 356.7h1M398.3 400.9h1M405.0 376.7h1M413.6 403.7h1M407.4 406.8h1M403.1 384.8h1M407.8 382.7h1M402.1 402.8h1M409.1 404.1h1M404.8 391.7h1M406.9 397.3h1M395.3 400.6h1M413.4 356.0h1M409.8 368.5h1M405.5 352.1h1M413.4 358.6h1M400.5 371.3h1M415.0 369.9h1M416.5 358.5h1M396.7 375.0h1M409.5 375.8h1M411.7 404.1h1M405.8 373.7h1M406.7 337.0h1M410.1 365.6h1M396.0 403.0h1M418.0 347.2h1M402.1 362.7h1M410.1 378.7h1M411.8 377.7h1M415.8 360.2h1M410.3 398.5h1M403.1 397.8h1M408.1 397.8h1M412.8 375.3h1M412.4 356.8h1M409.1 360.8h1M402.2 364.1h1M412.2 377.4h1M395.2 381.2h1M403.4 383.0h1M403.9 372.2h1M408.1 350.7h1M410.0 354.6h1M403.9 366.5h1M413.6 348.5h1M404.5 382.8h1M397.8 402.2h1M400.6 401.7h1M407.0 374.9h1M409.5 382.3h1M391.4 389.9h1M401.9 364.6h1M405.6 365.5h1M411.0 342.3h1M404.4 365.4h1M401.3 401.4h1M403.1 378.5h1M404.4 400.2h1M410.8 358.6h1M410.1 351.6h1M404.8 393.5h1M401.5 364.8h1M412.5 366.7h1M410.9 385.5h1M404.0 384.4h1M399.3 403.4h1M400.7 395.3h1M412.3 340.3h1M404.6 361.1h1M394.4 395.8h1M405.1 396.6h1M416.3 384.8h1M410.4 362.1h1M403.6 380.5h1M411.2 343.0h1M398.6 379.9h1M404.9 370.7h1M400.7 393.6h1M409.3 379.8h1M407.4 396.3h1M415.8 338.5h1M396.1 396.3h1M403.7 366.1h1M416.8 345.8h1M400.1 393.5h1M408.4 354.7h1M413.3 379.9h1M409.1 347.2h1M404.6 404.4h1M393.6 399.1h1M399.0 401.2h1M411.0 348.2h1M400.2 376.4h1M395.2 402.0h1M407.8 394.8h1M400.5 391.5h1M408.5 397.3h1M415.4 381.9h1M388.2 394.8h1M418.4 372.3h1M400.9 384.4h1M412.1 359.6h1M403.0 374.1h1M410.7 377.1h1M411.1 388.3h1M409.9 365.8h1M403.5 384.4h1M409.8 344.5h1M408.9 368.1h1M396.4 375.9h1M416.6 336.6h1M396.4 401.2h1M416.2 368.7h1M414.1 360.9h1M416.6 363.6h1M401.4 365.1h1M403.0 406.4h1M413.5 365.6h1M409.9 383.7h1M409.3 403.2h1M415.0 392.9h1M417.4 367.9h1M414.4 375.4h1M398.9 384.1h1M416.4 349.0h1M407.1 402.6h1M415.8 354.3h1M411.2 352.3h1M405.5 388.9h1M416.6 378.5h1M404.3 382.7h1M415.6 382.9h1M413.5 387.3h1M412.9 340.5h1M411.4 361.4h1M413.5 356.2h1M408.2 399.4h1M409.2 358.4h1M412.9 373.8h1M399.8 372.2h1M403.6 371.8h1M406.8 359.3h1M414.9 338.4h1M405.2 366.6h1M401.8 379.7h1M410.7 355.3h1M402.2 374.9h1M408.1 398.9h1M404.1 367.5h1M404.2 380.8h1M404.9 396.1h1M396.1 394.1h1M406.9 377.8h1M406.5 398.2h1M412.8 339.9h1M409.0 388.7h1M406.5 398.3h1M401.6 360.9h1M406.0 340.9h1M412.1 392.0h1M399.4 377.9h1M402.9 379.2h1M398.3 396.7h1M408.0 338.8h1M409.6 399.9h1M413.1 371.9h1M402.8 368.7h1M413.7 379.9h1M409.9 356.6h1M417.8 371.1h1M401.2 360.8h1M408.9 379.3h1M409.7 359.7h1M400.2 399.8h1M412.4 389.2h1M402.2 387.3h1M405.5 379.9h1M409.0 378.9h1M418.8 379.4h1M402.4 385.4h1M410.1 384.9h1M408.5 348.0h1M410.6 374.6h1M394.3 396.4h1M407.7 382.4h1M411.3 366.3h1M410.7 362.4h1M408.4 378.6h1M403.8 367.3h1M411.1 375.4h1M404.0 395.8h1M398.1 371.0h1M400.2 403.2h1M409.8 342.0h1M410.9 393.9h1M408.1 364.0h1M406.1 393.2h1M414.4 380.9h1M414.8 349.1h1M415.4 397.2h1M397.7 404.2h1M405.7 371.8h1M401.1 357.3h1M396.6 393.1h1M405.5 361.2h1M417.9 349.4h1M402.5 386.5h1M413.8 383.6h1M406.0 362.8h1M414.7 337.9h1M412.3 383.4h1M403.4 403.9h1M403.9 360.6h1M407.1 389.3h1M408.5 358.7h1M402.4 386.0h1M411.0 395.6h1M407.8 355.9h1M408.8 373.2h1M410.2 373.2h1M407.3 359.3h1M414.0 337.4h1M410.8 362.6h1M410.5 358.6h1M404.9 371.6h1M392.9 403.0h1M402.0 370.4h1M406.7 372.6h1M405.9 377.1h1M412.6 358.3h1M390.1 403.0h1M412.8 380.4h1M406.7 361.8h1M405.2 350.6h1M413.9 384.4h1M407.5 357.1h1M408.5 399.6h1M408.5 357.5h1M408.4 360.9h1M413.1 362.0h1M404.2 395.9h1M405.4 368.4h1M395.1 389.3h1M413.2 402.9h1M409.8 383.4h1M409.3 380.1h1M391.8 398.6h1M410.7 358.7h1M404.0 390.1h1M408.9 375.3h1M408.6 407.3h1M411.7 349.4h1M411.8 364.6h1M403.0 399.1h1M411.6 384.4h1M413.5 369.0h1M411.3 393.2h1M409.2 405.6h1M409.2 381.9h1M411.4 348.0h1M412.8 401.2h1M397.5 401.8h1M412.7 387.4h1M404.0 366.8h1M412.7 360.1h1M398.3 395.7h1M410.7 381.5h1M406.9 349.7h1M408.1 361.0h1M397.1 368.0h1M400.9 400.4h1M418.1 360.0h1M392.4 396.9h1M401.9 382.2h1M408.4 394.6h1M409.9 367.3h1M412.9 355.0h1M390.4 395.6h1M403.8 396.8h1M410.3 389.5h1M415.1 380.1h1M409.9 402.8h1M415.5 352.4h1M414.7 363.9h1M403.8 368.5h1M411.8 380.4h1M400.6 382.1h1M406.2 384.6h1M414.1 379.1h1M406.9 390.5h1M419.4 354.7h1M413.2 350.2h1M411.3 339.5h1M410.8 370.7h1M398.0 391.0h1M397.0 387.2h1M402.7 366.4h1M401.8 388.1h1M398.6 379.3h1M416.4 376.5h1M409.3 381.5h1M394.6 389.7h1M410.6 385.9h1M401.3 395.2h1M398.4 405.4h1M401.0 388.2h1M410.6 367.5h1M399.7 392.3h1M410.8 358.1h1M404.8 356.7h1M411.0 347.4h1M416.9 396.1h1M395.1 395.0h1M412.5 373.0h1M413.7 358.7h1M403.4 385.6h1M406.5 379.9h1M406.9 343.4h1M403.2 362.8h1M408.2 395.8h1M407.4 391.9h1M412.7 368.9h1M398.8 394.4h1M409.6 403.0h1M415.8 355.9h1M412.4 351.2h1M407.5 394.7h1M404.9 379.9h1M405.9 369.9h1M412.4 342.3h1M415.4 371.5h1M410.6 396.7h1M414.2 388.9h1M414.2 354.8h1M400.8 394.4h1M408.1 357.3h1M412.0 358.0h1M411.4 402.3h1M402.3 370.2h1M415.9 361.3h1M402.0 387.5h1M398.0 404.6h1M409.1 365.6h1M412.7 372.6h1M400.3 374.9h1M407.2 353.9h1M407.7 400.4h1M409.0 361.7h1M406.4 385.0h1M412.7 387.6h1M417.5 380.3h1M412.9 364.4h1M415.0 392.3h1M409.0 359.5h1M407.2 403.4h1M411.1 382.2h1M411.5 375.3h1M414.3 402.7h1M402.5 400.6h1M401.7 392.4h1M409.4 392.3h1M413.7 368.7h1M397.1 402.9h1M414.2 341.7h1M414.8 352.9h1M402.8 397.7h1M406.6 363.7h1M410.7 353.5h1M415.1 377.3h1M395.8 400.1h1M415.5 356.9h1M409.5 376.5h1M407.5 402.5h1M397.1 393.8h1M406.2 386.6h1M399.2 402.1h1M410.2 377.8h1M412.7 378.7h1M409.0 404.7h1M410.6 374.2h1M404.5 348.6h1M416.1 353.6h1M416.3 404.1h1M412.6 395.4h1M399.7 403.3h1M413.9 382.7h1M410.3 384.3h1M412.8 369.8h1M408.6 406.2h1M411.5 391.6h1M407.3 366.4h1M404.3 368.0h1M414.5 377.4h1M406.3 354.9h1M392.2 406.3h1M398.0 365.3h1M405.2 381.4h1M409.9 396.2h1M406.2 358.7h1M402.9 366.6h1M398.8 388.4h1M408.1 377.3h1M418.2 383.2h1M414.9 378.4h1M411.4 341.7h1M408.4 342.4h1M393.2 402.8h1M410.3 353.0h1M410.3 350.9h1M410.5 370.5h1M411.4 378.5h1M405.2 369.2h1M410.4 373.2h1M398.0 395.5h1M404.0 388.4h1M411.8 352.2h1M399.8 368.5h1M406.6 400.6h1M411.2 383.3h1M414.3 395.4h1M415.2 376.8h1M414.5 374.7h1M406.9 364.6h1M414.2 352.1h1M409.9 368.6h1M404.8 399.2h1M408.5 394.2h1M405.8 358.0h1M407.8 400.0h1M404.0 379.1h1M411.3 376.5h1M412.2 361.5h1M400.2 362.9h1M398.1 368.7h1M404.6 382.9h1M403.0 362.2h1M410.1 339.0h1M400.8 400.2h1M409.7 360.2h1M412.1 358.4h1M411.2 347.3h1M405.0 369.3h1M407.3 389.5h1M409.6 372.6h1M404.4 371.8h1M413.4 340.1h1M404.3 379.3h1M414.0 380.5h1M415.2 365.9h1M412.1 405.7h1M412.2 360.9h1M397.6 400.8h1M416.2 345.4h1M408.7 390.7h1M405.6 394.8h1M408.3 349.7h1M396.3 390.1h1M411.8 392.2h1M406.7 386.3h1M402.7 381.1h1M394.1 406.3h1M413.8 351.2h1M407.9 381.1h1M414.9 352.3h1M415.4 339.6h1M411.5 357.2h1M410.9 356.4h1M406.0 366.3h1M407.7 403.8h1M403.3 381.5h1M401.1 376.7h1M414.0 392.8h1M404.9 389.3h1M404.3 406.7h1M414.5 358.7h1M408.2 386.7h1M409.6 395.5h1M400.2 403.1h1M409.8 360.7h1" stroke="#2a2a2a" stroke-width="1" fill="none" opacity="1"/>
<text x="-1.00" y="500.20" font-family="Liberation Sans, sans-serif" font-weight="bold" font-size="25.8" stroke="#000" stroke-width="0.5" textLength="15.60" lengthAdjust="spacingAndGlyphs" fill="#000">E</text>
<line x1="69.30" y1="485.90" x2="69.30" y2="633.70" stroke="#1a1a1a" stroke-width="1"/>
<line x1="68.80" y1="633.20" x2="240.60" y2="633.20" stroke="#1a1a1a" stroke-width="1"/>
<line x1="66.30" y1="633.20" x2="69.30" y2="633.20" stroke="#1a1a1a" stroke-width="1"/>
<text x="61.90" y="635.80" font-family="Liberation Sans, sans-serif" font-weight="bold" font-size="7.3" text-anchor="end" stroke="#000" stroke-width="0.3" textLength="4.60" lengthAdjust="spacingAndGlyphs" fill="#000">0</text>
<line x1="66.30" y1="608.65" x2="69.30" y2="608.65" stroke="#1a1a1a" stroke-width="1"/>
<text x="61.90" y="611.25" font-family="Liberation Sans, sans-serif" font-weight="bold" font-size="7.3" text-anchor="end" stroke="#000" stroke-width="0.3" textLength="9.50" lengthAdjust="spacingAndGlyphs" fill="#000">20</text>
<line x1="66.30" y1="584.10" x2="69.30" y2="584.10" stroke="#1a1a1a" stroke-width="1"/>
<text x="61.90" y="586.70" font-family="Liberation Sans, sans-serif" font-weight="bold" font-size="7.3" text-anchor="end" stroke="#000" stroke-width="0.3" textLength="9.50" lengthAdjust="spacingAndGlyphs" fill="#000">40</text>
<line x1="66.30" y1="559.55" x2="69.30" y2="559.55" stroke="#1a1a1a" stroke-width="1"/>
<text x="61.90" y="562.15" font-family="Liberation Sans, sans-serif" font-weight="bold" font-size="7.3" text-anchor="end" stroke="#000" stroke-width="0.3" textLength="9.50" lengthAdjust="spacingAndGlyphs" fill="#000">60</text>
<line x1="66.30" y1="535.00" x2="69.30" y2="535.00" stroke="#1a1a1a" stroke-width="1"/>
<text x="61.90" y="537.60" font-family="Liberation Sans, sans-serif" font-weight="bold" font-size="7.3" text-anchor="end" stroke="#000" stroke-width="0.3" textLength="9.50" lengthAdjust="spacingAndGlyphs" fill="#000">80</text>
<line x1="66.30" y1="510.45" x2="69.30" y2="510.45" stroke="#1a1a1a" stroke-width="1"/>
<text x="61.90" y="513.05" font-family="Liberation Sans, sans-serif" font-weight="bold" font-size="7.3" text-anchor="end" stroke="#000" stroke-width="0.3" textLength="14.30" lengthAdjust="spacingAndGlyphs" fill="#000">100</text>
<line x1="66.30" y1="485.90" x2="69.30" y2="485.90" stroke="#1a1a1a" stroke-width="1"/>
<text x="61.90" y="488.50" font-family="Liberation Sans, sans-serif" font-weight="bold" font-size="7.3" text-anchor="end" stroke="#000" stroke-width="0.3" textLength="14.30" lengthAdjust="spacingAndGlyphs" fill="#000">120</text>
<line x1="69.30" y1="633.20" x2="69.30" y2="635.20" stroke="#1a1a1a" stroke-width="1"/>
<text x="69.30" y="644.80" font-family="Liberation Sans, sans-serif" font-weight="bold" font-size="5.6" text-anchor="middle" stroke="#000" stroke-width="0.3" textLength="3.20" lengthAdjust="spacingAndGlyphs" fill="#000">0</text>
<line x1="97.80" y1="633.20" x2="97.80" y2="635.20" stroke="#1a1a1a" stroke-width="1"/>
<text x="97.80" y="644.80" font-family="Liberation Sans, sans-serif" font-weight="bold" font-size="5.6" text-anchor="middle" stroke="#000" stroke-width="0.3" textLength="3.20" lengthAdjust="spacingAndGlyphs" fill="#000">5</text>
<line x1="126.30" y1="633.20" x2="126.30" y2="635.20" stroke="#1a1a1a" stroke-width="1"/>
<text x="126.30" y="644.80" font-family="Liberation Sans, sans-serif" font-weight="bold" font-size="5.6" text-anchor="middle" stroke="#000" stroke-width="0.3" textLength="7.00" lengthAdjust="spacingAndGlyphs" fill="#000">10</text>
<line x1="154.80" y1="633.20" x2="154.80" y2="635.20" stroke="#1a1a1a" stroke-width="1"/>
<text x="154.80" y="644.80" font-family="Liberation Sans, sans-serif" font-weight="bold" font-size="5.6" text-anchor="middle" stroke="#000" stroke-width="0.3" textLength="7.00" lengthAdjust="spacingAndGlyphs" fill="#000">15</text>
<line x1="183.30" y1="633.20" x2="183.30" y2="635.20" stroke="#1a1a1a" stroke-width="1"/>
<text x="183.30" y="644.80" font-family="Liberation Sans, sans-serif" font-weight="bold" font-size="5.6" text-anchor="middle" stroke="#000" stroke-width="0.3" textLength="7.00" lengthAdjust="spacingAndGlyphs" fill="#000">20</text>
<line x1="211.80" y1="633.20" x2="211.80" y2="635.20" stroke="#1a1a1a" stroke-width="1"/>
<text x="211.80" y="644.80" font-family="Liberation Sans, sans-serif" font-weight="bold" font-size="5.6" text-anchor="middle" stroke="#000" stroke-width="0.3" textLength="7.00" lengthAdjust="spacingAndGlyphs" fill="#000">25</text>
<line x1="240.30" y1="633.20" x2="240.30" y2="635.20" stroke="#1a1a1a" stroke-width="1"/>
<text x="240.30" y="644.80" font-family="Liberation Sans, sans-serif" font-weight="bold" font-size="5.6" text-anchor="middle" stroke="#000" stroke-width="0.3" textLength="7.00" lengthAdjust="spacingAndGlyphs" fill="#000">30</text>
<polyline points="69.30,510.45 126.30,514.75 183.30,512.54 211.80,510.45" fill="none" stroke="#333" stroke-width="0.7"/>
<polyline points="69.30,510.45 126.30,521.13 183.30,553.17 211.80,577.59" fill="none" stroke="#333" stroke-width="0.7"/>
<line x1="126.30" y1="510.45" x2="126.30" y2="514.75" stroke="#666" stroke-width="0.6"/>
<line x1="125.30" y1="510.45" x2="127.30" y2="510.45" stroke="#666" stroke-width="0.6"/>
<line x1="126.30" y1="517.45" x2="126.30" y2="524.81" stroke="#666" stroke-width="0.6"/>
<line x1="125.30" y1="517.45" x2="127.30" y2="517.45" stroke="#666" stroke-width="0.6"/>
<line x1="125.30" y1="524.81" x2="127.30" y2="524.81" stroke="#666" stroke-width="0.6"/>
<line x1="183.30" y1="545.80" x2="183.30" y2="560.53" stroke="#666" stroke-width="0.6"/>
<line x1="182.30" y1="545.80" x2="184.30" y2="545.80" stroke="#666" stroke-width="0.6"/>
<line x1="182.30" y1="560.53" x2="184.30" y2="560.53" stroke="#666" stroke-width="0.6"/>
<rect x="66.70" y="508.45" width="5.2" height="4.0" fill="#000"/>
<rect x="123.70" y="512.75" width="5.2" height="4.0" fill="#000"/>
<rect x="180.70" y="510.54" width="5.2" height="4.0" fill="#000"/>
<rect x="209.20" y="508.45" width="5.2" height="4.0" fill="#000"/>
<polygon points="69.30,508.05 72.00,512.45 66.60,512.45" fill="#000"/>
<polygon points="126.30,518.73 129.00,523.13 123.60,523.13" fill="#000"/>
<polygon points="183.30,550.77 186.00,555.17 180.60,555.17" fill="#000"/>
<polygon points="211.80,575.19 214.50,579.59 209.10,579.59" fill="#000"/>
<text transform="translate(23.40,581.30) rotate(-90)" font-family="Liberation Sans, sans-serif" font-weight="bold" font-size="13" stroke="#000" stroke-width="0.3" fill="#000">A</text>
<text transform="translate(24.60,571.40) rotate(-90)" font-family="Liberation Sans, sans-serif" font-weight="bold" font-size="8.6" stroke="#000" stroke-width="0.3" textLength="16.50" lengthAdjust="spacingAndGlyphs" fill="#000">570</text>
<text transform="translate(40.50,618.50) rotate(-90)" font-family="Liberation Sans, sans-serif" font-weight="bold" font-size="12.5" stroke="#000" stroke-width="0.3" textLength="101.00" lengthAdjust="spacingAndGlyphs" fill="#000">(% of control)</text>
<text x="96.00" y="673.50" font-family="Liberation Serif, serif" font-weight="normal" font-size="24" textLength="117.00" lengthAdjust="spacingAndGlyphs" fill="#000">SN50 (µM )</text>
</g>
</svg>
</body></html>
